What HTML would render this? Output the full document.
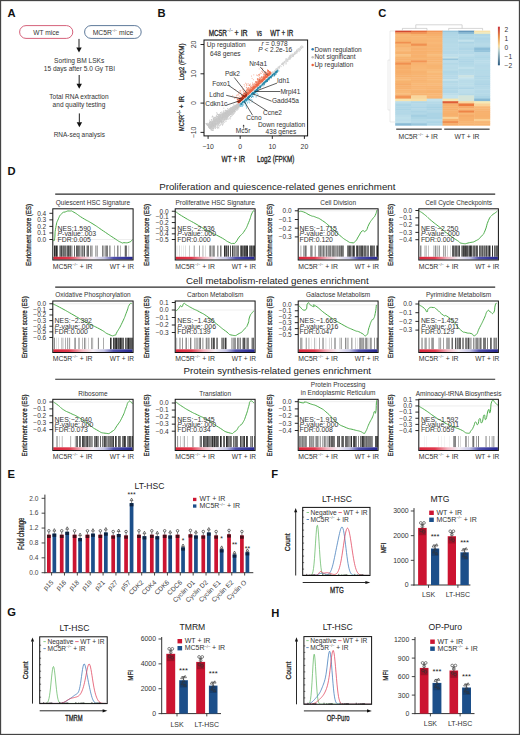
<!DOCTYPE html><html><head><meta charset="utf-8"><style>html,body{margin:0;padding:0;background:#fff;overflow:hidden;width:520px;height:735px;}svg{display:block;}text{font-family:"Liberation Sans",sans-serif;}</style></head><body>
<svg width="520" height="735" viewBox="0 0 520 735">
<rect x="0" y="0" width="520" height="735" fill="#fff"/>
<text x="7.60" y="17.00" font-size="11.2" fill="#111" font-weight="bold">A</text>
<text x="157.50" y="17.30" font-size="11.2" fill="#111" font-weight="bold">B</text>
<text x="378.20" y="17.30" font-size="11.2" fill="#111" font-weight="bold">C</text>
<text x="7.40" y="174.60" font-size="11.2" fill="#111" font-weight="bold">D</text>
<text x="7.40" y="477.90" font-size="11.2" fill="#111" font-weight="bold">E</text>
<text x="271.20" y="477.70" font-size="11.2" fill="#111" font-weight="bold">F</text>
<text x="7.20" y="616.40" font-size="11.2" fill="#111" font-weight="bold">G</text>
<text x="271.20" y="616.70" font-size="11.2" fill="#111" font-weight="bold">H</text>
<rect x="19.6" y="25.6" width="53.2" height="12.8" rx="6.4" fill="none" stroke="#d0506c" stroke-width="0.9"/>
<text x="46.20" y="34.60" font-size="6.6" fill="#333" text-anchor="middle">WT mice</text>
<rect x="84.6" y="25.6" width="56.6" height="12.8" rx="6.4" fill="none" stroke="#4d6b8f" stroke-width="0.9"/>
<text x="113" y="34.6" font-size="6.8" fill="#333" text-anchor="middle">MC5R<tspan font-size="3.6" dy="-2.6">−/−</tspan><tspan dy="2.6"> mice</tspan></text>
<rect x="78.40" y="38.90" width="1.20" height="8.90" fill="#444"/>
<polygon points="76.30,47.40 81.70,47.40 79.00,52.40" fill="#111"/>
<text x="79.20" y="62.80" font-size="6.6" fill="#333" text-anchor="middle">Sorting BM LSKs</text>
<text x="79.40" y="71.10" font-size="6.6" fill="#333" text-anchor="middle">15 days after 5.0 Gy TBI</text>
<rect x="78.60" y="75.00" width="1.20" height="9.20" fill="#444"/>
<polygon points="76.50,83.80 81.90,83.80 79.20,88.80" fill="#111"/>
<text x="79.00" y="98.80" font-size="6.55" fill="#333" text-anchor="middle">Total RNA extraction</text>
<text x="79.00" y="107.10" font-size="6.55" fill="#333" text-anchor="middle">and quality testing</text>
<rect x="78.80" y="113.40" width="1.20" height="9.20" fill="#444"/>
<polygon points="76.70,122.20 82.10,122.20 79.40,127.20" fill="#111"/>
<text x="79.30" y="137.10" font-size="6.45" fill="#333" text-anchor="middle">RNA-seq analysis</text>
<clipPath id="bclip"><rect x="204.5" y="40.5" width="102.6" height="94.9"/></clipPath><g clip-path="url(#bclip)">
<path d="M228.1 111.3h0M236.8 105.2h0M222.7 117.8h0M222.9 116.3h0M239.0 105.5h0M236.7 106.6h0M225.6 114.5h0M232.7 110.6h0M217.8 116.9h0M227.2 114.9h0M207.0 123.7h0M229.5 110.9h0M234.5 107.5h0M213.1 122.3h0M234.7 110.4h0M228.2 114.7h0M221.6 117.1h0M232.7 109.5h0M219.3 122.3h0M220.4 117.8h0M225.6 116.4h0M214.8 117.4h0M232.6 111.9h0M213.1 125.8h0M217.7 123.2h0M234.0 104.9h0M226.0 114.7h0M224.6 117.3h0M239.3 105.9h0M223.4 121.1h0M213.2 125.9h0M218.6 115.9h0M223.7 121.9h0M209.7 125.4h0M224.5 116.3h0M217.9 121.7h0M216.2 116.1h0M230.3 111.7h0M227.2 114.1h0M224.9 116.0h0M233.9 108.4h0M215.1 122.0h0M235.5 107.7h0M211.2 123.0h0M238.0 107.5h0M211.6 124.3h0M213.1 122.5h0M226.8 115.6h0M225.8 110.6h0M236.0 110.0h0M233.8 108.8h0M223.0 115.0h0M220.8 118.6h0M225.9 114.6h0M230.1 117.0h0M219.4 123.0h0M224.5 118.9h0M238.8 106.5h0M211.2 124.7h0M217.9 127.6h0M227.3 114.7h0M219.0 119.0h0M237.5 105.4h0M234.1 108.3h0M228.5 112.9h0M234.7 108.3h0M236.6 107.1h0M212.2 124.5h0M219.4 118.2h0M227.6 112.2h0M226.2 111.4h0M207.2 125.0h0M225.1 116.5h0M236.4 107.0h0M228.6 113.2h0M232.9 106.6h0M238.8 104.0h0M235.1 108.6h0M220.5 115.3h0M209.1 126.7h0M213.1 125.0h0M228.5 114.6h0M234.0 108.5h0M217.2 125.5h0M228.5 112.2h0M206.9 124.0h0M212.2 123.2h0M219.2 125.7h0M233.0 111.3h0M239.2 105.0h0M239.3 105.0h0M216.5 119.3h0M213.0 130.5h0M208.1 125.9h0M210.7 127.4h0M231.7 109.6h0M232.8 109.0h0M209.9 123.0h0M215.3 126.6h0M214.3 122.8h0M237.8 107.6h0M218.1 126.9h0M217.0 123.5h0M214.7 122.8h0M227.9 111.5h0M229.6 118.1h0M224.8 112.0h0M234.5 109.3h0M234.6 106.4h0M211.5 119.5h0M233.9 106.9h0M222.6 125.3h0M228.7 113.9h0M239.9 104.6h0M210.6 128.2h0M212.0 127.8h0M224.0 113.0h0M233.8 111.4h0M231.5 111.0h0M219.9 117.2h0M231.5 111.6h0M211.0 125.1h0M229.4 115.1h0M211.1 124.9h0M224.7 113.1h0M223.3 118.4h0M221.4 115.2h0M233.5 109.0h0M240.2 104.0h0M225.1 117.0h0M218.1 123.4h0M223.4 117.6h0M221.7 117.7h0M222.3 118.8h0M231.7 111.1h0M221.0 113.8h0M221.4 117.7h0M227.9 118.9h0M221.9 121.5h0M217.8 121.0h0M226.4 117.4h0M210.8 126.7h0M214.8 117.4h0M232.6 113.1h0M219.2 114.6h0M235.7 108.6h0M236.0 107.9h0M231.6 110.4h0M238.0 106.9h0M213.8 128.0h0M234.8 108.7h0M236.1 109.5h0M211.3 123.8h0M210.3 126.7h0M230.1 119.0h0M213.2 123.4h0M235.2 109.7h0M228.0 112.2h0M233.8 110.2h0M238.8 103.7h0M222.1 118.1h0M228.7 112.6h0M220.3 120.1h0M209.3 127.2h0M214.1 121.9h0M231.0 111.2h0M238.7 105.2h0M236.0 108.5h0M224.0 112.3h0M232.0 112.2h0M233.9 107.1h0M218.5 122.4h0M236.0 105.4h0M225.2 114.0h0M236.7 105.1h0M215.4 124.4h0M237.0 106.3h0M213.1 125.1h0M225.8 116.7h0M209.5 124.0h0M230.0 110.1h0M231.0 109.4h0M236.1 107.1h0M232.8 109.3h0M230.0 113.0h0M228.5 109.6h0M223.0 115.9h0M239.2 104.1h0M229.9 108.7h0M221.7 117.5h0M235.3 111.8h0M236.0 106.8h0M215.8 126.0h0M212.8 122.9h0M228.6 116.5h0M209.4 127.2h0M227.6 111.8h0M221.5 122.4h0M226.7 114.7h0M235.3 107.5h0M237.6 106.2h0M234.9 109.4h0M236.4 105.6h0M221.0 124.0h0M230.3 111.5h0M223.7 114.3h0M235.1 109.2h0M209.6 126.2h0M210.5 128.2h0M210.1 127.2h0M229.5 112.2h0M227.1 113.8h0M225.1 117.2h0M223.4 116.7h0M240.3 104.2h0M226.1 113.6h0M238.2 104.7h0M231.9 110.2h0M223.3 121.7h0M219.2 120.7h0M215.9 119.8h0M229.6 113.5h0M208.0 125.5h0M217.2 117.1h0M238.0 104.6h0M222.4 123.1h0M216.2 121.3h0M223.5 118.0h0M222.2 115.1h0M216.3 127.2h0M219.3 116.2h0M219.2 122.9h0M231.6 109.6h0M227.7 113.2h0M235.9 106.5h0M221.3 121.7h0M220.4 120.4h0M240.8 104.8h0M214.7 123.2h0M224.0 119.6h0M216.4 117.0h0M230.7 110.0h0M237.5 106.4h0M231.5 107.8h0M214.4 119.4h0M227.3 114.2h0M225.0 117.3h0M222.3 122.3h0M218.4 118.8h0M231.0 110.5h0M216.9 123.0h0M239.3 103.6h0M238.1 106.0h0M215.4 117.7h0M218.7 121.2h0M223.1 113.8h0M222.6 113.2h0M231.9 107.9h0M209.2 126.7h0M224.9 115.8h0M212.2 121.3h0M231.0 111.5h0M232.2 109.0h0M221.4 118.9h0M236.9 110.5h0M235.6 108.2h0M217.4 128.3h0M217.6 121.4h0M231.2 109.2h0M239.7 105.3h0M240.8 104.9h0M229.7 111.9h0M235.4 108.5h0M212.4 122.8h0M240.4 104.1h0M237.1 109.3h0M211.6 126.8h0M232.2 114.5h0M230.7 118.0h0M217.5 114.2h0M228.6 114.5h0M238.2 105.3h0M236.2 106.6h0M211.6 127.4h0M231.5 110.9h0M232.4 107.9h0M225.2 110.7h0M215.1 124.7h0M216.5 115.4h0M223.7 120.0h0M214.4 118.1h0M224.4 114.6h0M216.8 123.3h0M238.8 106.1h0M209.9 124.6h0M227.5 111.8h0M230.0 112.2h0M233.6 114.4h0M219.4 120.9h0M225.4 112.3h0M233.9 108.3h0M210.7 124.5h0M223.1 115.8h0M206.1 123.6h0M224.5 114.8h0M236.5 106.3h0M227.8 112.1h0M230.7 110.4h0M219.6 115.8h0M227.5 116.3h0M227.3 116.1h0M228.7 113.1h0M238.2 106.3h0M233.7 105.1h0M225.2 119.1h0M233.8 111.6h0M230.7 111.2h0M223.9 113.7h0M208.6 124.4h0M240.4 105.9h0M239.4 105.5h0M226.9 119.5h0M219.4 116.6h0M210.9 125.9h0M211.1 120.1h0M233.4 113.3h0M235.7 106.6h0M216.5 118.5h0M210.8 126.7h0M217.9 125.6h0M225.2 116.1h0M215.2 123.0h0M230.8 108.8h0M230.4 113.0h0M235.5 107.7h0M215.3 118.0h0M235.3 106.3h0M220.3 117.5h0M226.7 113.7h0M239.3 103.5h0M232.2 115.3h0M218.2 118.6h0M213.1 126.3h0M231.4 110.5h0M210.2 127.1h0M239.9 105.3h0M224.2 117.4h0M232.0 112.1h0M217.5 119.0h0M239.2 105.4h0M230.0 114.8h0M232.5 108.7h0M214.8 123.3h0M233.9 111.0h0M210.6 128.1h0M230.5 108.2h0M232.3 110.0h0M211.3 128.0h0M223.3 116.0h0M225.3 113.6h0M217.7 119.2h0M227.0 114.4h0M232.2 109.2h0M238.3 105.7h0M239.0 107.2h0M210.4 122.7h0M212.7 116.6h0M228.9 112.7h0M232.3 107.5h0M239.4 105.5h0M219.6 121.7h0M228.1 111.8h0M233.5 107.9h0M228.1 113.1h0M207.7 123.3h0M231.3 107.6h0M227.1 112.1h0M227.6 117.8h0M238.9 106.3h0M210.9 125.5h0M234.4 110.9h0M238.3 103.8h0M225.5 113.5h0M239.6 106.5h0M237.8 103.6h0M230.4 109.8h0M214.9 120.5h0M231.2 112.0h0M210.8 127.6h0M217.9 122.6h0M229.3 112.4h0M215.7 122.1h0M213.3 128.5h0M240.3 106.1h0M234.1 113.3h0M209.6 125.8h0M227.0 114.0h0M222.3 114.6h0M209.9 124.7h0M213.7 118.3h0M213.6 123.3h0M230.3 114.5h0M230.3 114.0h0M236.4 105.3h0M233.1 109.4h0M238.3 106.6h0M239.5 105.7h0M209.7 127.6h0M211.1 123.6h0M237.1 106.6h0M237.7 108.3h0M225.1 115.4h0M233.0 111.8h0M217.2 119.0h0M214.7 120.2h0M236.6 108.7h0M213.8 124.7h0M226.1 111.8h0M216.0 121.4h0M230.9 109.8h0M233.9 107.3h0M229.8 113.8h0M225.4 112.4h0M232.1 110.4h0M217.2 127.3h0M238.1 109.3h0M223.3 114.6h0M213.5 128.8h0M238.8 105.4h0M233.0 108.7h0M212.2 130.5h0M228.8 115.4h0M213.6 126.0h0M214.8 122.2h0M209.0 124.5h0M218.7 117.6h0M232.8 110.4h0M232.6 109.2h0M232.3 112.3h0M233.7 110.6h0M240.3 104.9h0M232.5 107.7h0M228.9 111.5h0M219.7 114.5h0M237.4 105.3h0M221.2 116.6h0M218.6 118.7h0M217.1 120.3h0M226.5 114.8h0M209.0 125.0h0M230.3 113.4h0M226.5 115.3h0M211.5 122.9h0M233.2 109.5h0M216.6 121.6h0M211.5 125.2h0M225.3 114.1h0M213.4 126.6h0M224.6 115.6h0M221.7 117.5h0M218.7 119.0h0M220.2 119.8h0M228.1 114.5h0M230.3 111.6h0M222.3 116.3h0M224.1 116.8h0M213.4 121.9h0M235.7 107.8h0M208.9 124.3h0M238.3 105.8h0M213.1 128.8h0M217.8 116.5h0M212.3 121.7h0M231.0 108.3h0M225.2 112.7h0M234.9 110.8h0M233.3 111.1h0M226.3 112.8h0M235.7 107.5h0M209.6 122.5h0M239.6 106.5h0M239.2 105.7h0M212.1 122.3h0M220.7 116.0h0M220.2 120.2h0M219.6 116.6h0M226.5 115.8h0M226.5 116.7h0M239.9 105.4h0M232.6 111.3h0M215.3 122.0h0M234.6 110.2h0M223.8 115.3h0M225.3 114.5h0M237.5 107.7h0M238.5 105.0h0M217.3 116.8h0M213.9 121.0h0M221.7 114.9h0M226.9 113.2h0M208.5 124.2h0M207.0 124.8h0M216.1 121.2h0M210.1 128.2h0M221.0 112.7h0M234.7 109.3h0M214.4 122.2h0M228.3 113.4h0M214.0 119.7h0M228.9 109.0h0M212.9 121.9h0M209.9 124.2h0M232.9 109.8h0M227.9 110.8h0M238.7 105.0h0M209.9 125.2h0M217.4 119.6h0M215.6 123.7h0M236.9 108.7h0M228.2 113.8h0M214.1 127.0h0M212.8 125.8h0M235.4 105.8h0M226.9 114.3h0M215.1 123.8h0M216.8 112.5h0M227.7 113.2h0M234.7 110.1h0M213.3 118.1h0M230.8 110.1h0M217.3 117.0h0M218.8 120.5h0M229.1 111.9h0M234.8 108.2h0M221.6 121.4h0M211.1 124.4h0M235.2 107.6h0M238.7 103.7h0M240.5 104.3h0M227.5 112.8h0M233.3 111.5h0M233.5 110.4h0M220.6 120.4h0M210.5 126.0h0M231.4 110.3h0M218.8 118.9h0M212.2 124.4h0M231.9 112.4h0M240.3 105.0h0M229.3 114.6h0M222.5 124.4h0M215.2 120.0h0M231.2 110.4h0M222.8 117.6h0M226.4 114.4h0M214.6 122.0h0M241.0 106.0h0M235.6 108.8h0M233.8 110.6h0M220.4 121.3h0M213.5 122.6h0M229.0 110.9h0M237.6 104.5h0M218.9 123.8h0M239.7 103.6h0M226.3 118.1h0M217.4 123.5h0M236.2 106.9h0M231.2 109.3h0M215.7 121.6h0M216.2 119.0h0M232.1 112.8h0M224.1 120.8h0M221.9 115.9h0M232.4 113.2h0M234.2 112.3h0M211.2 123.6h0M231.8 110.3h0M213.7 118.6h0M229.5 113.4h0M212.7 125.6h0M210.6 124.4h0M220.3 120.6h0M211.2 129.5h0M223.4 114.5h0M214.6 126.8h0M225.7 115.5h0M230.8 113.9h0M232.9 110.2h0M211.7 126.1h0M234.6 107.7h0M210.7 125.9h0M228.2 112.8h0M238.6 105.2h0M219.4 123.1h0M218.3 124.4h0M238.3 106.7h0M214.9 124.7h0M213.5 123.0h0M212.9 125.1h0M210.7 124.9h0M233.0 109.8h0M234.8 105.5h0M213.5 122.6h0M218.5 118.3h0M231.4 113.3h0M235.6 105.7h0M232.1 108.5h0M229.3 112.7h0M231.1 110.8h0M230.5 111.8h0M230.1 113.8h0M212.4 130.2h0M220.0 119.3h0M239.6 105.7h0M214.4 121.4h0M228.7 113.6h0M233.5 111.3h0M210.7 121.8h0M233.3 107.7h0M240.2 103.7h0M207.3 124.2h0M240.8 104.9h0M214.6 123.0h0M234.3 110.1h0M213.6 123.8h0M230.3 110.0h0M232.8 110.2h0M218.3 122.1h0M219.4 119.6h0M237.0 106.1h0M217.4 126.3h0M220.6 120.7h0M225.9 112.9h0M209.6 122.0h0M238.8 104.1h0M233.0 109.9h0M220.7 112.8h0M226.6 113.0h0M225.3 116.5h0M222.5 117.2h0M221.6 123.3h0M228.5 113.5h0M212.6 123.2h0M218.7 120.3h0M226.1 116.2h0M216.1 123.7h0M225.0 116.1h0M212.0 125.0h0M229.1 111.1h0M216.9 120.4h0M234.9 108.9h0M232.0 111.4h0M233.5 107.4h0M227.8 111.2h0M212.5 116.1h0M236.1 106.6h0M227.2 114.1h0M208.7 126.4h0M227.4 117.7h0M233.4 109.8h0M233.1 110.1h0M225.8 112.5h0M214.5 122.6h0M219.9 123.9h0M224.6 115.8h0M235.6 108.9h0M217.3 123.3h0M213.0 127.6h0M215.1 120.9h0M225.7 114.4h0M210.2 122.1h0M216.3 124.0h0M221.0 124.5h0M220.5 121.5h0M219.3 119.0h0M237.6 108.3h0M215.7 119.5h0M219.6 119.5h0M223.6 113.8h0M221.7 121.8h0M209.7 124.6h0M234.4 110.2h0M228.6 116.2h0M223.5 115.9h0M222.3 117.7h0M234.0 108.0h0M226.0 121.2h0M237.2 108.0h0M217.9 122.7h0M224.7 119.0h0M224.8 119.7h0M225.5 113.5h0M218.3 121.2h0M226.8 114.1h0M209.9 128.1h0M227.2 112.2h0M226.3 113.9h0M240.3 105.1h0M216.7 119.9h0M228.2 113.3h0M215.1 120.4h0M211.4 127.5h0M214.7 123.5h0M226.7 113.9h0M214.4 121.6h0M215.5 125.1h0M222.8 119.6h0M231.4 109.1h0M219.6 120.1h0M213.3 122.6h0M231.0 113.2h0M220.2 115.2h0M226.6 111.3h0M213.2 124.5h0M230.4 109.6h0M225.8 114.9h0M216.8 121.4h0M230.4 111.5h0M223.1 114.7h0M226.9 116.5h0M229.0 115.1h0M210.6 125.6h0M214.2 124.4h0M211.3 125.3h0M214.5 125.1h0M219.3 119.3h0M210.2 126.5h0M218.8 120.1h0M234.7 107.6h0M231.8 110.2h0M235.4 109.3h0M211.3 125.2h0M212.7 126.2h0M219.8 118.5h0M213.8 127.8h0M214.3 122.2h0M218.6 122.1h0M222.6 117.4h0M213.6 126.9h0M221.9 118.0h0M234.6 107.3h0M222.4 114.6h0M234.6 107.7h0M225.4 118.6h0M212.7 124.6h0M239.9 103.9h0M222.9 119.8h0M217.7 119.2h0M227.0 116.0h0M208.3 124.4h0M218.4 118.3h0M239.8 105.8h0M212.0 127.7h0M227.6 111.0h0M224.2 116.5h0M209.7 122.6h0M219.2 118.7h0M227.9 112.0h0M225.2 117.3h0M222.6 117.0h0M226.3 116.2h0M228.0 117.7h0M230.6 112.6h0M215.4 126.0h0M230.0 110.4h0M221.4 114.2h0M215.2 123.6h0M229.1 113.2h0M219.8 117.0h0M219.3 119.5h0M217.3 122.2h0M212.5 125.6h0M229.9 112.1h0M239.8 103.7h0M217.1 114.9h0M217.9 119.0h0M223.3 123.3h0M221.6 121.4h0M222.2 120.9h0M217.5 119.9h0M223.0 113.2h0M214.8 121.3h0M238.7 104.9h0M213.3 119.9h0M228.4 114.7h0M213.4 123.1h0M232.3 112.5h0M230.5 113.0h0M225.2 114.3h0M218.8 119.1h0M221.7 118.4h0M238.0 104.3h0M219.5 115.9h0M211.3 126.1h0M226.9 113.9h0M217.0 113.6h0M225.6 117.9h0M224.9 112.8h0M231.9 108.8h0M234.6 108.2h0M218.0 120.7h0M235.4 107.1h0M212.7 124.9h0M234.3 106.2h0M231.5 110.3h0M216.3 121.5h0M214.8 122.0h0M215.5 119.2h0M237.9 107.6h0M220.0 120.0h0M212.1 128.0h0M229.8 108.9h0M240.1 104.7h0M240.3 105.3h0M238.2 107.7h0M229.5 112.3h0M213.6 125.6h0M222.8 114.7h0M220.7 117.6h0M225.7 115.6h0M215.5 124.3h0M228.7 114.7h0M227.4 116.5h0M226.4 113.1h0M218.9 128.1h0M221.6 118.3h0M209.1 126.3h0M216.7 120.2h0M221.5 120.5h0M208.6 125.9h0M230.7 113.8h0M224.8 113.8h0M218.9 122.1h0M218.3 116.0h0M231.4 113.0h0M240.4 104.1h0M219.4 116.5h0M213.7 123.1h0M213.9 124.4h0M212.8 121.5h0M231.5 112.6h0M212.4 123.4h0M213.1 128.2h0M227.1 111.5h0M213.6 121.7h0M233.0 109.5h0M234.0 113.2h0M221.0 120.0h0M233.7 110.8h0M231.2 110.8h0M227.0 118.7h0M236.6 106.1h0M233.4 112.3h0M218.7 115.2h0M224.5 119.4h0M224.9 117.0h0M233.6 109.7h0M233.9 109.4h0M222.8 119.8h0M227.2 115.2h0M238.6 105.5h0M209.3 128.0h0M219.0 118.9h0M213.7 121.3h0M227.1 111.4h0M222.6 116.6h0M209.0 127.2h0M214.3 126.9h0M230.9 110.9h0M218.7 127.6h0M213.7 120.1h0M212.8 122.0h0M238.9 105.4h0M232.9 109.3h0M238.1 105.3h0M220.7 116.5h0M211.4 127.8h0M209.8 123.4h0M226.1 113.4h0M235.3 106.8h0M221.8 118.4h0M217.1 116.8h0M227.3 114.8h0M223.4 113.1h0M206.2 123.5h0M231.7 109.2h0M227.9 112.9h0M209.5 122.7h0M239.1 106.3h0M215.6 123.7h0M211.0 129.7h0M237.5 104.9h0M208.8 123.9h0M218.8 121.4h0M213.7 119.5h0M236.6 107.4h0M235.2 106.9h0M223.6 115.5h0M234.5 107.4h0M215.7 117.2h0M233.1 109.3h0M238.6 104.7h0M211.1 126.6h0M212.1 123.9h0M225.6 116.0h0M235.5 105.3h0M220.9 121.1h0M226.2 117.2h0M222.2 113.4h0M219.0 118.6h0M237.8 105.3h0M218.0 122.5h0M212.8 125.1h0M231.3 111.8h0M230.4 110.9h0M213.8 124.6h0M223.1 115.5h0M228.8 111.8h0M209.8 127.5h0M237.4 104.8h0M233.5 110.9h0M224.4 116.4h0M232.4 108.7h0M223.8 108.2h0M211.2 126.3h0M236.9 107.4h0M236.8 104.1h0M217.9 123.3h0M238.4 102.7h0M214.8 124.0h0M240.2 103.8h0M214.7 125.3h0M225.6 115.3h0M211.0 125.2h0M234.2 106.7h0M233.6 108.8h0M234.5 111.2h0M236.5 105.4h0M222.7 115.2h0M230.3 110.8h0M215.1 118.3h0M215.2 124.8h0M238.0 106.3h0M218.7 124.7h0M237.6 105.0h0M215.9 125.6h0M210.5 121.7h0M220.9 112.6h0M224.0 115.7h0M212.6 124.9h0M212.6 122.5h0M227.1 112.8h0M219.4 117.1h0M240.8 104.9h0M223.2 117.2h0M236.1 107.9h0M215.0 127.8h0M229.3 112.8h0M217.6 124.3h0M236.9 104.5h0M226.0 119.6h0M224.7 119.1h0M239.7 104.9h0M209.6 126.6h0M236.0 106.5h0M231.3 110.6h0M236.8 107.1h0M217.4 120.9h0M220.2 118.5h0M223.4 121.3h0M236.6 107.2h0M212.6 124.8h0M235.9 107.9h0M224.8 117.9h0M235.7 107.5h0M225.4 113.1h0M211.5 122.7h0M236.0 109.7h0M234.8 109.4h0M212.3 121.8h0M226.4 115.4h0M214.7 125.8h0M210.7 126.5h0M215.9 123.6h0M228.0 111.9h0M223.3 112.2h0M211.6 126.0h0M213.8 123.1h0M223.3 117.5h0M209.1 125.4h0M226.3 115.3h0M220.7 121.2h0M237.1 105.4h0M225.8 115.4h0M235.1 108.0h0M209.2 126.2h0M223.0 124.3h0M211.8 120.0h0M239.7 106.2h0M219.5 120.1h0M229.2 109.4h0M220.5 115.3h0M232.0 111.6h0M225.9 121.1h0M229.2 110.3h0M229.9 112.5h0M221.2 119.5h0M211.1 128.0h0M224.6 115.9h0M222.1 116.8h0M235.1 107.4h0M230.7 112.7h0M231.2 110.0h0M238.1 108.2h0M221.0 120.1h0M221.9 118.9h0M218.1 122.5h0M226.4 117.9h0M225.0 116.6h0M229.4 112.2h0M222.2 115.6h0M227.3 114.1h0M228.2 113.3h0M212.6 124.4h0M222.1 114.2h0M229.4 110.5h0M215.5 122.8h0M233.0 106.6h0M224.4 113.9h0M238.4 106.6h0M215.3 120.3h0M235.9 106.8h0M212.3 116.4h0M235.0 108.9h0M217.0 118.8h0M218.4 117.0h0M225.0 119.7h0M216.5 122.1h0M226.4 118.9h0M215.9 124.2h0M237.1 109.8h0M210.3 121.7h0M220.8 118.4h0M221.9 114.3h0M226.4 115.2h0M213.5 120.8h0M228.3 115.3h0M226.9 118.1h0M229.6 111.2h0M228.0 115.5h0M229.4 112.9h0M213.8 121.4h0M226.4 116.9h0M233.7 109.3h0M220.5 117.3h0M218.3 114.7h0M227.8 110.9h0M211.6 121.8h0M234.7 112.1h0M225.6 114.7h0M238.5 105.6h0M224.7 122.3h0M215.3 122.6h0M220.7 115.2h0M223.0 117.0h0M219.1 122.3h0M219.8 117.5h0M226.6 111.1h0M223.4 118.0h0M237.0 107.6h0M220.6 116.6h0M218.6 114.7h0M226.2 119.4h0M228.2 119.1h0M230.9 116.4h0M222.3 116.8h0M229.8 113.2h0M208.7 126.1h0M236.9 108.2h0M212.7 126.5h0M211.3 130.3h0M212.7 126.0h0M229.8 111.3h0M224.0 118.0h0M233.7 109.1h0M220.7 121.0h0M209.7 128.4h0M217.9 117.6h0M214.5 122.4h0M229.6 112.2h0M229.7 112.2h0M215.0 126.4h0M233.8 110.3h0M224.5 117.9h0M219.5 120.4h0M220.8 114.9h0M226.3 114.6h0M235.1 106.6h0M235.3 105.8h0M236.1 106.4h0M212.1 121.4h0M219.9 118.9h0M240.1 104.7h0M216.6 124.1h0M226.5 111.1h0M234.1 108.8h0M211.0 124.7h0M221.9 119.7h0M226.0 112.6h0M237.6 104.9h0M211.1 128.1h0M226.0 116.1h0M238.9 105.8h0M210.1 125.1h0M212.6 126.6h0M214.8 124.6h0M208.3 124.4h0M222.7 115.2h0M227.2 114.4h0M216.7 121.1h0M211.3 123.3h0M223.7 115.9h0M234.5 109.6h0M226.8 111.8h0M227.6 108.5h0M220.3 116.2h0M226.1 112.7h0M226.0 113.6h0M213.5 123.3h0M228.1 113.1h0M229.7 110.7h0M230.5 108.7h0M228.1 112.5h0M234.6 108.5h0M231.2 111.8h0M212.6 122.7h0M212.5 122.6h0M213.6 122.2h0M215.6 119.8h0M226.6 112.8h0M210.4 126.8h0M223.2 116.4h0M234.6 106.7h0M217.5 121.5h0M217.8 114.4h0M227.6 113.5h0M231.5 108.2h0M211.3 123.3h0M221.1 116.0h0M230.6 111.1h0M220.3 122.1h0M222.0 118.8h0M236.4 105.8h0M233.4 108.4h0M219.7 121.7h0M236.8 108.0h0M224.0 117.2h0M229.1 110.8h0M231.9 109.8h0M235.7 107.8h0M227.4 115.6h0M211.0 125.0h0M215.5 128.2h0M235.4 107.8h0M217.7 120.1h0M219.5 121.5h0M217.4 118.4h0M217.5 121.0h0M226.0 110.4h0M219.3 119.1h0M210.7 124.8h0M216.6 121.9h0M238.9 105.5h0M234.1 108.3h0M226.3 112.6h0M239.1 105.7h0M232.7 107.6h0M215.3 126.6h0M231.9 111.7h0M226.0 115.7h0M240.8 104.6h0M213.3 123.7h0M239.1 106.0h0M213.3 124.8h0M231.8 110.9h0M236.0 107.1h0M212.1 126.9h0M213.9 119.2h0M225.9 112.9h0M215.5 121.2h0M237.3 107.3h0M213.0 130.0h0M216.1 118.6h0M215.3 120.4h0M226.5 117.6h0M238.4 106.0h0M224.5 118.7h0M209.3 123.9h0M237.9 104.5h0M217.0 120.5h0M223.1 119.0h0M210.7 128.3h0M232.3 111.9h0M238.4 106.4h0M232.3 108.6h0M228.4 110.8h0M216.5 117.9h0M231.7 110.4h0M223.7 113.4h0M211.3 127.0h0M211.2 123.8h0M235.6 108.9h0M214.7 124.3h0M222.0 117.6h0M219.4 121.6h0M222.9 122.1h0M213.0 123.0h0M236.2 107.6h0M232.1 108.6h0M238.0 106.0h0M216.4 119.7h0M224.3 114.3h0M223.7 114.9h0M227.6 113.2h0M239.8 104.2h0M209.0 127.3h0M217.7 122.3h0M209.9 127.9h0M224.1 116.7h0M225.0 114.3h0M239.5 103.5h0M212.2 127.3h0M212.1 128.1h0M218.9 120.0h0M234.6 107.2h0M239.1 104.7h0M231.8 114.4h0M234.6 110.5h0M212.8 128.6h0M233.8 108.3h0M219.3 126.0h0M228.1 111.5h0M227.4 110.0h0M228.6 114.9h0M214.2 124.6h0M230.6 109.0h0M219.1 118.8h0M215.0 125.0h0M213.1 130.0h0M224.4 117.5h0M229.8 111.9h0M219.1 115.8h0M233.7 107.8h0M224.7 114.6h0M238.8 105.4h0M224.7 114.3h0M239.6 103.1h0M212.0 122.2h0M227.5 117.1h0M230.9 112.4h0M227.2 116.4h0M230.0 114.8h0M212.9 122.6h0M211.0 124.7h0M224.4 114.1h0M222.1 118.7h0M236.7 106.1h0M231.7 116.1h0M210.6 124.4h0M209.4 120.2h0M220.5 120.1h0M212.0 120.4h0M219.4 117.9h0M232.1 114.9h0M225.5 118.0h0M219.5 120.5h0M211.0 123.5h0M238.9 104.5h0M223.4 113.1h0M237.4 107.0h0M222.2 120.0h0M227.6 116.7h0M227.0 114.6h0M235.4 106.5h0M219.4 114.1h0M235.7 106.8h0M237.1 107.3h0M222.6 117.3h0M220.3 115.6h0M232.6 110.7h0M223.4 117.3h0M219.5 116.8h0M237.2 105.8h0M224.4 113.9h0M218.6 123.5h0M212.1 117.2h0M213.6 117.1h0M236.1 106.6h0M234.7 109.7h0M212.0 129.5h0M235.7 108.6h0M214.1 121.2h0M227.2 113.3h0M240.1 104.9h0M230.2 112.5h0M220.3 125.3h0M218.5 117.4h0M215.2 128.4h0M213.6 126.3h0M234.2 108.7h0M217.1 124.5h0M217.7 120.1h0M228.0 114.4h0M213.9 118.5h0M238.9 105.8h0M218.9 116.9h0M213.3 121.7h0M235.1 106.0h0M231.9 111.7h0M234.8 111.4h0M220.1 117.2h0M235.7 106.9h0M214.4 123.1h0M234.2 110.0h0M218.3 121.4h0M225.8 111.9h0M220.2 114.5h0M216.4 119.0h0M241.0 106.1h0M227.7 112.0h0M211.2 123.1h0M213.5 121.9h0M213.8 123.3h0M219.5 122.5h0M233.9 107.7h0M215.3 127.0h0M218.3 116.6h0M237.6 106.6h0M211.0 124.2h0M220.0 117.5h0M227.6 113.1h0M225.6 117.3h0M228.6 113.9h0M240.6 104.8h0M239.8 105.0h0M224.4 115.2h0M234.9 108.2h0M218.5 120.6h0M222.5 115.2h0M232.0 112.5h0M210.7 127.5h0M207.4 125.1h0M215.0 122.0h0M212.2 124.4h0M221.6 122.4h0M228.2 114.0h0M210.2 121.7h0M211.0 126.8h0M216.9 124.1h0M218.7 125.0h0M228.2 113.3h0M222.4 118.3h0M228.4 112.6h0M227.8 110.9h0M227.7 113.7h0M231.5 110.5h0M234.6 107.0h0M239.8 103.8h0M226.2 116.7h0M221.7 118.5h0M237.4 105.6h0M230.3 112.8h0M219.9 114.9h0M212.2 128.3h0M218.3 114.8h0M236.9 105.9h0M207.6 125.1h0M227.8 113.1h0M214.0 126.5h0M239.0 107.8h0M230.4 111.1h0M230.6 110.2h0M230.7 111.1h0M217.1 120.7h0M232.2 108.4h0M219.0 117.0h0M234.1 110.7h0M214.3 118.9h0M237.5 106.7h0M213.2 122.0h0M235.7 108.6h0M235.1 111.4h0M220.0 120.7h0M210.7 125.5h0M214.6 120.2h0M220.9 122.5h0M227.7 111.6h0M238.2 106.0h0M219.5 119.1h0M230.1 114.7h0M231.1 110.9h0M221.8 111.9h0M221.3 117.7h0M207.5 124.9h0M216.0 120.5h0M228.3 112.0h0M234.8 107.7h0M213.0 119.1h0M224.7 113.3h0M223.8 119.5h0M219.8 121.5h0M221.6 120.4h0M229.8 109.1h0M216.9 121.0h0M231.2 114.5h0M213.6 120.2h0M230.6 111.6h0M222.1 116.2h0M240.1 104.5h0M225.5 117.7h0M229.4 115.5h0M208.8 126.9h0M235.8 105.2h0M239.1 104.8h0M223.1 116.2h0M220.5 116.0h0M225.3 110.3h0M234.2 107.5h0M209.1 123.2h0M233.0 106.8h0M231.4 110.2h0M211.2 129.6h0M228.3 113.0h0M216.0 125.1h0M211.3 125.1h0M236.3 107.2h0M219.7 120.6h0M226.3 114.0h0M221.9 118.5h0M223.8 111.2h0M221.4 121.8h0M232.3 110.1h0M224.6 113.8h0M231.6 109.7h0M216.8 116.5h0M229.1 111.0h0M221.4 118.2h0M233.5 107.1h0M232.3 113.1h0M215.4 121.4h0M229.5 113.7h0M223.4 115.5h0M218.6 121.5h0M222.4 121.2h0M211.7 124.3h0M232.1 109.0h0M216.2 124.2h0M211.6 123.1h0M206.6 124.2h0M229.4 111.2h0M209.4 126.8h0M239.8 104.0h0M216.9 122.5h0M236.1 106.2h0M236.0 105.5h0M227.0 110.9h0M213.2 126.4h0M208.4 125.8h0M214.6 122.7h0M216.0 118.4h0M231.8 110.0h0M225.5 114.7h0M208.9 127.1h0M228.9 111.8h0M224.4 116.9h0M235.7 108.5h0M217.5 120.1h0M234.9 108.3h0M236.9 108.4h0M230.5 116.5h0M228.1 113.0h0M230.8 107.5h0M217.3 122.7h0M230.3 110.9h0M237.2 105.5h0M239.2 106.2h0M221.9 118.0h0M226.1 111.2h0M218.7 119.8h0M224.2 120.3h0M209.9 127.9h0M212.7 125.2h0M230.2 113.8h0M224.9 113.2h0M227.2 114.2h0M223.7 111.0h0M238.8 102.4h0M219.2 117.7h0M220.7 119.8h0" stroke="#c8c8c8" stroke-width="0.95" stroke-linecap="round" fill="none" opacity="1"/>
<path d="M263.8 81.6h0M247.8 96.8h0M293.2 55.2h0M242.1 99.2h0M283.3 63.1h0M275.3 72.4h0M260.0 85.1h0M286.9 60.5h0M292.9 53.6h0M302.4 46.2h0M254.2 89.1h0M263.2 80.8h0M284.2 61.9h0M279.0 68.5h0M282.2 64.1h0M274.9 72.7h0M253.8 90.0h0M296.8 50.9h0M269.7 75.9h0M269.4 75.2h0M254.9 91.2h0M274.3 73.8h0M272.0 72.2h0M255.0 89.3h0M251.3 93.5h0M279.7 66.0h0M292.9 56.6h0M242.2 100.0h0M264.6 81.8h0M247.0 95.2h0M249.8 94.3h0M262.8 83.0h0M289.9 56.6h0M245.6 98.0h0M265.8 81.3h0M268.3 77.4h0M270.4 76.0h0M248.7 93.7h0M282.3 63.8h0M255.6 90.0h0M263.1 81.6h0M241.8 102.5h0M252.6 91.5h0M251.3 92.8h0M285.1 62.0h0M255.8 89.7h0M293.1 56.1h0M294.4 54.4h0M251.9 90.8h0M279.3 68.2h0M264.1 82.4h0M263.4 82.3h0M284.6 62.2h0M281.3 66.6h0M290.6 56.5h0M276.9 70.4h0M298.6 50.8h0M286.2 63.7h0M263.3 81.6h0M244.2 98.7h0M287.0 59.4h0M271.8 75.2h0M296.6 51.6h0M277.2 69.1h0M268.1 75.7h0M266.4 79.6h0M270.3 76.5h0M270.6 74.7h0M272.6 74.2h0M285.8 60.1h0M266.2 80.9h0M275.1 71.7h0M288.4 59.2h0M253.7 90.2h0M245.1 98.8h0M245.5 97.8h0M287.2 59.9h0M282.8 64.1h0M284.5 62.3h0M283.5 63.6h0M264.6 77.6h0M290.3 55.5h0M295.1 53.6h0M273.0 73.9h0M241.0 103.2h0M256.6 88.1h0M259.8 85.2h0M276.1 72.4h0M272.0 73.8h0M259.3 85.8h0M294.8 53.9h0M255.2 87.4h0M253.5 92.2h0M263.8 81.9h0M268.5 75.9h0M263.1 82.3h0M290.8 57.7h0M276.2 72.4h0M243.1 99.9h0M266.4 80.3h0M275.4 70.6h0M290.4 58.0h0M258.2 86.2h0M276.3 68.4h0M269.2 77.6h0M294.9 52.7h0M243.1 99.1h0M243.6 100.6h0M294.9 54.4h0M251.8 93.1h0M297.0 49.5h0M271.0 74.3h0M282.2 64.4h0M253.0 90.7h0M293.4 55.9h0M254.2 92.2h0M247.3 98.1h0M300.3 49.3h0M265.9 79.2h0M296.5 51.0h0M283.2 64.0h0M283.9 63.5h0M243.1 100.9h0M254.4 89.4h0M276.3 69.6h0M250.5 94.9h0M296.8 50.6h0M250.7 95.3h0M290.8 57.9h0M242.2 101.2h0M263.7 81.2h0M274.0 71.6h0M245.2 96.9h0M267.3 78.7h0M283.5 65.0h0M248.5 96.8h0M299.3 51.6h0M273.1 73.0h0M257.9 86.0h0M272.1 75.4h0M298.9 50.5h0M294.6 54.1h0M277.4 68.7h0M248.9 95.1h0M258.0 88.4h0M253.7 89.5h0M298.8 51.0h0M300.9 48.0h0M262.5 84.1h0M243.0 100.0h0M260.6 83.7h0M286.8 60.8h0M251.5 93.0h0M244.1 98.7h0M275.8 71.7h0M289.9 58.4h0M277.3 68.9h0M272.4 73.8h0M246.1 97.4h0M276.1 69.9h0M261.7 82.4h0M251.1 94.3h0M251.3 93.8h0M292.7 54.8h0M294.6 52.9h0M246.1 97.8h0M295.7 53.3h0M274.2 72.9h0M247.2 96.1h0M273.8 72.6h0M271.7 73.9h0M265.8 80.3h0M253.2 91.7h0M295.1 53.6h0M271.7 74.5h0M299.2 49.1h0M271.0 75.4h0M282.6 63.1h0M254.6 90.0h0M256.4 87.7h0M241.6 100.8h0M258.9 86.8h0M296.6 52.8h0M255.2 90.1h0M277.7 69.3h0M243.2 98.8h0M254.3 87.9h0M241.8 99.9h0M278.5 67.4h0M260.6 82.7h0M289.7 55.7h0M241.2 102.8h0M298.6 48.9h0M246.0 98.3h0M255.4 89.0h0M248.8 93.7h0M262.0 83.6h0M254.2 90.8h0M262.9 85.9h0M289.5 57.6h0M269.2 74.8h0M297.1 51.2h0M287.0 59.9h0M279.0 67.1h0M293.2 54.8h0M284.9 61.9h0M262.8 83.9h0M283.6 65.8h0M287.6 61.1h0M299.7 50.3h0M296.8 51.4h0M289.3 56.3h0M276.2 68.5h0M289.7 58.7h0M294.3 52.9h0M274.9 74.0h0M300.5 50.1h0M290.5 59.0h0M256.2 88.9h0M252.2 91.5h0M268.9 77.0h0M297.7 51.8h0M283.0 63.8h0M288.7 57.8h0M289.3 57.2h0M290.7 54.8h0M266.3 80.5h0M293.0 55.7h0M260.6 82.9h0M289.2 57.2h0M240.4 102.7h0M247.1 96.8h0M290.4 56.1h0M269.2 77.3h0M261.3 84.0h0M293.6 55.3h0M278.9 67.7h0M257.4 87.8h0M283.3 62.3h0M291.0 57.3h0M247.7 96.1h0M291.6 55.9h0M251.5 92.4h0M264.3 83.7h0M254.8 90.8h0M295.7 51.6h0M263.5 79.3h0M271.9 74.1h0M302.5 47.0h0M251.3 94.7h0M273.6 73.3h0M299.4 49.1h0M268.8 77.3h0M261.9 82.6h0M245.4 96.4h0M272.0 73.4h0M264.9 82.6h0M281.4 64.6h0M244.5 98.4h0M299.7 48.0h0M262.4 82.0h0M263.0 81.0h0M272.3 72.8h0M270.3 73.6h0M263.2 82.5h0M292.4 55.4h0M282.4 63.5h0M287.0 60.0h0M295.9 52.1h0M241.5 100.2h0M261.5 85.4h0M297.1 53.1h0M248.6 94.3h0M242.7 100.1h0M264.7 80.7h0M257.0 86.3h0M287.7 59.4h0M267.2 79.7h0M300.8 46.7h0M281.7 63.7h0M264.9 82.2h0M283.2 63.4h0M258.0 87.6h0M292.5 56.5h0M289.7 57.6h0M272.8 73.9h0M295.6 53.4h0M251.7 94.1h0M260.2 85.7h0M264.3 81.4h0M301.1 48.2h0M259.5 85.3h0M299.4 49.3h0M268.1 78.5h0M247.0 96.9h0M264.9 81.6h0M300.5 48.0h0M297.5 51.5h0M268.8 77.8h0M288.2 58.0h0M260.5 85.6h0M270.4 76.9h0M274.7 70.8h0M256.6 86.6h0M263.5 82.9h0M257.9 86.3h0M279.6 67.0h0M243.8 101.6h0M291.5 55.4h0M298.8 49.2h0M256.8 87.9h0M274.8 72.0h0M287.1 59.8h0M290.2 56.5h0M246.9 96.5h0M301.5 48.5h0M279.5 66.6h0M264.0 79.7h0M299.0 49.4h0M264.3 80.2h0M290.4 56.9h0M295.1 53.6h0M272.7 72.0h0M296.5 51.5h0M248.4 95.4h0M266.2 79.7h0M272.1 74.9h0M275.7 69.5h0M265.1 79.7h0M292.9 54.6h0M289.7 58.2h0M282.0 64.5h0M286.2 58.9h0M296.5 51.7h0M287.1 61.0h0M294.5 52.2h0M248.2 95.4h0M277.7 67.3h0M258.1 88.0h0M292.1 56.3h0M257.4 87.6h0M246.5 98.1h0M283.5 65.4h0M262.6 82.4h0M285.0 64.0h0M261.0 85.0h0M240.2 102.7h0M257.2 87.2h0M243.2 99.1h0M291.0 57.2h0M242.8 101.0h0M254.0 90.1h0M279.3 66.9h0M276.2 71.0h0M253.9 90.7h0M292.4 54.8h0M290.7 56.8h0M288.9 58.6h0M241.4 100.9h0M244.1 99.5h0M279.5 67.0h0M264.5 79.6h0M271.9 73.5h0M294.3 53.3h0M303.0 46.7h0M259.5 83.0h0M302.5 47.3h0M248.9 95.7h0M268.3 76.8h0M267.8 76.4h0M261.8 83.8h0M258.4 87.4h0M252.3 91.9h0M267.0 77.4h0M252.5 91.7h0M256.5 87.6h0M274.8 70.7h0M285.5 59.1h0M300.4 49.6h0M284.8 61.6h0M244.2 99.5h0M294.3 53.8h0M285.1 61.6h0M262.1 82.5h0M249.3 92.7h0M258.0 84.5h0M243.2 100.8h0M296.9 52.2h0M290.3 56.9h0M247.0 97.1h0M249.9 94.4h0M301.6 45.9h0M297.4 51.2h0M291.0 55.6h0M248.8 96.3h0M272.5 74.5h0M253.3 91.1h0M297.2 51.3h0M286.2 63.9h0M267.0 77.7h0M285.3 60.5h0M293.6 55.7h0M249.0 95.8h0M276.9 69.7h0M265.0 82.4h0M289.5 58.2h0M270.4 77.7h0M274.0 72.9h0M244.3 98.7h0M296.3 53.2h0M270.3 75.2h0M255.1 88.9h0M296.7 51.2h0M277.4 69.5h0M248.3 96.1h0M277.4 70.2h0M279.9 66.6h0M243.8 98.7h0M286.2 62.3h0M265.5 80.4h0M282.2 64.6h0M280.4 65.6h0M283.2 63.3h0M297.2 51.2h0M278.1 69.2h0M302.1 46.9h0M253.7 89.3h0M292.4 56.6h0M279.9 66.9h0M245.9 97.6h0M301.4 47.4h0M243.1 100.2h0M255.6 89.7h0M282.1 64.6h0M297.6 49.2h0M255.7 87.2h0M250.8 95.2h0M246.8 97.3h0M301.0 47.4h0M290.4 56.7h0M250.1 93.6h0M289.4 58.1h0M295.9 52.3h0M293.5 54.4h0M275.3 71.6h0M278.4 67.1h0M277.5 69.2h0M243.4 99.8h0M274.2 71.8h0M241.2 103.2h0M287.9 61.5h0M291.2 56.9h0M269.5 77.5h0M253.7 91.8h0M268.3 79.7h0M275.4 72.8h0M263.0 83.7h0M293.9 55.0h0M293.7 55.0h0M259.5 86.1h0M288.4 60.0h0M302.1 47.8h0M288.5 59.4h0M247.3 96.6h0M283.0 63.0h0M268.3 76.7h0M265.1 79.2h0M297.0 50.3h0M286.4 61.6h0M291.4 54.2h0M285.9 62.9h0M293.6 54.7h0M267.4 78.7h0M299.0 49.0h0M267.7 77.8h0M258.6 85.5h0M261.9 83.1h0M268.1 78.0h0M300.9 46.4h0M286.8 58.6h0M293.5 56.2h0M257.3 87.4h0M255.7 88.7h0M254.7 90.0h0M296.1 52.9h0M288.2 58.9h0M289.5 59.5h0M272.9 72.1h0M247.0 97.3h0M279.0 66.9h0M261.7 80.8h0M249.9 93.6h0M273.0 72.4h0M298.3 49.0h0M266.5 80.5h0M300.3 47.4h0M245.9 98.1h0M297.4 51.7h0M241.0 102.3h0M303.0 47.4h0" stroke="#d2d2d2" stroke-width="0.9" stroke-linecap="round" fill="none" opacity="1"/>
<path d="M245.3 105.0h0M252.7 95.1h0M252.5 93.2h0M245.4 102.5h0M240.3 105.2h0M245.2 102.2h0M258.0 91.2h0M253.0 96.6h0M250.4 96.1h0M242.0 105.6h0M242.4 105.9h0M242.0 103.1h0M246.7 108.3h0M251.6 94.3h0M244.3 100.9h0M242.3 104.7h0M247.3 102.7h0M248.8 99.6h0M256.1 97.0h0M248.0 102.1h0M257.7 95.2h0M244.0 102.2h0M255.4 92.3h0M247.1 103.3h0M241.1 106.5h0M246.2 106.4h0M253.5 96.9h0M244.0 103.7h0M246.6 107.2h0M249.4 102.1h0M252.1 95.9h0M241.0 104.7h0M240.2 105.5h0M257.1 90.5h0M245.9 99.5h0M254.3 93.5h0M245.4 102.6h0M243.1 105.1h0M244.1 101.6h0M247.6 100.5h0M253.0 93.1h0M244.5 102.9h0M248.0 100.8h0M249.8 99.6h0M257.5 93.8h0M255.0 92.6h0M245.6 103.4h0M241.7 103.7h0M247.6 98.0h0M242.2 104.1h0M248.4 98.1h0M248.4 99.3h0M243.1 104.9h0M248.4 98.4h0M256.6 90.8h0M243.5 101.8h0M256.2 96.7h0M257.9 91.1h0M258.2 94.8h0M251.7 99.6h0M245.5 103.1h0M246.6 105.0h0M241.2 104.3h0M252.0 102.0h0M254.2 95.2h0M245.9 101.0h0M243.9 102.8h0M243.0 104.8h0M257.9 90.5h0M239.6 105.1h0M251.3 95.1h0M247.6 97.6h0M253.8 94.6h0M248.4 97.5h0M250.6 96.0h0M254.4 93.1h0M256.2 90.2h0M249.8 102.9h0M255.8 91.2h0M251.2 96.8h0M256.4 91.8h0M240.6 105.3h0M247.9 98.9h0M253.5 94.1h0M251.5 97.5h0M252.0 94.9h0M240.9 106.3h0M248.2 97.9h0M250.6 99.0h0M257.5 89.9h0M251.1 95.9h0M246.6 105.4h0M258.3 90.4h0M256.6 90.1h0M246.5 101.4h0M252.1 95.4h0M240.5 105.6h0M254.8 92.6h0M240.5 106.3h0M248.3 98.8h0M249.5 96.4h0M244.6 102.3h0M242.5 104.3h0M242.0 103.2h0M252.2 100.2h0M242.4 106.2h0M244.8 102.6h0M249.6 100.0h0M248.8 100.7h0M256.4 93.1h0" stroke="#74c6e2" stroke-width="1.0" stroke-linecap="round" fill="none" opacity="1"/>
<path d="M276.3 71.6h0M257.1 91.7h0M242.3 102.7h0M240.9 103.8h0M251.4 94.7h0M274.5 75.9h0M257.2 91.0h0M270.7 76.8h0M265.0 82.1h0M249.3 95.9h0M265.9 82.6h0M274.5 74.0h0M276.4 71.3h0M274.1 73.7h0M262.0 85.1h0M250.7 96.3h0M249.6 96.6h0M266.2 81.5h0M242.9 101.7h0M258.8 88.9h0M265.4 81.2h0M258.1 88.0h0M265.8 81.2h0M247.8 98.9h0M276.2 71.4h0M256.8 89.9h0M276.3 71.5h0M276.9 71.9h0M274.1 73.5h0M254.7 92.9h0M265.1 81.5h0M248.8 96.9h0M248.2 96.9h0M245.4 99.7h0M255.6 90.5h0M262.1 84.4h0M276.1 72.4h0M266.9 80.3h0M256.9 89.5h0M241.5 104.2h0M265.9 81.3h0M276.8 71.7h0M269.4 78.4h0M264.8 83.2h0M267.0 80.4h0M269.0 78.0h0M251.5 93.9h0M264.0 84.8h0M272.7 75.7h0M248.2 98.0h0M241.8 104.7h0M250.6 95.1h0M243.2 102.2h0M266.3 80.4h0M240.3 104.1h0M267.4 80.3h0M277.5 70.7h0M275.3 72.2h0M276.9 71.3h0M260.2 86.7h0M252.8 93.8h0M250.2 95.7h0M242.5 102.6h0M243.8 101.3h0M263.7 83.0h0M270.4 77.5h0M267.9 79.6h0M247.9 98.4h0M275.2 72.5h0M246.0 99.0h0M267.0 81.2h0M249.5 97.0h0M270.2 77.0h0M262.4 84.4h0M247.6 97.9h0M271.0 78.2h0M249.6 97.0h0M261.9 85.3h0M245.6 99.8h0M245.0 101.3h0M264.0 82.5h0M256.6 90.2h0M260.2 86.0h0M267.5 79.5h0M248.7 96.9h0M267.0 81.4h0M263.6 83.5h0M252.1 93.8h0M265.0 81.5h0M249.0 96.8h0M269.6 78.2h0M277.1 72.2h0M270.2 77.2h0M267.8 80.0h0M242.4 102.5h0M242.2 102.7h0M260.3 87.4h0M274.4 75.3h0M257.6 88.5h0M259.5 87.1h0M260.4 87.0h0M260.8 86.8h0M269.5 77.8h0M254.8 91.1h0M258.3 87.6h0M249.5 97.5h0M253.1 94.3h0M269.2 77.9h0M255.6 92.8h0M275.7 72.7h0M264.0 83.5h0M264.5 82.8h0M252.5 96.4h0M274.7 73.4h0M245.9 100.6h0M251.6 94.1h0M242.7 101.9h0M257.7 90.3h0M243.6 101.5h0M276.5 71.3h0M242.3 102.7h0M246.3 100.6h0M244.5 100.9h0M260.3 86.1h0M271.6 75.8h0M269.2 78.3h0M256.3 89.8h0M249.5 96.2h0M277.0 71.2h0M268.3 79.1h0M274.3 74.2h0M276.5 71.8h0M263.0 83.7h0M267.8 80.3h0M268.0 79.3h0M276.4 71.7h0M244.4 100.8h0M250.0 96.2h0M251.7 97.3h0M246.1 99.5h0M272.4 75.1h0M268.5 79.0h0M253.2 92.7h0M271.6 76.6h0M272.6 74.7h0M268.8 78.1h0M264.3 84.6h0M253.4 93.9h0M272.2 75.3h0M254.4 92.1h0M254.6 91.7h0M244.8 100.9h0M249.2 97.0h0M264.4 82.8h0M273.5 73.8h0M275.2 73.1h0M271.4 77.6h0M268.5 78.4h0M270.7 76.4h0M255.4 92.1h0M272.2 75.9h0M253.4 93.2h0M271.7 76.7h0M273.1 76.1h0M274.2 75.0h0M269.3 79.8h0M265.7 81.1h0M273.0 74.5h0M261.3 86.0h0M269.7 77.5h0M269.8 77.7h0M253.3 92.8h0M250.0 96.1h0M241.5 103.6h0M270.1 76.9h0M242.9 102.1h0M268.2 79.0h0M255.9 91.1h0M270.8 77.2h0M264.0 82.7h0M275.2 74.8h0M268.0 79.3h0M252.4 94.1h0M244.7 101.2h0M262.6 84.4h0M259.0 88.3h0M256.5 90.6h0M248.6 97.7h0M254.9 92.8h0M267.6 81.5h0M245.0 100.1h0M262.4 84.0h0M256.5 89.5h0M244.3 101.7h0M260.3 86.7h0M254.6 93.0h0M248.5 96.6h0M249.6 97.8h0M274.0 74.6h0M254.5 91.2h0M267.2 80.2h0M251.7 94.0h0M252.5 93.0h0M261.1 85.9h0M259.1 87.2h0M276.4 71.7h0M278.8 71.0h0M247.5 98.3h0M275.4 74.0h0M273.1 74.8h0M254.1 92.2h0M241.2 103.6h0M260.2 88.1h0M276.9 72.3h0M260.1 87.4h0M245.9 99.6h0M264.1 82.8h0M263.4 84.2h0M250.0 95.4h0M260.1 87.3h0M257.8 88.2h0M252.9 92.6h0M267.1 79.6h0M250.2 95.9h0M259.9 86.9h0M274.9 74.0h0M248.6 98.1h0M268.8 79.0h0M267.0 79.9h0M272.1 75.9h0M276.4 73.9h0M257.3 89.5h0M244.5 102.2h0M266.1 81.4h0M246.4 100.2h0M277.8 70.2h0M252.8 92.7h0M248.1 97.9h0M247.0 99.4h0M252.0 94.3h0M246.3 98.7h0M247.7 97.8h0M252.4 93.8h0M258.2 87.8h0M257.4 89.8h0M275.7 71.9h0M258.1 88.3h0M246.4 100.0h0M247.4 99.3h0M276.9 71.5h0M255.7 90.8h0M253.9 92.7h0M266.4 80.8h0M272.8 74.8h0M263.0 85.8h0M267.5 79.3h0M254.5 93.0h0M256.3 91.5h0M256.6 89.6h0M265.8 82.2h0" stroke="#1f86a8" stroke-width="0.95" stroke-linecap="round" fill="none" opacity="1"/>
<path d="M262.0 80.4h0M250.3 92.0h0M266.1 77.1h0M259.1 81.2h0M248.1 91.5h0M251.2 90.6h0M242.3 95.8h0M263.0 77.3h0M238.6 101.8h0M253.4 87.0h0M249.5 91.4h0M255.3 86.5h0M268.2 74.3h0M248.3 92.1h0M249.4 89.9h0M245.5 94.0h0M249.7 91.2h0M267.8 74.9h0M256.1 86.8h0M264.4 77.4h0M243.6 98.3h0M244.6 97.2h0M240.1 101.2h0M245.3 95.7h0M240.2 101.3h0M260.0 79.5h0M266.9 74.3h0M268.4 74.9h0M240.1 99.4h0M244.2 96.8h0M262.3 79.9h0M240.5 99.5h0M267.3 76.9h0M268.9 72.1h0M239.0 101.5h0M238.9 102.4h0M261.4 81.5h0M243.3 97.9h0M242.9 96.4h0M269.2 72.8h0M248.9 91.1h0M251.2 91.3h0M246.4 95.2h0M267.7 69.9h0M261.4 81.6h0M242.7 98.0h0M250.0 92.6h0M255.5 86.8h0M259.5 81.4h0M264.3 79.1h0M254.8 83.4h0M257.5 84.3h0M247.0 90.7h0M264.9 75.5h0M268.0 75.0h0M243.9 97.7h0M251.1 91.6h0M264.8 78.9h0M264.3 79.4h0M264.8 79.2h0M251.3 90.0h0M261.0 79.9h0M248.7 87.9h0M268.3 74.4h0M258.2 84.2h0M246.1 94.0h0M267.7 75.4h0M263.3 76.4h0M270.7 72.9h0M262.4 79.4h0M246.5 94.8h0M266.3 76.9h0M254.1 88.1h0M238.1 98.0h0M269.2 75.2h0M262.8 79.6h0M255.9 84.6h0M251.6 89.4h0M267.3 73.2h0M240.6 99.0h0M245.5 93.0h0M251.2 88.3h0M262.4 81.2h0M257.7 81.7h0M239.5 98.3h0M245.5 96.7h0M259.8 83.3h0M267.6 74.3h0M268.2 73.5h0M257.3 86.0h0M265.1 78.8h0M265.5 75.8h0M250.2 89.8h0M241.9 99.2h0M261.9 79.5h0M238.6 100.2h0M269.0 71.5h0M242.2 98.8h0M258.8 83.4h0M264.7 78.0h0M239.0 101.7h0M266.5 77.5h0M266.5 74.9h0M253.6 88.8h0M262.0 81.4h0M268.0 74.0h0M242.9 96.2h0M240.5 97.9h0M243.4 96.5h0M243.9 98.3h0M266.8 73.0h0M246.3 95.3h0M268.1 75.2h0M255.8 82.1h0M270.3 73.7h0M254.2 85.4h0M266.1 76.9h0M268.4 75.5h0M264.1 78.1h0M244.1 94.4h0M252.2 87.9h0M265.8 72.5h0M243.1 97.8h0M250.3 89.6h0M243.0 97.3h0M253.6 87.3h0M246.1 94.1h0M262.4 79.1h0M256.4 84.1h0M248.2 90.0h0M269.4 73.6h0M257.6 85.6h0M269.1 72.9h0M247.7 92.7h0M239.2 102.2h0M247.2 94.1h0M256.2 81.5h0M259.8 81.4h0M248.6 90.6h0M255.8 86.3h0M266.3 76.7h0M257.3 84.0h0M247.4 93.3h0M270.4 73.7h0M238.8 99.7h0M245.1 96.9h0M253.3 86.2h0M258.8 81.5h0M257.3 79.1h0M259.0 81.1h0M261.6 81.3h0M252.5 90.4h0M269.8 73.4h0M237.1 101.5h0M250.7 89.3h0M264.7 77.4h0M238.6 102.6h0M265.1 77.4h0M240.8 99.3h0M267.1 76.3h0M253.9 86.3h0M248.7 88.1h0M259.2 80.1h0M269.8 72.7h0M242.1 99.9h0M242.3 97.8h0M248.7 90.6h0M268.4 70.6h0M269.9 72.0h0M242.4 97.1h0M261.2 80.2h0M267.8 75.7h0M246.4 95.1h0M242.8 98.2h0M257.6 85.3h0M254.3 87.4h0M256.1 84.7h0M255.9 86.4h0M237.6 101.6h0M245.8 95.6h0M263.3 80.3h0M243.9 93.7h0M240.2 99.2h0M249.3 93.0h0M263.4 79.8h0M264.0 76.2h0M250.3 86.8h0M258.4 85.0h0M243.9 97.3h0M249.2 93.0h0M240.5 99.8h0M247.5 92.9h0M254.4 86.9h0M243.2 98.2h0M247.2 92.8h0M259.1 79.5h0M252.4 90.1h0M242.1 99.2h0M266.0 77.2h0M258.5 83.8h0M239.1 100.4h0M241.8 100.1h0M262.7 80.5h0M242.4 96.7h0M258.8 81.4h0M240.7 99.7h0M267.3 75.1h0M251.6 91.2h0M243.2 95.7h0M270.2 72.3h0M249.3 93.0h0M243.8 94.7h0M251.1 90.7h0M242.3 97.3h0M236.8 97.5h0M267.7 74.5h0M240.2 98.8h0M244.8 97.4h0M258.1 80.8h0M248.0 94.4h0M268.7 74.5h0M241.7 97.7h0M253.0 87.3h0M260.0 80.9h0M257.1 85.4h0M262.0 81.6h0M264.0 78.3h0M239.4 100.9h0M257.5 85.5h0M260.2 81.1h0M250.3 92.0h0M269.7 72.8h0M252.3 89.5h0M262.4 81.3h0M266.5 76.7h0M266.7 76.4h0M261.1 80.7h0M259.8 82.2h0M237.3 102.0h0M267.0 76.6h0M270.1 72.1h0M261.7 77.1h0M264.0 74.4h0M257.8 82.1h0M269.0 73.9h0M255.2 87.3h0M253.7 88.1h0M254.2 86.8h0M257.7 85.3h0M254.0 87.1h0M253.3 86.4h0M243.6 96.8h0M255.6 86.9h0M259.4 79.9h0M263.2 78.7h0M268.9 75.2h0M254.5 87.1h0M250.9 90.4h0M261.2 81.3h0M261.2 79.9h0M244.3 95.7h0M248.2 93.7h0M250.3 92.3h0M243.1 95.0h0M245.7 95.8h0M258.9 81.1h0M259.1 83.7h0M239.4 100.5h0M247.0 89.3h0M255.1 86.8h0M258.2 80.8h0M245.5 95.9h0M247.7 91.4h0M261.3 79.6h0M253.8 87.9h0M253.8 87.8h0M259.9 79.9h0M265.5 75.6h0M251.9 89.0h0M270.1 73.3h0M243.9 97.2h0M268.0 74.6h0M265.3 76.3h0M265.6 74.3h0M251.7 89.6h0M248.6 89.9h0M241.2 98.6h0M250.7 90.5h0M258.1 85.3h0M251.1 91.2h0M249.7 90.6h0M263.5 80.2h0M248.6 92.5h0M242.9 96.0h0M238.3 101.9h0M246.5 92.9h0M243.2 95.5h0M243.8 94.1h0M256.7 84.6h0M239.1 101.7h0M248.1 92.4h0M253.8 86.5h0M242.2 99.3h0M251.1 89.6h0M249.9 91.8h0M270.7 73.1h0M245.8 95.4h0M257.1 84.8h0M248.6 89.7h0M264.7 78.3h0M247.1 94.9h0M269.5 72.1h0M239.5 101.0h0M258.4 83.8h0M263.2 78.9h0M249.8 90.3h0M264.0 78.4h0M262.7 79.9h0M252.4 89.4h0M253.7 89.3h0M244.9 96.3h0M241.4 100.5h0M249.2 90.8h0M247.3 93.9h0M257.8 78.6h0M243.6 97.8h0M254.0 86.6h0M266.9 77.2h0M244.4 96.1h0M248.6 92.3h0M257.7 83.8h0M240.8 100.3h0M269.6 74.0h0M259.7 83.0h0M255.5 86.7h0M265.3 76.8h0M246.7 90.3h0M248.7 90.8h0M250.7 90.2h0M258.7 81.6h0M252.4 89.0h0M264.0 78.9h0M252.9 88.9h0M261.5 80.1h0M238.7 101.8h0M257.6 79.6h0M259.2 81.5h0M244.9 97.3h0M242.9 96.9h0M245.3 93.9h0M258.5 82.7h0M242.7 96.8h0M254.6 87.3h0M241.3 97.8h0M253.9 88.2h0M248.2 93.5h0M259.1 81.1h0M263.7 79.2h0M257.1 85.8h0M264.4 76.9h0M257.2 86.1h0M252.0 88.5h0M269.6 73.2h0M240.2 98.4h0M255.6 82.0h0M269.9 73.3h0M262.2 81.0h0M241.7 95.5h0M265.6 78.0h0M267.8 76.4h0M252.0 89.1h0M254.2 85.5h0M266.1 76.5h0M246.9 90.5h0M239.0 102.2h0M240.4 100.7h0M258.5 83.9h0M247.6 93.9h0M245.1 92.5h0M265.8 75.7h0M268.9 71.3h0M246.8 94.0h0M268.3 74.5h0M243.9 94.5h0M239.9 99.1h0M257.9 84.1h0M265.6 76.0h0M252.1 87.7h0M263.6 78.7h0M269.8 74.2h0M247.7 94.7h0M244.1 93.4h0M260.7 81.6h0M245.0 96.2h0M268.9 73.5h0M253.8 87.0h0M239.3 102.4h0M265.2 74.8h0M249.9 92.2h0M261.4 80.0h0M258.8 82.1h0M242.6 97.8h0M267.2 74.1h0M264.2 79.2h0M244.8 97.1h0M264.1 77.6h0M241.2 100.1h0M252.5 87.0h0M250.1 91.1h0M252.5 89.6h0M238.2 102.9h0M264.9 77.3h0M255.2 85.2h0M241.5 98.4h0M263.4 79.2h0M261.8 77.1h0M260.3 82.3h0M259.4 81.7h0M269.7 74.3h0M251.5 90.3h0M254.7 87.4h0M266.3 76.4h0M250.8 91.1h0M256.8 85.2h0M243.1 96.0h0M252.7 89.7h0M255.0 87.9h0M269.0 75.0h0M242.8 95.2h0M256.7 85.5h0M255.7 86.6h0M246.2 91.9h0M262.2 81.1h0M258.1 82.1h0M250.2 91.6h0M259.7 83.8h0M260.3 81.5h0M261.3 79.8h0M240.3 98.9h0M237.8 99.6h0M245.8 94.9h0M240.8 100.2h0M254.6 88.5h0M252.6 88.3h0M250.2 91.6h0M240.1 97.9h0M244.6 95.4h0M242.0 99.9h0M260.6 81.4h0M240.9 92.9h0M239.6 102.1h0M267.8 73.9h0M251.2 91.2h0M269.3 74.2h0M254.0 86.6h0M263.3 79.6h0M265.1 77.4h0M251.7 90.9h0M266.2 74.8h0M255.9 85.4h0M252.8 88.5h0M256.4 86.0h0M265.9 76.1h0M266.9 76.1h0M268.9 72.0h0M259.2 84.0h0M265.6 77.2h0M248.2 94.1h0M261.9 81.6h0M258.8 83.0h0M260.0 83.3h0M252.8 89.7h0M248.2 92.5h0M242.0 98.7h0M260.1 82.5h0M246.2 91.9h0M256.2 86.6h0M262.0 80.6h0M240.4 100.9h0M262.3 81.3h0M250.0 91.6h0M253.8 87.0h0M251.0 89.6h0M247.2 93.1h0M269.3 73.1h0M245.0 95.5h0M269.6 73.2h0M264.2 76.5h0M251.4 91.4h0M241.0 98.9h0M237.2 99.6h0M244.3 96.3h0M252.9 89.9h0M242.4 97.7h0M252.7 85.0h0M266.7 74.8h0M245.0 94.9h0M239.0 101.8h0M252.1 88.9h0M257.2 85.0h0M259.1 79.2h0M240.9 98.9h0M248.4 94.1h0M250.6 91.7h0M242.4 99.2h0M243.4 98.7h0M245.3 96.1h0M244.6 97.1h0M253.9 86.1h0M250.3 88.9h0M246.6 95.5h0M237.4 99.5h0M260.3 78.4h0M250.1 89.2h0M257.8 84.8h0M240.1 100.9h0M259.5 80.6h0M246.5 93.8h0M254.3 87.7h0M246.4 93.5h0M257.5 85.3h0M258.6 82.9h0M240.8 100.2h0M244.5 95.0h0M240.6 98.3h0M262.1 81.5h0M248.4 89.7h0M246.0 93.6h0M267.6 70.7h0M267.0 72.4h0M246.2 94.8h0M243.5 95.5h0M269.9 71.8h0M254.9 84.6h0M240.5 100.3h0M246.4 94.8h0M258.3 84.2h0M260.6 80.4h0M241.3 100.0h0M253.6 88.4h0M259.8 83.5h0M244.4 97.1h0M269.1 73.3h0M249.9 91.1h0M261.3 82.1h0M249.8 89.3h0M256.4 85.3h0M269.7 74.5h0M269.6 73.5h0M249.6 85.4h0M266.1 77.8h0M259.8 79.6h0M268.1 73.6h0M244.9 93.0h0M263.3 78.4h0M250.4 92.0h0M263.4 77.8h0M258.4 81.0h0M243.1 97.2h0M244.0 95.5h0M248.9 92.5h0M261.7 81.2h0M245.1 95.9h0M265.5 76.7h0M248.3 94.0h0M237.5 101.7h0M252.7 90.0h0M266.8 77.1h0M247.4 88.8h0M246.0 96.4h0M246.2 95.1h0M261.8 81.7h0M256.7 84.8h0M247.9 94.6h0M267.7 71.4h0M264.8 73.8h0M242.4 99.3h0M261.7 81.6h0M264.6 78.3h0M263.7 77.2h0M242.5 97.6h0M251.4 91.0h0M244.3 97.1h0M262.5 78.2h0M256.7 82.0h0M263.5 77.1h0M255.7 84.8h0M247.9 89.5h0M240.8 99.2h0M267.4 73.5h0M258.1 82.2h0M261.4 77.3h0M250.9 87.8h0M248.4 93.2h0M240.3 98.3h0M245.0 94.2h0M260.5 82.1h0M242.5 98.8h0M253.1 86.8h0M268.5 70.6h0M252.7 89.3h0M242.3 96.3h0M270.3 73.7h0M252.9 89.2h0M237.6 101.4h0M269.8 74.3h0M250.7 89.5h0M255.9 83.8h0M245.8 95.6h0M250.0 90.0h0M258.6 82.7h0M258.5 84.9h0M271.0 72.8h0M237.7 101.8h0M240.2 99.2h0M265.6 77.6h0M259.0 79.9h0M257.3 85.1h0M256.3 84.5h0M247.0 95.3h0M257.4 83.1h0M250.2 91.3h0M254.2 87.9h0M262.3 80.9h0M264.4 78.6h0M257.9 84.8h0M265.0 74.9h0M239.8 101.7h0M266.9 76.2h0M267.9 74.6h0M264.9 77.6h0M256.9 85.3h0M250.3 91.2h0M256.6 82.6h0M246.4 90.5h0M256.3 85.4h0M264.8 72.1h0M237.7 100.8h0M251.6 87.5h0M269.8 73.4h0M257.1 82.7h0M255.8 86.9h0M261.5 81.8h0M249.0 93.5h0M265.2 74.8h0M238.6 101.5h0M259.6 83.4h0M250.1 90.9h0M245.5 96.0h0M256.9 83.5h0" stroke="#ee6a48" stroke-width="1.0" stroke-linecap="round" fill="none" opacity="1"/>
<path d="M242.1 86.7h0M258.2 76.1h0M266.9 74.5h0M246.4 87.3h0M247.9 90.9h0M253.4 84.0h0M261.0 79.0h0M246.0 93.3h0M251.5 85.9h0M262.9 77.0h0M244.1 84.5h0M238.0 97.6h0M247.2 91.1h0M246.0 91.5h0M258.1 80.4h0M261.7 78.1h0M250.3 84.0h0M259.0 74.6h0M239.9 90.8h0M243.1 93.0h0M234.5 97.9h0M237.1 94.9h0M260.7 79.2h0M259.5 74.4h0M265.5 71.4h0M261.5 71.2h0M245.8 90.8h0M260.0 73.9h0M254.9 84.9h0M252.4 84.1h0M238.4 93.9h0M240.9 90.3h0M258.5 81.0h0M260.4 78.2h0M260.9 79.3h0M245.4 92.1h0M256.6 75.1h0M241.8 95.6h0M237.9 95.1h0M238.3 92.4h0M240.1 99.0h0M257.1 81.4h0M240.4 98.6h0M260.5 73.0h0M249.8 89.0h0M248.1 91.4h0M244.3 93.3h0M257.7 75.4h0M253.7 85.8h0M248.3 89.1h0M246.0 92.1h0M240.1 91.1h0M246.8 91.0h0M252.1 78.4h0M248.1 83.6h0M262.4 71.0h0M246.7 84.0h0M243.5 91.9h0M243.3 91.5h0M259.4 77.9h0M235.1 89.7h0M249.2 84.5h0M246.5 87.6h0M244.5 86.1h0M238.8 94.9h0M262.7 72.2h0M256.9 81.6h0M243.6 90.2h0M245.6 83.2h0M264.4 74.7h0M259.2 68.9h0M241.2 96.3h0M262.5 72.2h0M246.3 85.6h0M262.9 68.7h0M262.1 77.5h0M248.4 89.8h0M259.2 78.6h0M250.7 86.6h0M261.4 77.9h0M253.8 74.9h0M240.7 91.2h0M246.3 87.8h0M263.3 74.6h0M265.0 73.1h0M239.3 96.3h0M236.4 95.8h0M251.1 88.2h0M265.7 71.7h0M249.4 88.2h0M239.8 93.2h0M253.1 84.7h0M250.9 89.2h0M250.6 85.1h0M248.1 85.4h0M243.8 94.9h0M238.2 98.3h0M259.7 77.3h0M264.6 75.9h0M246.7 84.4h0M253.5 85.3h0M239.8 99.0h0M257.3 81.5h0M263.5 73.2h0M262.6 77.9h0M253.8 84.7h0M257.8 82.7h0M252.0 86.7h0M238.7 99.8h0M242.6 89.8h0M251.3 88.5h0M241.7 94.4h0M258.7 74.5h0M247.3 90.2h0M259.3 75.6h0M247.7 88.0h0M252.4 82.9h0M251.6 76.1h0M253.4 85.5h0M247.2 90.8h0M244.7 94.4h0M251.1 88.3h0M263.5 76.0h0M242.9 88.8h0M244.4 94.0h0M257.8 78.9h0M248.4 91.1h0M259.3 75.1h0M262.2 68.3h0M232.7 95.7h0M261.3 73.5h0M249.1 89.6h0M260.7 78.9h0M260.1 77.6h0M254.6 85.6h0M235.9 97.1h0M260.8 79.0h0M234.9 98.3h0M243.5 91.7h0M253.3 79.7h0" stroke="#f3a088" stroke-width="0.9" stroke-linecap="round" fill="none" opacity="1"/>
<path d="M242.5 99.3h0M239.2 100.1h0M242.2 97.6h0M239.6 100.6h0M241.2 100.3h0M241.4 99.9h0M244.6 96.7h0M244.8 96.9h0M239.8 102.0h0M239.1 101.7h0M240.2 100.3h0M246.4 95.9h0M246.6 95.3h0M243.3 96.1h0M243.6 98.5h0M244.8 93.4h0M238.5 102.5h0M239.8 100.8h0M242.3 99.4h0M245.9 96.2h0M239.5 98.7h0M241.0 100.7h0M240.0 100.7h0M239.2 101.5h0M240.3 101.5h0M241.4 98.3h0M239.9 99.1h0M244.8 97.0h0M240.3 99.0h0M242.8 97.8h0M242.7 99.0h0M246.0 95.6h0M242.4 96.6h0M245.2 94.8h0M238.9 102.5h0M242.8 98.1h0M245.4 95.8h0M243.7 96.9h0M239.8 100.8h0M246.6 94.6h0M240.3 101.4h0M240.9 100.6h0M239.1 101.4h0M239.4 100.8h0M244.6 95.7h0M245.5 95.5h0M239.5 101.7h0M241.3 97.9h0M246.4 95.1h0M246.3 94.7h0M239.9 98.5h0M240.1 101.0h0M243.1 98.3h0M246.0 96.1h0M245.5 96.8h0M238.4 101.0h0M245.8 94.2h0M244.1 96.4h0M241.1 100.1h0M244.4 96.2h0" stroke="#a82a14" stroke-width="1.0" stroke-linecap="round" fill="none" opacity="1"/>
</g>
<rect x="204.00" y="40.00" width="103.60" height="95.90" fill="none" stroke="#111" stroke-width="1"/>
<line x1="208.10" y1="135.90" x2="208.10" y2="138.90" stroke="#111" stroke-width="0.9"/>
<text x="208.10" y="148.70" font-size="6.9" fill="#333" text-anchor="middle">−10</text>
<line x1="200.50" y1="132.40" x2="204.00" y2="132.40" stroke="#111" stroke-width="0.9"/>
<text x="196.20" y="132.40" font-size="6.9" fill="#333" text-anchor="middle" transform="rotate(-90 196.20 132.40)">−10</text>
<line x1="240.20" y1="135.90" x2="240.20" y2="138.90" stroke="#111" stroke-width="0.9"/>
<text x="240.20" y="148.70" font-size="6.9" fill="#333" text-anchor="middle">0</text>
<line x1="200.50" y1="103.10" x2="204.00" y2="103.10" stroke="#111" stroke-width="0.9"/>
<text x="196.20" y="103.10" font-size="6.9" fill="#333" text-anchor="middle" transform="rotate(-90 196.20 103.10)">0</text>
<line x1="272.30" y1="135.90" x2="272.30" y2="138.90" stroke="#111" stroke-width="0.9"/>
<text x="272.30" y="148.70" font-size="6.9" fill="#333" text-anchor="middle">10</text>
<line x1="200.50" y1="73.80" x2="204.00" y2="73.80" stroke="#111" stroke-width="0.9"/>
<text x="196.20" y="73.80" font-size="6.9" fill="#333" text-anchor="middle" transform="rotate(-90 196.20 73.80)">10</text>
<line x1="304.40" y1="135.90" x2="304.40" y2="138.90" stroke="#111" stroke-width="0.9"/>
<text x="304.40" y="148.70" font-size="6.9" fill="#333" text-anchor="middle">20</text>
<line x1="200.50" y1="44.50" x2="204.00" y2="44.50" stroke="#111" stroke-width="0.9"/>
<text x="196.20" y="44.50" font-size="6.9" fill="#333" text-anchor="middle" transform="rotate(-90 196.20 44.50)">20</text>
<text x="208.70" y="36.00" font-size="8.2" fill="#222" stroke="#222" stroke-width="0.28" textLength="18.20" lengthAdjust="spacingAndGlyphs">MC5R</text>
<text x="227.20" y="32.20" font-size="4.6" fill="#222" textLength="5.80" lengthAdjust="spacingAndGlyphs">−/−</text>
<text x="234.60" y="36.00" font-size="8.2" fill="#222" stroke="#222" stroke-width="0.28" textLength="13.10" lengthAdjust="spacingAndGlyphs">+ IR</text>
<text x="256.70" y="36.00" font-size="8.2" fill="#222" stroke="#222" stroke-width="0.28" textLength="5.30" lengthAdjust="spacingAndGlyphs">vs</text>
<text x="270.20" y="36.00" font-size="8.2" fill="#222" stroke="#222" stroke-width="0.28" textLength="23.10" lengthAdjust="spacingAndGlyphs">WT + IR</text>
<text x="184.30" y="80.60" font-size="8.0" fill="#222" stroke="#222" stroke-width="0.28" textLength="37.10" lengthAdjust="spacingAndGlyphs" transform="rotate(-90 184.30 80.60)">Log2 (FPKM)</text>
<text x="184.3" y="131" font-size="8.0" fill="#222" stroke="#222" stroke-width="0.28" transform="rotate(-90 184.3 131)"><tspan textLength="16.0" lengthAdjust="spacingAndGlyphs">MC5R</tspan><tspan font-size="4.6" dy="-3.0" textLength="5" lengthAdjust="spacingAndGlyphs">−/−</tspan><tspan dy="3.0" textLength="14" lengthAdjust="spacingAndGlyphs"> + IR</tspan></text>
<text x="221.60" y="161.80" font-size="8.4" fill="#222" stroke="#222" stroke-width="0.28" textLength="23.60" lengthAdjust="spacingAndGlyphs">WT + IR</text>
<text x="256.90" y="161.80" font-size="8.4" fill="#222" stroke="#222" stroke-width="0.28" textLength="37.50" lengthAdjust="spacingAndGlyphs">Log2 (FPKM)</text>
<text x="206.80" y="47.40" font-size="6.55" fill="#333">Up regulation</text>
<text x="210.00" y="55.60" font-size="6.55" fill="#333">648 genes</text>
<text x="261.5" y="46" font-size="6.55" fill="#333"><tspan font-style="italic">r</tspan> = 0.978</text>
<text x="258.2" y="52.4" font-size="6.55" fill="#333"><tspan font-style="italic">P</tspan> &lt; 2.2e-16</text>
<text x="257.90" y="126.60" font-size="6.55" fill="#333">Down regulation</text>
<text x="265.60" y="134.20" font-size="6.55" fill="#333">438 genes</text>
<line x1="260.20" y1="66.90" x2="267.60" y2="75.30" stroke="#1a1a1a" stroke-width="0.7"/>
<line x1="234.30" y1="77.50" x2="247.00" y2="93.60" stroke="#1a1a1a" stroke-width="0.7"/>
<line x1="228.90" y1="85.60" x2="244.40" y2="96.30" stroke="#1a1a1a" stroke-width="0.7"/>
<line x1="226.20" y1="95.30" x2="241.70" y2="99.00" stroke="#1a1a1a" stroke-width="0.7"/>
<line x1="226.60" y1="105.10" x2="239.00" y2="101.00" stroke="#1a1a1a" stroke-width="0.7"/>
<line x1="277.00" y1="83.10" x2="257.50" y2="90.50" stroke="#1a1a1a" stroke-width="0.7"/>
<line x1="280.40" y1="91.50" x2="254.80" y2="91.50" stroke="#1a1a1a" stroke-width="0.7"/>
<line x1="271.60" y1="101.20" x2="252.80" y2="93.80" stroke="#1a1a1a" stroke-width="0.7"/>
<line x1="267.30" y1="111.10" x2="248.40" y2="99.00" stroke="#1a1a1a" stroke-width="0.7"/>
<line x1="252.50" y1="115.20" x2="244.40" y2="101.70" stroke="#1a1a1a" stroke-width="0.7"/>
<text x="249.20" y="65.60" font-size="6.55" fill="#333">Nr4a1</text>
<text x="224.90" y="76.00" font-size="6.55" fill="#333">Pdk2</text>
<text x="212.20" y="85.90" font-size="6.55" fill="#333">Foxo1</text>
<text x="209.30" y="96.70" font-size="6.55" fill="#333">Ldhd</text>
<text x="205.20" y="106.30" font-size="6.55" fill="#333">Cdkn1c</text>
<text x="277.00" y="83.30" font-size="6.55" fill="#333">Idh1</text>
<text x="280.40" y="93.60" font-size="6.55" fill="#333">Mrpl41</text>
<text x="272.00" y="103.30" font-size="6.55" fill="#333">Gadd45a</text>
<text x="263.00" y="115.00" font-size="6.55" fill="#333">Ccne2</text>
<text x="246.30" y="119.80" font-size="6.55" fill="#333">Ccno</text>
<text x="235.80" y="133.40" font-size="6.55" fill="#333">Mc5r</text>
<line x1="243.60" y1="128.60" x2="243.60" y2="125.40" stroke="#333" stroke-width="0.6"/>
<polygon points="242.6,126.2 244.6,126.2 243.6,124.4" fill="#333"/>
<circle cx="312.7" cy="49.30" r="1.25" fill="#2a7ab5"/>
<text x="314.40" y="51.50" font-size="6.55" fill="#333">Down regulation</text>
<circle cx="312.7" cy="57.20" r="1.25" fill="#c0c0c0"/>
<text x="314.40" y="59.40" font-size="6.55" fill="#333">Not significant</text>
<circle cx="312.7" cy="65.10" r="1.25" fill="#e8603c"/>
<text x="314.40" y="67.30" font-size="6.55" fill="#333">Up regulation</text>
<rect x="395.20" y="30.60" width="16.08" height="2.16" fill="#d34930"/>
<rect x="410.98" y="30.60" width="16.08" height="2.16" fill="#e56c3a"/>
<rect x="426.77" y="30.60" width="16.08" height="2.16" fill="#f29555"/>
<rect x="442.55" y="30.60" width="16.08" height="2.16" fill="#98c6dc"/>
<rect x="458.33" y="30.60" width="16.08" height="2.16" fill="#6598bc"/>
<rect x="474.12" y="30.60" width="16.08" height="2.16" fill="#f7e2ab"/>
<rect x="395.20" y="32.36" width="16.08" height="1.94" fill="#f4a05e"/>
<rect x="410.98" y="32.36" width="16.08" height="1.94" fill="#f29555"/>
<rect x="426.77" y="32.36" width="16.08" height="1.94" fill="#f6ab67"/>
<rect x="442.55" y="32.36" width="16.08" height="1.94" fill="#add5e5"/>
<rect x="458.33" y="32.36" width="16.08" height="1.94" fill="#88bad5"/>
<rect x="474.12" y="32.36" width="16.08" height="1.94" fill="#eee9bf"/>
<rect x="395.20" y="33.89" width="16.08" height="2.60" fill="#f8b774"/>
<rect x="410.98" y="33.89" width="16.08" height="2.60" fill="#f7b26e"/>
<rect x="426.77" y="33.89" width="16.08" height="2.60" fill="#f7b06c"/>
<rect x="442.55" y="33.89" width="16.08" height="2.60" fill="#b0d6e6"/>
<rect x="458.33" y="33.89" width="16.08" height="2.60" fill="#aed6e6"/>
<rect x="474.12" y="33.89" width="16.08" height="2.60" fill="#b0d6e6"/>
<rect x="395.20" y="36.09" width="16.08" height="2.16" fill="#f7b471"/>
<rect x="410.98" y="36.09" width="16.08" height="2.16" fill="#f8b673"/>
<rect x="426.77" y="36.09" width="16.08" height="2.16" fill="#f7b370"/>
<rect x="442.55" y="36.09" width="16.08" height="2.16" fill="#b0d6e6"/>
<rect x="458.33" y="36.09" width="16.08" height="2.16" fill="#aed6e6"/>
<rect x="474.12" y="36.09" width="16.08" height="2.16" fill="#b2d8e7"/>
<rect x="395.20" y="37.85" width="16.08" height="2.16" fill="#f8b673"/>
<rect x="410.98" y="37.85" width="16.08" height="2.16" fill="#f8b674"/>
<rect x="426.77" y="37.85" width="16.08" height="2.16" fill="#f8b876"/>
<rect x="442.55" y="37.85" width="16.08" height="2.16" fill="#b4d9e7"/>
<rect x="458.33" y="37.85" width="16.08" height="2.16" fill="#add5e5"/>
<rect x="474.12" y="37.85" width="16.08" height="2.16" fill="#add5e6"/>
<rect x="395.20" y="39.61" width="16.08" height="2.60" fill="#f7b36f"/>
<rect x="410.98" y="39.61" width="16.08" height="2.60" fill="#f7b471"/>
<rect x="426.77" y="39.61" width="16.08" height="2.60" fill="#f8b573"/>
<rect x="442.55" y="39.61" width="16.08" height="2.60" fill="#b5d9e8"/>
<rect x="458.33" y="39.61" width="16.08" height="2.60" fill="#c4e2ec"/>
<rect x="474.12" y="39.61" width="16.08" height="2.60" fill="#b1d7e7"/>
<rect x="395.20" y="41.80" width="16.08" height="2.16" fill="#f09050"/>
<rect x="410.98" y="41.80" width="16.08" height="2.16" fill="#f7b471"/>
<rect x="426.77" y="41.80" width="16.08" height="2.16" fill="#f8b977"/>
<rect x="442.55" y="41.80" width="16.08" height="2.16" fill="#b4d9e7"/>
<rect x="458.33" y="41.80" width="16.08" height="2.16" fill="#acd4e5"/>
<rect x="474.12" y="41.80" width="16.08" height="2.16" fill="#b3d8e7"/>
<rect x="395.20" y="43.56" width="16.08" height="2.60" fill="#f8b673"/>
<rect x="410.98" y="43.56" width="16.08" height="2.60" fill="#f09050"/>
<rect x="426.77" y="43.56" width="16.08" height="2.60" fill="#f8b573"/>
<rect x="442.55" y="43.56" width="16.08" height="2.60" fill="#b7dbe8"/>
<rect x="458.33" y="43.56" width="16.08" height="2.60" fill="#b7dae8"/>
<rect x="474.12" y="43.56" width="16.08" height="2.60" fill="#b7dae8"/>
<rect x="395.20" y="45.76" width="16.08" height="2.16" fill="#f7b26f"/>
<rect x="410.98" y="45.76" width="16.08" height="2.16" fill="#f7b370"/>
<rect x="426.77" y="45.76" width="16.08" height="2.16" fill="#f7b471"/>
<rect x="442.55" y="45.76" width="16.08" height="2.16" fill="#b6dae8"/>
<rect x="458.33" y="45.76" width="16.08" height="2.16" fill="#b4d9e7"/>
<rect x="474.12" y="45.76" width="16.08" height="2.16" fill="#b2d8e7"/>
<rect x="395.20" y="47.51" width="16.08" height="3.04" fill="#f8bb7a"/>
<rect x="410.98" y="47.51" width="16.08" height="3.04" fill="#f7b16e"/>
<rect x="426.77" y="47.51" width="16.08" height="3.04" fill="#f7b471"/>
<rect x="442.55" y="47.51" width="16.08" height="3.04" fill="#b6dae8"/>
<rect x="458.33" y="47.51" width="16.08" height="3.04" fill="#aed5e6"/>
<rect x="474.12" y="47.51" width="16.08" height="3.04" fill="#8dbed8"/>
<rect x="395.20" y="50.15" width="16.08" height="2.16" fill="#f8b877"/>
<rect x="410.98" y="50.15" width="16.08" height="2.16" fill="#f7b06c"/>
<rect x="426.77" y="50.15" width="16.08" height="2.16" fill="#f7b16d"/>
<rect x="442.55" y="50.15" width="16.08" height="2.16" fill="#b5d9e8"/>
<rect x="458.33" y="50.15" width="16.08" height="2.16" fill="#b3d8e7"/>
<rect x="474.12" y="50.15" width="16.08" height="2.16" fill="#92c2da"/>
<rect x="395.20" y="51.91" width="16.08" height="2.60" fill="#f7b26f"/>
<rect x="410.98" y="51.91" width="16.08" height="2.60" fill="#f7b16e"/>
<rect x="426.77" y="51.91" width="16.08" height="2.60" fill="#f8b674"/>
<rect x="442.55" y="51.91" width="16.08" height="2.60" fill="#b5d9e8"/>
<rect x="458.33" y="51.91" width="16.08" height="2.60" fill="#b5d9e8"/>
<rect x="474.12" y="51.91" width="16.08" height="2.60" fill="#b6dae8"/>
<rect x="395.20" y="54.10" width="16.08" height="3.04" fill="#f9c283"/>
<rect x="410.98" y="54.10" width="16.08" height="3.04" fill="#f7b16d"/>
<rect x="426.77" y="54.10" width="16.08" height="3.04" fill="#f8bc7b"/>
<rect x="442.55" y="54.10" width="16.08" height="3.04" fill="#bddeea"/>
<rect x="458.33" y="54.10" width="16.08" height="3.04" fill="#bddeea"/>
<rect x="474.12" y="54.10" width="16.08" height="3.04" fill="#b5d9e8"/>
<rect x="395.20" y="56.74" width="16.08" height="2.16" fill="#f7b470"/>
<rect x="410.98" y="56.74" width="16.08" height="2.16" fill="#f7b26e"/>
<rect x="426.77" y="56.74" width="16.08" height="2.16" fill="#f7b471"/>
<rect x="442.55" y="56.74" width="16.08" height="2.16" fill="#c8e3e8"/>
<rect x="458.33" y="56.74" width="16.08" height="2.16" fill="#b3d9e7"/>
<rect x="474.12" y="56.74" width="16.08" height="2.16" fill="#b0d7e6"/>
<rect x="395.20" y="58.50" width="16.08" height="2.16" fill="#f7b16e"/>
<rect x="410.98" y="58.50" width="16.08" height="2.16" fill="#f7b36f"/>
<rect x="426.77" y="58.50" width="16.08" height="2.16" fill="#f7b471"/>
<rect x="442.55" y="58.50" width="16.08" height="2.16" fill="#98c6dc"/>
<rect x="458.33" y="58.50" width="16.08" height="2.16" fill="#b1d7e7"/>
<rect x="474.12" y="58.50" width="16.08" height="2.16" fill="#b5dae8"/>
<rect x="395.20" y="60.25" width="16.08" height="2.60" fill="#f7b06c"/>
<rect x="410.98" y="60.25" width="16.08" height="2.60" fill="#f29555"/>
<rect x="426.77" y="60.25" width="16.08" height="2.60" fill="#f7b471"/>
<rect x="442.55" y="60.25" width="16.08" height="2.60" fill="#bbddea"/>
<rect x="458.33" y="60.25" width="16.08" height="2.60" fill="#aed5e6"/>
<rect x="474.12" y="60.25" width="16.08" height="2.60" fill="#b9dce9"/>
<rect x="395.20" y="62.45" width="16.08" height="2.60" fill="#f09050"/>
<rect x="410.98" y="62.45" width="16.08" height="2.60" fill="#f7b370"/>
<rect x="426.77" y="62.45" width="16.08" height="2.60" fill="#f8b977"/>
<rect x="442.55" y="62.45" width="16.08" height="2.60" fill="#b3d8e7"/>
<rect x="458.33" y="62.45" width="16.08" height="2.60" fill="#b2d8e7"/>
<rect x="474.12" y="62.45" width="16.08" height="2.60" fill="#b9dbe9"/>
<rect x="395.20" y="64.65" width="16.08" height="2.60" fill="#f7af6c"/>
<rect x="410.98" y="64.65" width="16.08" height="2.60" fill="#f8b573"/>
<rect x="426.77" y="64.65" width="16.08" height="2.60" fill="#f7b471"/>
<rect x="442.55" y="64.65" width="16.08" height="2.60" fill="#badce9"/>
<rect x="458.33" y="64.65" width="16.08" height="2.60" fill="#b5dae8"/>
<rect x="474.12" y="64.65" width="16.08" height="2.60" fill="#b5d9e8"/>
<rect x="395.20" y="66.84" width="16.08" height="2.60" fill="#f6ad69"/>
<rect x="410.98" y="66.84" width="16.08" height="2.60" fill="#f8b775"/>
<rect x="426.77" y="66.84" width="16.08" height="2.60" fill="#f7b572"/>
<rect x="442.55" y="66.84" width="16.08" height="2.60" fill="#b8dbe8"/>
<rect x="458.33" y="66.84" width="16.08" height="2.60" fill="#c0e0eb"/>
<rect x="474.12" y="66.84" width="16.08" height="2.60" fill="#b7dae8"/>
<rect x="395.20" y="69.04" width="16.08" height="2.16" fill="#f7b16d"/>
<rect x="410.98" y="69.04" width="16.08" height="2.16" fill="#f8b876"/>
<rect x="426.77" y="69.04" width="16.08" height="2.16" fill="#f8ba78"/>
<rect x="442.55" y="69.04" width="16.08" height="2.16" fill="#badce9"/>
<rect x="458.33" y="69.04" width="16.08" height="2.16" fill="#b4d9e7"/>
<rect x="474.12" y="69.04" width="16.08" height="2.16" fill="#b5dae8"/>
<rect x="395.20" y="70.80" width="16.08" height="2.60" fill="#f7af6b"/>
<rect x="410.98" y="70.80" width="16.08" height="2.60" fill="#f7b370"/>
<rect x="426.77" y="70.80" width="16.08" height="2.60" fill="#f8bf7f"/>
<rect x="442.55" y="70.80" width="16.08" height="2.60" fill="#b1d7e7"/>
<rect x="458.33" y="70.80" width="16.08" height="2.60" fill="#b6dae8"/>
<rect x="474.12" y="70.80" width="16.08" height="2.60" fill="#b6dae8"/>
<rect x="395.20" y="72.99" width="16.08" height="2.60" fill="#f7b16e"/>
<rect x="410.98" y="72.99" width="16.08" height="2.60" fill="#f7b471"/>
<rect x="426.77" y="72.99" width="16.08" height="2.60" fill="#f8b876"/>
<rect x="442.55" y="72.99" width="16.08" height="2.60" fill="#b4d9e7"/>
<rect x="458.33" y="72.99" width="16.08" height="2.60" fill="#b8dbe9"/>
<rect x="474.12" y="72.99" width="16.08" height="2.60" fill="#b6dae8"/>
<rect x="395.20" y="75.19" width="16.08" height="2.60" fill="#f7b16d"/>
<rect x="410.98" y="75.19" width="16.08" height="2.60" fill="#f7b36f"/>
<rect x="426.77" y="75.19" width="16.08" height="2.60" fill="#f8b876"/>
<rect x="442.55" y="75.19" width="16.08" height="2.60" fill="#b5d9e8"/>
<rect x="458.33" y="75.19" width="16.08" height="2.60" fill="#cce3e3"/>
<rect x="474.12" y="75.19" width="16.08" height="2.60" fill="#afd6e6"/>
<rect x="395.20" y="77.39" width="16.08" height="2.16" fill="#f8b876"/>
<rect x="410.98" y="77.39" width="16.08" height="2.16" fill="#f8b674"/>
<rect x="426.77" y="77.39" width="16.08" height="2.16" fill="#f8b876"/>
<rect x="442.55" y="77.39" width="16.08" height="2.16" fill="#b5d9e8"/>
<rect x="458.33" y="77.39" width="16.08" height="2.16" fill="#c4e2ec"/>
<rect x="474.12" y="77.39" width="16.08" height="2.16" fill="#b2d8e7"/>
<rect x="395.20" y="79.15" width="16.08" height="2.16" fill="#f8ba79"/>
<rect x="410.98" y="79.15" width="16.08" height="2.16" fill="#f7b471"/>
<rect x="426.77" y="79.15" width="16.08" height="2.16" fill="#f8ba79"/>
<rect x="442.55" y="79.15" width="16.08" height="2.16" fill="#c4e2ec"/>
<rect x="458.33" y="79.15" width="16.08" height="2.16" fill="#b9dce9"/>
<rect x="474.12" y="79.15" width="16.08" height="2.16" fill="#b5dae8"/>
<rect x="395.20" y="80.90" width="16.08" height="2.60" fill="#f7b36f"/>
<rect x="410.98" y="80.90" width="16.08" height="2.60" fill="#f8b674"/>
<rect x="426.77" y="80.90" width="16.08" height="2.60" fill="#f8b876"/>
<rect x="442.55" y="80.90" width="16.08" height="2.60" fill="#b4d9e7"/>
<rect x="458.33" y="80.90" width="16.08" height="2.60" fill="#badce9"/>
<rect x="474.12" y="80.90" width="16.08" height="2.60" fill="#b2d8e7"/>
<rect x="395.20" y="83.10" width="16.08" height="2.60" fill="#f6ac69"/>
<rect x="410.98" y="83.10" width="16.08" height="2.60" fill="#f8b876"/>
<rect x="426.77" y="83.10" width="16.08" height="2.60" fill="#f8ba79"/>
<rect x="442.55" y="83.10" width="16.08" height="2.60" fill="#b8dbe8"/>
<rect x="458.33" y="83.10" width="16.08" height="2.60" fill="#badde9"/>
<rect x="474.12" y="83.10" width="16.08" height="2.60" fill="#aed5e6"/>
<rect x="395.20" y="85.30" width="16.08" height="2.60" fill="#f7b16d"/>
<rect x="410.98" y="85.30" width="16.08" height="2.60" fill="#f8b573"/>
<rect x="426.77" y="85.30" width="16.08" height="2.60" fill="#f8b573"/>
<rect x="442.55" y="85.30" width="16.08" height="2.60" fill="#b6dae8"/>
<rect x="458.33" y="85.30" width="16.08" height="2.60" fill="#badce9"/>
<rect x="474.12" y="85.30" width="16.08" height="2.60" fill="#b3d8e7"/>
<rect x="395.20" y="87.49" width="16.08" height="2.16" fill="#f7b26f"/>
<rect x="410.98" y="87.49" width="16.08" height="2.16" fill="#f8b775"/>
<rect x="426.77" y="87.49" width="16.08" height="2.16" fill="#f7b572"/>
<rect x="442.55" y="87.49" width="16.08" height="2.16" fill="#afd6e6"/>
<rect x="458.33" y="87.49" width="16.08" height="2.16" fill="#aed5e6"/>
<rect x="474.12" y="87.49" width="16.08" height="2.16" fill="#b6dae8"/>
<rect x="395.20" y="89.25" width="16.08" height="2.16" fill="#f8b674"/>
<rect x="410.98" y="89.25" width="16.08" height="2.16" fill="#f8b573"/>
<rect x="426.77" y="89.25" width="16.08" height="2.16" fill="#f7b471"/>
<rect x="442.55" y="89.25" width="16.08" height="2.16" fill="#b3d8e7"/>
<rect x="458.33" y="89.25" width="16.08" height="2.16" fill="#bcdeea"/>
<rect x="474.12" y="89.25" width="16.08" height="2.16" fill="#b6dae8"/>
<rect x="395.20" y="91.01" width="16.08" height="2.60" fill="#f8b977"/>
<rect x="410.98" y="91.01" width="16.08" height="2.60" fill="#f7b471"/>
<rect x="426.77" y="91.01" width="16.08" height="2.60" fill="#f7b26e"/>
<rect x="442.55" y="91.01" width="16.08" height="2.60" fill="#b1d7e7"/>
<rect x="458.33" y="91.01" width="16.08" height="2.60" fill="#bcddea"/>
<rect x="474.12" y="91.01" width="16.08" height="2.60" fill="#b5d9e8"/>
<rect x="395.20" y="93.20" width="16.08" height="2.60" fill="#f8bb7a"/>
<rect x="410.98" y="93.20" width="16.08" height="2.60" fill="#f7b471"/>
<rect x="426.77" y="93.20" width="16.08" height="2.60" fill="#f8b674"/>
<rect x="442.55" y="93.20" width="16.08" height="2.60" fill="#bbdde9"/>
<rect x="458.33" y="93.20" width="16.08" height="2.60" fill="#b4d9e7"/>
<rect x="474.12" y="93.20" width="16.08" height="2.60" fill="#b4d9e7"/>
<rect x="395.20" y="95.40" width="16.08" height="3.60" fill="#f29555"/>
<rect x="410.98" y="95.40" width="16.08" height="3.60" fill="#f9d69d"/>
<rect x="426.77" y="95.40" width="16.08" height="3.60" fill="#f8b674"/>
<rect x="442.55" y="95.40" width="16.08" height="3.60" fill="#c4e2ec"/>
<rect x="458.33" y="95.40" width="16.08" height="3.60" fill="#d5e5da"/>
<rect x="474.12" y="95.40" width="16.08" height="3.60" fill="#add5e5"/>
<rect x="395.20" y="98.60" width="16.08" height="3.00" fill="#f7e4af"/>
<rect x="410.98" y="98.60" width="16.08" height="3.00" fill="#f8dfa8"/>
<rect x="426.77" y="98.60" width="16.08" height="3.00" fill="#c4e2ec"/>
<rect x="442.55" y="98.60" width="16.08" height="3.00" fill="#f6e7b2"/>
<rect x="458.33" y="98.60" width="16.08" height="3.00" fill="#d5e5da"/>
<rect x="474.12" y="98.60" width="16.08" height="3.00" fill="#88bad5"/>
<rect x="395.20" y="101.20" width="16.08" height="2.60" fill="#bbdde9"/>
<rect x="410.98" y="101.20" width="16.08" height="2.60" fill="#b1d7e7"/>
<rect x="426.77" y="101.20" width="16.08" height="2.60" fill="#b6dae8"/>
<rect x="442.55" y="101.20" width="16.08" height="2.60" fill="#de5e36"/>
<rect x="458.33" y="101.20" width="16.08" height="2.60" fill="#f8d9a0"/>
<rect x="474.12" y="101.20" width="16.08" height="2.60" fill="#f6eab6"/>
<rect x="395.20" y="103.40" width="16.08" height="3.20" fill="#add5e5"/>
<rect x="410.98" y="103.40" width="16.08" height="3.20" fill="#b6dae8"/>
<rect x="426.77" y="103.40" width="16.08" height="3.20" fill="#b1d7e7"/>
<rect x="442.55" y="103.40" width="16.08" height="3.20" fill="#f7b06c"/>
<rect x="458.33" y="103.40" width="16.08" height="3.20" fill="#ec7a3e"/>
<rect x="474.12" y="103.40" width="16.08" height="3.20" fill="#f9d499"/>
<rect x="395.20" y="106.20" width="16.08" height="2.52" fill="#afd6e6"/>
<rect x="410.98" y="106.20" width="16.08" height="2.52" fill="#aed5e6"/>
<rect x="426.77" y="106.20" width="16.08" height="2.52" fill="#a8d2e4"/>
<rect x="442.55" y="106.20" width="16.08" height="2.52" fill="#f7b06c"/>
<rect x="458.33" y="106.20" width="16.08" height="2.52" fill="#f6aa67"/>
<rect x="474.12" y="106.20" width="16.08" height="2.52" fill="#f8b775"/>
<rect x="395.20" y="108.32" width="16.08" height="2.52" fill="#abd4e5"/>
<rect x="410.98" y="108.32" width="16.08" height="2.52" fill="#b5d9e8"/>
<rect x="426.77" y="108.32" width="16.08" height="2.52" fill="#acd4e5"/>
<rect x="442.55" y="108.32" width="16.08" height="2.52" fill="#f7b06c"/>
<rect x="458.33" y="108.32" width="16.08" height="2.52" fill="#f8b774"/>
<rect x="474.12" y="108.32" width="16.08" height="2.52" fill="#f7b572"/>
<rect x="395.20" y="110.44" width="16.08" height="2.52" fill="#b3d8e7"/>
<rect x="410.98" y="110.44" width="16.08" height="2.52" fill="#acd4e5"/>
<rect x="426.77" y="110.44" width="16.08" height="2.52" fill="#b3d8e7"/>
<rect x="442.55" y="110.44" width="16.08" height="2.52" fill="#f7b26f"/>
<rect x="458.33" y="110.44" width="16.08" height="2.52" fill="#ee8547"/>
<rect x="474.12" y="110.44" width="16.08" height="2.52" fill="#f7b06d"/>
<rect x="395.20" y="112.57" width="16.08" height="2.52" fill="#b2d8e7"/>
<rect x="410.98" y="112.57" width="16.08" height="2.52" fill="#b2d8e7"/>
<rect x="426.77" y="112.57" width="16.08" height="2.52" fill="#abd4e5"/>
<rect x="442.55" y="112.57" width="16.08" height="2.52" fill="#f7b06c"/>
<rect x="458.33" y="112.57" width="16.08" height="2.52" fill="#f8b674"/>
<rect x="474.12" y="112.57" width="16.08" height="2.52" fill="#f7b26e"/>
<rect x="395.20" y="114.69" width="16.08" height="2.52" fill="#badce9"/>
<rect x="410.98" y="114.69" width="16.08" height="2.52" fill="#a4cfe2"/>
<rect x="426.77" y="114.69" width="16.08" height="2.52" fill="#acd4e5"/>
<rect x="442.55" y="114.69" width="16.08" height="2.52" fill="#f7b16d"/>
<rect x="458.33" y="114.69" width="16.08" height="2.52" fill="#f6ab68"/>
<rect x="474.12" y="114.69" width="16.08" height="2.52" fill="#f7b16d"/>
<rect x="395.20" y="116.81" width="16.08" height="2.52" fill="#bedfea"/>
<rect x="410.98" y="116.81" width="16.08" height="2.52" fill="#add5e5"/>
<rect x="426.77" y="116.81" width="16.08" height="2.52" fill="#aad3e5"/>
<rect x="442.55" y="116.81" width="16.08" height="2.52" fill="#fad196"/>
<rect x="458.33" y="116.81" width="16.08" height="2.52" fill="#f7b06c"/>
<rect x="474.12" y="116.81" width="16.08" height="2.52" fill="#f7b36f"/>
<rect x="395.20" y="118.93" width="16.08" height="2.52" fill="#bcddea"/>
<rect x="410.98" y="118.93" width="16.08" height="2.52" fill="#b4d9e7"/>
<rect x="426.77" y="118.93" width="16.08" height="2.52" fill="#b8dbe9"/>
<rect x="442.55" y="118.93" width="16.08" height="2.52" fill="#f7b26f"/>
<rect x="458.33" y="118.93" width="16.08" height="2.52" fill="#f7b16e"/>
<rect x="474.12" y="118.93" width="16.08" height="2.52" fill="#face92"/>
<rect x="395.20" y="121.06" width="16.08" height="2.52" fill="#bedfea"/>
<rect x="410.98" y="121.06" width="16.08" height="2.52" fill="#b5d9e8"/>
<rect x="426.77" y="121.06" width="16.08" height="2.52" fill="#add5e6"/>
<rect x="442.55" y="121.06" width="16.08" height="2.52" fill="#f09050"/>
<rect x="458.33" y="121.06" width="16.08" height="2.52" fill="#f8b673"/>
<rect x="474.12" y="121.06" width="16.08" height="2.52" fill="#f8b775"/>
<rect x="395.20" y="123.18" width="16.08" height="2.52" fill="#88bad5"/>
<rect x="410.98" y="123.18" width="16.08" height="2.52" fill="#98c6dc"/>
<rect x="426.77" y="123.18" width="16.08" height="2.52" fill="#b1d7e7"/>
<rect x="442.55" y="123.18" width="16.08" height="2.52" fill="#f6ad69"/>
<rect x="458.33" y="123.18" width="16.08" height="2.52" fill="#f7b471"/>
<rect x="474.12" y="123.18" width="16.08" height="2.52" fill="#f7b572"/>
<path d="M415.8 28.4V24.8H462.1V28.4" fill="none" stroke="#b8b8b8" stroke-width="0.6"/>
<path d="M402.4 30.4V28.4H427.0V30.4" fill="none" stroke="#b8b8b8" stroke-width="0.6"/>
<path d="M448.7 30.4V28.4H482.6V30.4" fill="none" stroke="#b8b8b8" stroke-width="0.6"/>
<path d="M395 31H390V122H395M390 60H388V110H390" fill="none" stroke="#d6d6d6" stroke-width="0.5"/>
<rect x="396.20" y="128.50" width="45.60" height="1.40" fill="#555"/>
<rect x="444.20" y="128.50" width="45.40" height="1.40" fill="#555"/>
<text x="398.5" y="138.6" font-size="6.8" fill="#333">MC5R<tspan font-size="3.8" dy="-2.6">−/−</tspan><tspan dy="2.6"> + IR</tspan></text>
<text x="467.00" y="138.60" font-size="6.8" fill="#333" text-anchor="middle">WT + IR</text>
<defs><linearGradient id="cb" x1="0" y1="0" x2="0" y2="1"><stop offset="0" stop-color="#c8323c"/><stop offset="0.27" stop-color="#e89448"/><stop offset="0.5" stop-color="#f6dca0"/><stop offset="0.62" stop-color="#b8d0d0"/><stop offset="1" stop-color="#2a5a80"/></linearGradient></defs>
<rect x="497.90" y="26.70" width="2.00" height="38.60" fill="url(#cb)"/>
<text x="504.60" y="31.50" font-size="6.6" fill="#333">2</text>
<text x="504.60" y="40.70" font-size="6.6" fill="#333">1</text>
<text x="504.60" y="49.90" font-size="6.6" fill="#333">0</text>
<text x="504.60" y="58.90" font-size="6.6" fill="#333">−1</text>
<text x="504.60" y="68.30" font-size="6.6" fill="#333">−2</text>
<defs><linearGradient id="rb" x1="0" y1="0" x2="1" y2="0"><stop offset="0" stop-color="#d8253a"/><stop offset="0.2" stop-color="#e03a4e"/><stop offset="0.36" stop-color="#f2b4c0"/><stop offset="0.5" stop-color="#f4eef6"/><stop offset="0.64" stop-color="#c4c4e6"/><stop offset="0.76" stop-color="#5050ac"/><stop offset="1" stop-color="#262690"/></linearGradient></defs>
<text x="277.30" y="190.00" font-size="9.75" fill="#222" text-anchor="middle">Proliferation and quiescence-related genes enrichment</text>
<line x1="55.20" y1="194.10" x2="495.20" y2="194.10" stroke="#2a2a2a" stroke-width="1.1"/>
<text x="277.30" y="283.60" font-size="9.75" fill="#222" text-anchor="middle">Cell metabolism-related genes enrichment</text>
<line x1="55.20" y1="287.10" x2="495.20" y2="287.10" stroke="#2a2a2a" stroke-width="1.1"/>
<text x="277.30" y="374.00" font-size="9.75" fill="#222" text-anchor="middle">Protein synthesis-related genes enrichment</text>
<line x1="55.20" y1="379.20" x2="495.20" y2="379.20" stroke="#2a2a2a" stroke-width="1.1"/>
<line x1="52.80" y1="239.50" x2="133.10" y2="239.50" stroke="#dcdcdc" stroke-width="0.5"/>
<rect x="54" y="245.50" width="0.9" height="11.30" fill="rgb(20,20,20)"/>
<rect x="55" y="245.50" width="0.9" height="11.30" fill="rgb(91,91,91)"/>
<rect x="56" y="245.50" width="0.9" height="11.30" fill="rgb(20,20,20)"/>
<rect x="57" y="245.50" width="0.9" height="11.30" fill="rgb(99,99,99)"/>
<rect x="59" y="245.50" width="0.9" height="11.30" fill="rgb(151,151,151)"/>
<rect x="60" y="245.50" width="0.9" height="11.30" fill="rgb(98,98,98)"/>
<rect x="61" y="245.50" width="0.9" height="11.30" fill="rgb(52,52,52)"/>
<rect x="62" y="245.50" width="0.9" height="11.30" fill="rgb(129,129,129)"/>
<rect x="63" y="245.50" width="0.9" height="11.30" fill="rgb(86,86,86)"/>
<rect x="64" y="245.50" width="0.9" height="11.30" fill="rgb(104,104,104)"/>
<rect x="65" y="245.50" width="0.9" height="11.30" fill="rgb(95,95,95)"/>
<rect x="66" y="245.50" width="0.9" height="11.30" fill="rgb(159,159,159)"/>
<rect x="67" y="245.50" width="0.9" height="11.30" fill="rgb(82,82,82)"/>
<rect x="68" y="245.50" width="0.9" height="11.30" fill="rgb(55,55,55)"/>
<rect x="69" y="245.50" width="0.9" height="11.30" fill="rgb(109,109,109)"/>
<rect x="70" y="245.50" width="0.9" height="11.30" fill="rgb(75,75,75)"/>
<rect x="71" y="245.50" width="0.9" height="11.30" fill="rgb(156,156,156)"/>
<rect x="72" y="245.50" width="0.9" height="11.30" fill="rgb(195,195,195)"/>
<rect x="74" y="245.50" width="0.9" height="11.30" fill="rgb(83,83,83)"/>
<rect x="76" y="245.50" width="0.9" height="11.30" fill="rgb(75,75,75)"/>
<rect x="77" y="245.50" width="0.9" height="11.30" fill="rgb(89,89,89)"/>
<rect x="78" y="245.50" width="0.9" height="11.30" fill="rgb(97,97,97)"/>
<rect x="79" y="245.50" width="0.9" height="11.30" fill="rgb(121,121,121)"/>
<rect x="80" y="245.50" width="0.9" height="11.30" fill="rgb(178,178,178)"/>
<rect x="81" y="245.50" width="0.9" height="11.30" fill="rgb(152,152,152)"/>
<rect x="82" y="245.50" width="0.9" height="11.30" fill="rgb(106,106,106)"/>
<rect x="83" y="245.50" width="0.9" height="11.30" fill="rgb(161,161,161)"/>
<rect x="84" y="245.50" width="0.9" height="11.30" fill="rgb(64,64,64)"/>
<rect x="86" y="245.50" width="0.9" height="11.30" fill="rgb(179,179,179)"/>
<rect x="87" y="245.50" width="0.9" height="11.30" fill="rgb(102,102,102)"/>
<rect x="88" y="245.50" width="0.9" height="11.30" fill="rgb(86,86,86)"/>
<rect x="90" y="245.50" width="0.9" height="11.30" fill="rgb(134,134,134)"/>
<rect x="91" y="245.50" width="0.9" height="11.30" fill="rgb(162,162,162)"/>
<rect x="92" y="245.50" width="0.9" height="11.30" fill="rgb(183,183,183)"/>
<rect x="95" y="245.50" width="0.9" height="11.30" fill="rgb(167,167,167)"/>
<rect x="96" y="245.50" width="0.9" height="11.30" fill="rgb(191,191,191)"/>
<rect x="97" y="245.50" width="0.9" height="11.30" fill="rgb(161,161,161)"/>
<rect x="102" y="245.50" width="0.9" height="11.30" fill="rgb(116,116,116)"/>
<rect x="103" y="245.50" width="0.9" height="11.30" fill="rgb(170,170,170)"/>
<rect x="104" y="245.50" width="0.9" height="11.30" fill="rgb(195,195,195)"/>
<rect x="105" y="245.50" width="0.9" height="11.30" fill="rgb(150,150,150)"/>
<rect x="106" y="245.50" width="0.9" height="11.30" fill="rgb(114,114,114)"/>
<rect x="107" y="245.50" width="0.9" height="11.30" fill="rgb(109,109,109)"/>
<rect x="109" y="245.50" width="0.9" height="11.30" fill="rgb(146,146,146)"/>
<rect x="110" y="245.50" width="0.9" height="11.30" fill="rgb(184,184,184)"/>
<rect x="114" y="245.50" width="0.9" height="11.30" fill="rgb(168,168,168)"/>
<rect x="117" y="245.50" width="0.9" height="11.30" fill="rgb(126,126,126)"/>
<rect x="118" y="245.50" width="0.9" height="11.30" fill="rgb(187,187,187)"/>
<rect x="120" y="245.50" width="0.9" height="11.30" fill="rgb(177,177,177)"/>
<rect x="124" y="245.50" width="0.9" height="11.30" fill="rgb(205,205,205)"/>
<rect x="125" y="245.50" width="0.9" height="11.30" fill="rgb(81,81,81)"/>
<rect x="126" y="245.50" width="0.9" height="11.30" fill="rgb(105,105,105)"/>
<rect x="128" y="245.50" width="0.9" height="11.30" fill="rgb(207,207,207)"/>
<rect x="129" y="245.50" width="0.9" height="11.30" fill="rgb(242,242,242)"/>
<rect x="53.30" y="256.80" width="79.30" height="2.80" fill="url(#rb)"/>
<path d="M53.50,240.50C53.87,239.90 53.83,243.03 54.60,238.70C55.37,234.37 54.53,234.13 55.80,227.50C57.07,220.87 56.40,223.43 58.40,218.80C60.40,214.17 59.50,215.90 61.80,213.60C64.10,211.30 62.70,212.77 65.30,211.90C67.90,211.03 66.70,210.87 69.60,211.00C72.50,211.13 69.67,209.97 74.00,212.30C78.33,214.63 76.27,214.10 82.60,218.00C88.93,221.90 86.07,219.67 93.00,224.00C99.93,228.33 96.50,226.37 103.40,231.00C110.30,235.63 107.93,234.17 113.70,237.90C119.47,241.63 117.27,240.60 120.70,242.20C124.13,243.80 121.13,242.70 124.00,242.70C126.87,242.70 126.50,243.23 129.30,242.20C132.10,241.17 131.37,240.47 132.40,239.60" fill="none" stroke="#4cad4a" stroke-width="1.0" stroke-linejoin="round"/>
<rect x="52.80" y="208.80" width="80.30" height="51.20" fill="none" stroke="#111" stroke-width="1"/>
<line x1="49.40" y1="213.30" x2="52.80" y2="213.30" stroke="#111" stroke-width="0.9"/>
<text x="46.20" y="215.60" font-size="6.5" fill="#333" text-anchor="end">0.4</text>
<line x1="49.40" y1="219.85" x2="52.80" y2="219.85" stroke="#111" stroke-width="0.9"/>
<text x="46.20" y="222.15" font-size="6.5" fill="#333" text-anchor="end">0.3</text>
<line x1="49.40" y1="226.40" x2="52.80" y2="226.40" stroke="#111" stroke-width="0.9"/>
<text x="46.20" y="228.70" font-size="6.5" fill="#333" text-anchor="end">0.2</text>
<line x1="49.40" y1="232.95" x2="52.80" y2="232.95" stroke="#111" stroke-width="0.9"/>
<text x="46.20" y="235.25" font-size="6.5" fill="#333" text-anchor="end">0.1</text>
<line x1="49.40" y1="239.50" x2="52.80" y2="239.50" stroke="#111" stroke-width="0.9"/>
<text x="46.20" y="241.80" font-size="6.5" fill="#333" text-anchor="end">0.0</text>
<text x="92.95" y="205.20" font-size="6.5" fill="#333" text-anchor="middle">Quiescent HSC Signature</text>
<text x="57.50" y="231.00" font-size="6.9" fill="#333">NES:1.590</text>
<text x="57.50" y="236.30" font-size="6.9" fill="#333"><tspan font-style="italic">P</tspan>-value:.003</text>
<text x="57.50" y="241.90" font-size="6.9" fill="#333">FDR:0.005</text>
<text x="31.30" y="234.90" font-size="7.9" fill="#222" text-anchor="middle" stroke="#222" stroke-width="0.28" textLength="62.00" lengthAdjust="spacingAndGlyphs" transform="rotate(-90 31.30 234.90)">Enrichment score (ES)</text>
<text x="52.80" y="268.50" font-size="6.9" fill="#333">MC5R<tspan font-size="3.8" dy="-2.7">−/−</tspan><tspan dy="2.7"> + IR</tspan></text>
<text x="134.10" y="268.50" font-size="6.6" fill="#333" text-anchor="end">WT + IR</text>
<line x1="175.20" y1="211.25" x2="255.10" y2="211.25" stroke="#dcdcdc" stroke-width="0.5"/>
<rect x="176" y="245.50" width="0.9" height="11.30" fill="rgb(241,241,241)"/>
<rect x="177" y="245.50" width="0.9" height="11.30" fill="rgb(242,242,242)"/>
<rect x="179" y="245.50" width="0.9" height="11.30" fill="rgb(216,216,216)"/>
<rect x="181" y="245.50" width="0.9" height="11.30" fill="rgb(234,234,234)"/>
<rect x="183" y="245.50" width="0.9" height="11.30" fill="rgb(231,231,231)"/>
<rect x="185" y="245.50" width="0.9" height="11.30" fill="rgb(220,220,220)"/>
<rect x="189" y="245.50" width="0.9" height="11.30" fill="rgb(191,191,191)"/>
<rect x="193" y="245.50" width="0.9" height="11.30" fill="rgb(224,224,224)"/>
<rect x="194" y="245.50" width="0.9" height="11.30" fill="rgb(173,173,173)"/>
<rect x="199" y="245.50" width="0.9" height="11.30" fill="rgb(148,148,148)"/>
<rect x="202" y="245.50" width="0.9" height="11.30" fill="rgb(206,206,206)"/>
<rect x="203" y="245.50" width="0.9" height="11.30" fill="rgb(216,216,216)"/>
<rect x="205" y="245.50" width="0.9" height="11.30" fill="rgb(216,216,216)"/>
<rect x="209" y="245.50" width="0.9" height="11.30" fill="rgb(159,159,159)"/>
<rect x="210" y="245.50" width="0.9" height="11.30" fill="rgb(119,119,119)"/>
<rect x="211" y="245.50" width="0.9" height="11.30" fill="rgb(190,190,190)"/>
<rect x="212" y="245.50" width="0.9" height="11.30" fill="rgb(173,173,173)"/>
<rect x="213" y="245.50" width="0.9" height="11.30" fill="rgb(130,130,130)"/>
<rect x="214" y="245.50" width="0.9" height="11.30" fill="rgb(150,150,150)"/>
<rect x="217" y="245.50" width="0.9" height="11.30" fill="rgb(148,148,148)"/>
<rect x="218" y="245.50" width="0.9" height="11.30" fill="rgb(199,199,199)"/>
<rect x="220" y="245.50" width="0.9" height="11.30" fill="rgb(105,105,105)"/>
<rect x="221" y="245.50" width="0.9" height="11.30" fill="rgb(174,174,174)"/>
<rect x="224" y="245.50" width="0.9" height="11.30" fill="rgb(20,20,20)"/>
<rect x="225" y="245.50" width="0.9" height="11.30" fill="rgb(103,103,103)"/>
<rect x="226" y="245.50" width="0.9" height="11.30" fill="rgb(50,50,50)"/>
<rect x="227" y="245.50" width="0.9" height="11.30" fill="rgb(144,144,144)"/>
<rect x="228" y="245.50" width="0.9" height="11.30" fill="rgb(54,54,54)"/>
<rect x="230" y="245.50" width="0.9" height="11.30" fill="rgb(62,62,62)"/>
<rect x="232" y="245.50" width="0.9" height="11.30" fill="rgb(44,44,44)"/>
<rect x="233" y="245.50" width="0.9" height="11.30" fill="rgb(143,143,143)"/>
<rect x="234" y="245.50" width="0.9" height="11.30" fill="rgb(118,118,118)"/>
<rect x="235" y="245.50" width="0.9" height="11.30" fill="rgb(149,149,149)"/>
<rect x="236" y="245.50" width="0.9" height="11.30" fill="rgb(138,138,138)"/>
<rect x="237" y="245.50" width="0.9" height="11.30" fill="rgb(116,116,116)"/>
<rect x="238" y="245.50" width="0.9" height="11.30" fill="rgb(103,103,103)"/>
<rect x="240" y="245.50" width="0.9" height="11.30" fill="rgb(98,98,98)"/>
<rect x="241" y="245.50" width="0.9" height="11.30" fill="rgb(43,43,43)"/>
<rect x="242" y="245.50" width="0.9" height="11.30" fill="rgb(76,76,76)"/>
<rect x="243" y="245.50" width="0.9" height="11.30" fill="rgb(102,102,102)"/>
<rect x="244" y="245.50" width="0.9" height="11.30" fill="rgb(43,43,43)"/>
<rect x="245" y="245.50" width="0.9" height="11.30" fill="rgb(67,67,67)"/>
<rect x="246" y="245.50" width="0.9" height="11.30" fill="rgb(42,42,42)"/>
<rect x="247" y="245.50" width="0.9" height="11.30" fill="rgb(20,20,20)"/>
<rect x="249" y="245.50" width="0.9" height="11.30" fill="rgb(92,92,92)"/>
<rect x="250" y="245.50" width="0.9" height="11.30" fill="rgb(82,82,82)"/>
<rect x="251" y="245.50" width="0.9" height="11.30" fill="rgb(48,48,48)"/>
<rect x="252" y="245.50" width="0.9" height="11.30" fill="rgb(102,102,102)"/>
<rect x="253" y="245.50" width="0.9" height="11.30" fill="rgb(61,61,61)"/>
<rect x="254" y="245.50" width="0.9" height="11.30" fill="rgb(43,43,43)"/>
<rect x="175.70" y="256.80" width="78.90" height="2.80" fill="url(#rb)"/>
<path d="M175.50,211.60C178.27,213.43 176.97,212.97 183.80,217.10C190.63,221.23 187.93,219.37 196.00,224.00C204.07,228.63 199.93,226.67 208.00,231.00C216.07,235.33 213.27,233.27 220.20,237.00C227.13,240.73 224.50,240.07 228.80,242.20C233.10,244.33 230.80,243.40 233.10,243.40C235.40,243.40 233.67,244.33 235.70,242.20C237.73,240.07 236.30,240.73 239.20,237.00C242.10,233.27 241.23,235.90 244.40,231.00C247.57,226.10 246.10,228.37 248.70,222.30C251.30,216.23 250.30,216.57 252.20,212.80C254.10,209.03 253.67,211.60 254.40,211.00" fill="none" stroke="#4cad4a" stroke-width="1.0" stroke-linejoin="round"/>
<rect x="175.20" y="208.80" width="79.90" height="51.20" fill="none" stroke="#111" stroke-width="1"/>
<line x1="171.80" y1="211.25" x2="175.20" y2="211.25" stroke="#111" stroke-width="0.9"/>
<text x="168.60" y="213.55" font-size="6.5" fill="#333" text-anchor="end">0.0</text>
<line x1="171.80" y1="216.90" x2="175.20" y2="216.90" stroke="#111" stroke-width="0.9"/>
<text x="168.60" y="219.20" font-size="6.5" fill="#333" text-anchor="end">−0.1</text>
<line x1="171.80" y1="222.55" x2="175.20" y2="222.55" stroke="#111" stroke-width="0.9"/>
<text x="168.60" y="224.85" font-size="6.5" fill="#333" text-anchor="end">−0.2</text>
<line x1="171.80" y1="228.20" x2="175.20" y2="228.20" stroke="#111" stroke-width="0.9"/>
<text x="168.60" y="230.50" font-size="6.5" fill="#333" text-anchor="end">−0.3</text>
<line x1="171.80" y1="233.85" x2="175.20" y2="233.85" stroke="#111" stroke-width="0.9"/>
<text x="168.60" y="236.15" font-size="6.5" fill="#333" text-anchor="end">−0.4</text>
<line x1="171.80" y1="239.50" x2="175.20" y2="239.50" stroke="#111" stroke-width="0.9"/>
<text x="168.60" y="241.80" font-size="6.5" fill="#333" text-anchor="end">−0.5</text>
<text x="215.15" y="205.20" font-size="6.5" fill="#333" text-anchor="middle">Proliferative HSC Signature</text>
<text x="177.30" y="231.00" font-size="6.9" fill="#333">NES:−2.536</text>
<text x="177.30" y="236.30" font-size="6.9" fill="#333"><tspan font-style="italic">P</tspan>-value:.000</text>
<text x="177.30" y="241.90" font-size="6.9" fill="#333">FDR:0.000</text>
<text x="149.00" y="234.90" font-size="7.9" fill="#222" text-anchor="middle" stroke="#222" stroke-width="0.28" textLength="62.00" lengthAdjust="spacingAndGlyphs" transform="rotate(-90 149.00 234.90)">Enrichment score (ES)</text>
<text x="175.20" y="268.50" font-size="6.9" fill="#333">MC5R<tspan font-size="3.8" dy="-2.7">−/−</tspan><tspan dy="2.7"> + IR</tspan></text>
<text x="256.10" y="268.50" font-size="6.6" fill="#333" text-anchor="end">WT + IR</text>
<line x1="298.20" y1="210.80" x2="378.10" y2="210.80" stroke="#dcdcdc" stroke-width="0.5"/>
<rect x="300" y="245.50" width="0.9" height="11.30" fill="rgb(198,198,198)"/>
<rect x="301" y="245.50" width="0.9" height="11.30" fill="rgb(220,220,220)"/>
<rect x="303" y="245.50" width="0.9" height="11.30" fill="rgb(162,162,162)"/>
<rect x="304" y="245.50" width="0.9" height="11.30" fill="rgb(167,167,167)"/>
<rect x="305" y="245.50" width="0.9" height="11.30" fill="rgb(100,100,100)"/>
<rect x="306" y="245.50" width="0.9" height="11.30" fill="rgb(162,162,162)"/>
<rect x="310" y="245.50" width="0.9" height="11.30" fill="rgb(154,154,154)"/>
<rect x="311" y="245.50" width="0.9" height="11.30" fill="rgb(127,127,127)"/>
<rect x="312" y="245.50" width="0.9" height="11.30" fill="rgb(179,179,179)"/>
<rect x="314" y="245.50" width="0.9" height="11.30" fill="rgb(214,214,214)"/>
<rect x="315" y="245.50" width="0.9" height="11.30" fill="rgb(159,159,159)"/>
<rect x="318" y="245.50" width="0.9" height="11.30" fill="rgb(148,148,148)"/>
<rect x="319" y="245.50" width="0.9" height="11.30" fill="rgb(141,141,141)"/>
<rect x="320" y="245.50" width="0.9" height="11.30" fill="rgb(105,105,105)"/>
<rect x="321" y="245.50" width="0.9" height="11.30" fill="rgb(154,154,154)"/>
<rect x="322" y="245.50" width="0.9" height="11.30" fill="rgb(163,163,163)"/>
<rect x="323" y="245.50" width="0.9" height="11.30" fill="rgb(101,101,101)"/>
<rect x="324" y="245.50" width="0.9" height="11.30" fill="rgb(160,160,160)"/>
<rect x="325" y="245.50" width="0.9" height="11.30" fill="rgb(192,192,192)"/>
<rect x="326" y="245.50" width="0.9" height="11.30" fill="rgb(100,100,100)"/>
<rect x="327" y="245.50" width="0.9" height="11.30" fill="rgb(178,178,178)"/>
<rect x="328" y="245.50" width="0.9" height="11.30" fill="rgb(130,130,130)"/>
<rect x="329" y="245.50" width="0.9" height="11.30" fill="rgb(128,128,128)"/>
<rect x="330" y="245.50" width="0.9" height="11.30" fill="rgb(110,110,110)"/>
<rect x="331" y="245.50" width="0.9" height="11.30" fill="rgb(184,184,184)"/>
<rect x="332" y="245.50" width="0.9" height="11.30" fill="rgb(117,117,117)"/>
<rect x="333" y="245.50" width="0.9" height="11.30" fill="rgb(107,107,107)"/>
<rect x="334" y="245.50" width="0.9" height="11.30" fill="rgb(136,136,136)"/>
<rect x="335" y="245.50" width="0.9" height="11.30" fill="rgb(148,148,148)"/>
<rect x="336" y="245.50" width="0.9" height="11.30" fill="rgb(154,154,154)"/>
<rect x="337" y="245.50" width="0.9" height="11.30" fill="rgb(122,122,122)"/>
<rect x="338" y="245.50" width="0.9" height="11.30" fill="rgb(160,160,160)"/>
<rect x="339" y="245.50" width="0.9" height="11.30" fill="rgb(102,102,102)"/>
<rect x="340" y="245.50" width="0.9" height="11.30" fill="rgb(130,130,130)"/>
<rect x="341" y="245.50" width="0.9" height="11.30" fill="rgb(77,77,77)"/>
<rect x="342" y="245.50" width="0.9" height="11.30" fill="rgb(103,103,103)"/>
<rect x="343" y="245.50" width="0.9" height="11.30" fill="rgb(124,124,124)"/>
<rect x="347" y="245.50" width="0.9" height="11.30" fill="rgb(110,110,110)"/>
<rect x="348" y="245.50" width="0.9" height="11.30" fill="rgb(88,88,88)"/>
<rect x="349" y="245.50" width="0.9" height="11.30" fill="rgb(57,57,57)"/>
<rect x="350" y="245.50" width="0.9" height="11.30" fill="rgb(76,76,76)"/>
<rect x="351" y="245.50" width="0.9" height="11.30" fill="rgb(148,148,148)"/>
<rect x="352" y="245.50" width="0.9" height="11.30" fill="rgb(116,116,116)"/>
<rect x="353" y="245.50" width="0.9" height="11.30" fill="rgb(32,32,32)"/>
<rect x="354" y="245.50" width="0.9" height="11.30" fill="rgb(78,78,78)"/>
<rect x="356" y="245.50" width="0.9" height="11.30" fill="rgb(74,74,74)"/>
<rect x="357" y="245.50" width="0.9" height="11.30" fill="rgb(42,42,42)"/>
<rect x="358" y="245.50" width="0.9" height="11.30" fill="rgb(136,136,136)"/>
<rect x="359" y="245.50" width="0.9" height="11.30" fill="rgb(89,89,89)"/>
<rect x="360" y="245.50" width="0.9" height="11.30" fill="rgb(94,94,94)"/>
<rect x="361" y="245.50" width="0.9" height="11.30" fill="rgb(61,61,61)"/>
<rect x="362" y="245.50" width="0.9" height="11.30" fill="rgb(49,49,49)"/>
<rect x="363" y="245.50" width="0.9" height="11.30" fill="rgb(142,142,142)"/>
<rect x="364" y="245.50" width="0.9" height="11.30" fill="rgb(81,81,81)"/>
<rect x="365" y="245.50" width="0.9" height="11.30" fill="rgb(84,84,84)"/>
<rect x="366" y="245.50" width="0.9" height="11.30" fill="rgb(153,153,153)"/>
<rect x="367" y="245.50" width="0.9" height="11.30" fill="rgb(114,114,114)"/>
<rect x="368" y="245.50" width="0.9" height="11.30" fill="rgb(102,102,102)"/>
<rect x="370" y="245.50" width="0.9" height="11.30" fill="rgb(61,61,61)"/>
<rect x="371" y="245.50" width="0.9" height="11.30" fill="rgb(69,69,69)"/>
<rect x="372" y="245.50" width="0.9" height="11.30" fill="rgb(83,83,83)"/>
<rect x="373" y="245.50" width="0.9" height="11.30" fill="rgb(109,109,109)"/>
<rect x="374" y="245.50" width="0.9" height="11.30" fill="rgb(93,93,93)"/>
<rect x="376" y="245.50" width="0.9" height="11.30" fill="rgb(112,112,112)"/>
<rect x="377" y="245.50" width="0.9" height="11.30" fill="rgb(20,20,20)"/>
<rect x="298.70" y="256.80" width="78.90" height="2.80" fill="url(#rb)"/>
<path d="M299.00,211.60C300.47,211.70 299.63,210.63 303.40,211.90C307.17,213.17 306.27,213.67 310.30,215.40C314.33,217.13 311.47,215.37 315.50,217.10C319.53,218.83 317.23,217.13 322.40,220.60C327.57,224.07 325.23,222.60 331.00,227.50C336.77,232.40 334.50,230.97 339.70,235.30C344.90,239.63 342.57,238.03 346.60,240.50C350.63,242.97 348.90,242.43 351.80,242.70C354.70,242.97 353.00,243.50 355.30,241.30C357.60,239.10 356.40,239.53 358.70,236.10C361.00,232.67 359.87,232.70 362.20,231.00C364.53,229.30 363.40,233.33 365.70,231.00C368.00,228.67 366.80,228.07 369.10,224.00C371.40,219.93 370.57,221.67 372.60,218.80C374.63,215.93 373.77,218.27 375.20,215.40C376.63,212.53 376.33,211.93 376.90,210.20" fill="none" stroke="#4cad4a" stroke-width="1.0" stroke-linejoin="round"/>
<rect x="298.20" y="208.80" width="79.90" height="51.20" fill="none" stroke="#111" stroke-width="1"/>
<line x1="294.80" y1="210.80" x2="298.20" y2="210.80" stroke="#111" stroke-width="0.9"/>
<text x="291.60" y="213.10" font-size="6.5" fill="#333" text-anchor="end">0.0</text>
<line x1="294.80" y1="219.50" x2="298.20" y2="219.50" stroke="#111" stroke-width="0.9"/>
<text x="291.60" y="221.80" font-size="6.5" fill="#333" text-anchor="end">−0.1</text>
<line x1="294.80" y1="228.20" x2="298.20" y2="228.20" stroke="#111" stroke-width="0.9"/>
<text x="291.60" y="230.50" font-size="6.5" fill="#333" text-anchor="end">−0.2</text>
<line x1="294.80" y1="236.90" x2="298.20" y2="236.90" stroke="#111" stroke-width="0.9"/>
<text x="291.60" y="239.20" font-size="6.5" fill="#333" text-anchor="end">−0.3</text>
<text x="338.15" y="205.20" font-size="6.5" fill="#333" text-anchor="middle">Cell Division</text>
<text x="299.60" y="231.00" font-size="6.9" fill="#333">NES:−1.715</text>
<text x="299.60" y="236.30" font-size="6.9" fill="#333"><tspan font-style="italic">P</tspan>-value:.000</text>
<text x="299.60" y="241.90" font-size="6.9" fill="#333">FDR:0.120</text>
<text x="272.00" y="234.90" font-size="7.9" fill="#222" text-anchor="middle" stroke="#222" stroke-width="0.28" textLength="62.00" lengthAdjust="spacingAndGlyphs" transform="rotate(-90 272.00 234.90)">Enrichment score (ES)</text>
<text x="298.20" y="268.50" font-size="6.9" fill="#333">MC5R<tspan font-size="3.8" dy="-2.7">−/−</tspan><tspan dy="2.7"> + IR</tspan></text>
<text x="379.10" y="268.50" font-size="6.6" fill="#333" text-anchor="end">WT + IR</text>
<line x1="418.80" y1="210.50" x2="498.40" y2="210.50" stroke="#dcdcdc" stroke-width="0.5"/>
<rect x="420" y="245.50" width="0.9" height="11.30" fill="rgb(127,127,127)"/>
<rect x="421" y="245.50" width="0.9" height="11.30" fill="rgb(196,196,196)"/>
<rect x="424" y="245.50" width="0.9" height="11.30" fill="rgb(206,206,206)"/>
<rect x="425" y="245.50" width="0.9" height="11.30" fill="rgb(205,205,205)"/>
<rect x="426" y="245.50" width="0.9" height="11.30" fill="rgb(192,192,192)"/>
<rect x="428" y="245.50" width="0.9" height="11.30" fill="rgb(191,191,191)"/>
<rect x="433" y="245.50" width="0.9" height="11.30" fill="rgb(196,196,196)"/>
<rect x="434" y="245.50" width="0.9" height="11.30" fill="rgb(214,214,214)"/>
<rect x="435" y="245.50" width="0.9" height="11.30" fill="rgb(128,128,128)"/>
<rect x="436" y="245.50" width="0.9" height="11.30" fill="rgb(212,212,212)"/>
<rect x="437" y="245.50" width="0.9" height="11.30" fill="rgb(181,181,181)"/>
<rect x="438" y="245.50" width="0.9" height="11.30" fill="rgb(215,215,215)"/>
<rect x="439" y="245.50" width="0.9" height="11.30" fill="rgb(152,152,152)"/>
<rect x="443" y="245.50" width="0.9" height="11.30" fill="rgb(154,154,154)"/>
<rect x="444" y="245.50" width="0.9" height="11.30" fill="rgb(215,215,215)"/>
<rect x="445" y="245.50" width="0.9" height="11.30" fill="rgb(155,155,155)"/>
<rect x="447" y="245.50" width="0.9" height="11.30" fill="rgb(203,203,203)"/>
<rect x="450" y="245.50" width="0.9" height="11.30" fill="rgb(210,210,210)"/>
<rect x="452" y="245.50" width="0.9" height="11.30" fill="rgb(79,79,79)"/>
<rect x="453" y="245.50" width="0.9" height="11.30" fill="rgb(69,69,69)"/>
<rect x="454" y="245.50" width="0.9" height="11.30" fill="rgb(128,128,128)"/>
<rect x="455" y="245.50" width="0.9" height="11.30" fill="rgb(80,80,80)"/>
<rect x="456" y="245.50" width="0.9" height="11.30" fill="rgb(72,72,72)"/>
<rect x="457" y="245.50" width="0.9" height="11.30" fill="rgb(126,126,126)"/>
<rect x="458" y="245.50" width="0.9" height="11.30" fill="rgb(99,99,99)"/>
<rect x="459" y="245.50" width="0.9" height="11.30" fill="rgb(49,49,49)"/>
<rect x="461" y="245.50" width="0.9" height="11.30" fill="rgb(132,132,132)"/>
<rect x="462" y="245.50" width="0.9" height="11.30" fill="rgb(97,97,97)"/>
<rect x="463" y="245.50" width="0.9" height="11.30" fill="rgb(39,39,39)"/>
<rect x="464" y="245.50" width="0.9" height="11.30" fill="rgb(64,64,64)"/>
<rect x="465" y="245.50" width="0.9" height="11.30" fill="rgb(39,39,39)"/>
<rect x="466" y="245.50" width="0.9" height="11.30" fill="rgb(60,60,60)"/>
<rect x="467" y="245.50" width="0.9" height="11.30" fill="rgb(62,62,62)"/>
<rect x="468" y="245.50" width="0.9" height="11.30" fill="rgb(122,122,122)"/>
<rect x="469" y="245.50" width="0.9" height="11.30" fill="rgb(56,56,56)"/>
<rect x="470" y="245.50" width="0.9" height="11.30" fill="rgb(21,21,21)"/>
<rect x="471" y="245.50" width="0.9" height="11.30" fill="rgb(55,55,55)"/>
<rect x="472" y="245.50" width="0.9" height="11.30" fill="rgb(157,157,157)"/>
<rect x="473" y="245.50" width="0.9" height="11.30" fill="rgb(87,87,87)"/>
<rect x="474" y="245.50" width="0.9" height="11.30" fill="rgb(75,75,75)"/>
<rect x="475" y="245.50" width="0.9" height="11.30" fill="rgb(133,133,133)"/>
<rect x="476" y="245.50" width="0.9" height="11.30" fill="rgb(65,65,65)"/>
<rect x="477" y="245.50" width="0.9" height="11.30" fill="rgb(75,75,75)"/>
<rect x="479" y="245.50" width="0.9" height="11.30" fill="rgb(74,74,74)"/>
<rect x="480" y="245.50" width="0.9" height="11.30" fill="rgb(103,103,103)"/>
<rect x="481" y="245.50" width="0.9" height="11.30" fill="rgb(115,115,115)"/>
<rect x="482" y="245.50" width="0.9" height="11.30" fill="rgb(71,71,71)"/>
<rect x="483" y="245.50" width="0.9" height="11.30" fill="rgb(138,138,138)"/>
<rect x="484" y="245.50" width="0.9" height="11.30" fill="rgb(83,83,83)"/>
<rect x="485" y="245.50" width="0.9" height="11.30" fill="rgb(126,126,126)"/>
<rect x="486" y="245.50" width="0.9" height="11.30" fill="rgb(54,54,54)"/>
<rect x="487" y="245.50" width="0.9" height="11.30" fill="rgb(138,138,138)"/>
<rect x="488" y="245.50" width="0.9" height="11.30" fill="rgb(95,95,95)"/>
<rect x="489" y="245.50" width="0.9" height="11.30" fill="rgb(20,20,20)"/>
<rect x="490" y="245.50" width="0.9" height="11.30" fill="rgb(140,140,140)"/>
<rect x="492" y="245.50" width="0.9" height="11.30" fill="rgb(25,25,25)"/>
<rect x="494" y="245.50" width="0.9" height="11.30" fill="rgb(85,85,85)"/>
<rect x="495" y="245.50" width="0.9" height="11.30" fill="rgb(122,122,122)"/>
<rect x="496" y="245.50" width="0.9" height="11.30" fill="rgb(83,83,83)"/>
<rect x="497" y="245.50" width="0.9" height="11.30" fill="rgb(89,89,89)"/>
<rect x="419.30" y="256.80" width="78.60" height="2.80" fill="url(#rb)"/>
<path d="M419.20,211.00C420.93,212.17 420.37,211.30 424.40,214.50C428.43,217.70 426.10,216.27 431.30,220.60C436.50,224.93 434.23,222.90 440.00,227.50C445.77,232.10 442.83,230.07 448.60,234.40C454.37,238.73 452.70,237.50 457.30,240.50C461.90,243.50 458.37,242.67 462.40,243.40C466.43,244.13 464.77,243.67 469.40,242.70C474.03,241.73 472.27,242.70 476.30,240.50C480.33,238.30 478.63,239.27 481.50,236.10C484.37,232.93 482.60,236.17 484.90,231.00C487.20,225.83 486.07,225.80 488.40,220.60C490.73,215.40 489.60,218.00 491.90,215.40C494.20,212.80 493.47,214.27 495.30,212.80C497.13,211.33 496.70,211.60 497.40,211.00" fill="none" stroke="#4cad4a" stroke-width="1.0" stroke-linejoin="round"/>
<rect x="418.80" y="208.80" width="79.60" height="51.20" fill="none" stroke="#111" stroke-width="1"/>
<line x1="415.40" y1="210.50" x2="418.80" y2="210.50" stroke="#111" stroke-width="0.9"/>
<text x="412.20" y="212.80" font-size="6.5" fill="#333" text-anchor="end">0.0</text>
<line x1="415.40" y1="217.80" x2="418.80" y2="217.80" stroke="#111" stroke-width="0.9"/>
<text x="412.20" y="220.10" font-size="6.5" fill="#333" text-anchor="end">−0.1</text>
<line x1="415.40" y1="225.10" x2="418.80" y2="225.10" stroke="#111" stroke-width="0.9"/>
<text x="412.20" y="227.40" font-size="6.5" fill="#333" text-anchor="end">−0.2</text>
<line x1="415.40" y1="232.40" x2="418.80" y2="232.40" stroke="#111" stroke-width="0.9"/>
<text x="412.20" y="234.70" font-size="6.5" fill="#333" text-anchor="end">−0.3</text>
<line x1="415.40" y1="239.70" x2="418.80" y2="239.70" stroke="#111" stroke-width="0.9"/>
<text x="412.20" y="242.00" font-size="6.5" fill="#333" text-anchor="end">−0.4</text>
<text x="458.60" y="205.20" font-size="6.5" fill="#333" text-anchor="middle">Cell Cycle Checkpoints</text>
<text x="420.90" y="231.00" font-size="6.9" fill="#333">NES:−2.250</text>
<text x="420.90" y="236.30" font-size="6.9" fill="#333"><tspan font-style="italic">P</tspan>-value:.000</text>
<text x="420.90" y="241.90" font-size="6.9" fill="#333">FDR:0.000</text>
<text x="392.60" y="234.90" font-size="7.9" fill="#222" text-anchor="middle" stroke="#222" stroke-width="0.28" textLength="62.00" lengthAdjust="spacingAndGlyphs" transform="rotate(-90 392.60 234.90)">Enrichment score (ES)</text>
<text x="418.80" y="268.50" font-size="6.9" fill="#333">MC5R<tspan font-size="3.8" dy="-2.7">−/−</tspan><tspan dy="2.7"> + IR</tspan></text>
<text x="499.40" y="268.50" font-size="6.6" fill="#333" text-anchor="end">WT + IR</text>
<line x1="52.80" y1="303.75" x2="133.10" y2="303.75" stroke="#dcdcdc" stroke-width="0.5"/>
<rect x="54" y="337.70" width="0.9" height="11.60" fill="rgb(131,131,131)"/>
<rect x="56" y="337.70" width="0.9" height="11.60" fill="rgb(223,223,223)"/>
<rect x="58" y="337.70" width="0.9" height="11.60" fill="rgb(213,213,213)"/>
<rect x="61" y="337.70" width="0.9" height="11.60" fill="rgb(197,197,197)"/>
<rect x="62" y="337.70" width="0.9" height="11.60" fill="rgb(210,210,210)"/>
<rect x="63" y="337.70" width="0.9" height="11.60" fill="rgb(221,221,221)"/>
<rect x="65" y="337.70" width="0.9" height="11.60" fill="rgb(166,166,166)"/>
<rect x="67" y="337.70" width="0.9" height="11.60" fill="rgb(157,157,157)"/>
<rect x="68" y="337.70" width="0.9" height="11.60" fill="rgb(236,236,236)"/>
<rect x="69" y="337.70" width="0.9" height="11.60" fill="rgb(155,155,155)"/>
<rect x="70" y="337.70" width="0.9" height="11.60" fill="rgb(242,242,242)"/>
<rect x="74" y="337.70" width="0.9" height="11.60" fill="rgb(171,171,171)"/>
<rect x="75" y="337.70" width="0.9" height="11.60" fill="rgb(150,150,150)"/>
<rect x="78" y="337.70" width="0.9" height="11.60" fill="rgb(182,182,182)"/>
<rect x="79" y="337.70" width="0.9" height="11.60" fill="rgb(183,183,183)"/>
<rect x="82" y="337.70" width="0.9" height="11.60" fill="rgb(179,179,179)"/>
<rect x="84" y="337.70" width="0.9" height="11.60" fill="rgb(134,134,134)"/>
<rect x="85" y="337.70" width="0.9" height="11.60" fill="rgb(196,196,196)"/>
<rect x="86" y="337.70" width="0.9" height="11.60" fill="rgb(242,242,242)"/>
<rect x="88" y="337.70" width="0.9" height="11.60" fill="rgb(204,204,204)"/>
<rect x="91" y="337.70" width="0.9" height="11.60" fill="rgb(160,160,160)"/>
<rect x="92" y="337.70" width="0.9" height="11.60" fill="rgb(182,182,182)"/>
<rect x="93" y="337.70" width="0.9" height="11.60" fill="rgb(242,242,242)"/>
<rect x="97" y="337.70" width="0.9" height="11.60" fill="rgb(236,236,236)"/>
<rect x="98" y="337.70" width="0.9" height="11.60" fill="rgb(130,130,130)"/>
<rect x="103" y="337.70" width="0.9" height="11.60" fill="rgb(162,162,162)"/>
<rect x="110" y="337.70" width="0.9" height="11.60" fill="rgb(30,30,30)"/>
<rect x="111" y="337.70" width="0.9" height="11.60" fill="rgb(123,123,123)"/>
<rect x="113" y="337.70" width="0.9" height="11.60" fill="rgb(44,44,44)"/>
<rect x="114" y="337.70" width="0.9" height="11.60" fill="rgb(97,97,97)"/>
<rect x="115" y="337.70" width="0.9" height="11.60" fill="rgb(55,55,55)"/>
<rect x="116" y="337.70" width="0.9" height="11.60" fill="rgb(20,20,20)"/>
<rect x="117" y="337.70" width="0.9" height="11.60" fill="rgb(107,107,107)"/>
<rect x="118" y="337.70" width="0.9" height="11.60" fill="rgb(62,62,62)"/>
<rect x="119" y="337.70" width="0.9" height="11.60" fill="rgb(82,82,82)"/>
<rect x="120" y="337.70" width="0.9" height="11.60" fill="rgb(20,20,20)"/>
<rect x="121" y="337.70" width="0.9" height="11.60" fill="rgb(73,73,73)"/>
<rect x="122" y="337.70" width="0.9" height="11.60" fill="rgb(98,98,98)"/>
<rect x="123" y="337.70" width="0.9" height="11.60" fill="rgb(81,81,81)"/>
<rect x="125" y="337.70" width="0.9" height="11.60" fill="rgb(78,78,78)"/>
<rect x="126" y="337.70" width="0.9" height="11.60" fill="rgb(116,116,116)"/>
<rect x="127" y="337.70" width="0.9" height="11.60" fill="rgb(81,81,81)"/>
<rect x="128" y="337.70" width="0.9" height="11.60" fill="rgb(20,20,20)"/>
<rect x="129" y="337.70" width="0.9" height="11.60" fill="rgb(71,71,71)"/>
<rect x="130" y="337.70" width="0.9" height="11.60" fill="rgb(72,72,72)"/>
<rect x="131" y="337.70" width="0.9" height="11.60" fill="rgb(73,73,73)"/>
<rect x="132" y="337.70" width="0.9" height="11.60" fill="rgb(91,91,91)"/>
<rect x="53.30" y="349.30" width="79.30" height="2.80" fill="url(#rb)"/>
<path d="M53.20,304.00C56.07,305.47 54.87,304.63 61.80,308.40C68.73,312.17 65.93,310.70 74.00,315.30C82.07,319.90 77.37,317.60 86.00,322.20C94.63,326.80 92.37,325.07 99.90,329.10C107.43,333.13 103.70,332.27 108.60,334.30C113.50,336.33 111.73,336.07 114.60,335.20C117.47,334.33 114.60,336.03 117.20,331.70C119.80,327.37 119.23,328.83 122.40,322.20C125.57,315.57 124.40,317.57 126.70,311.80C129.00,306.03 127.57,307.77 129.30,304.90C131.03,302.03 131.03,303.77 131.90,303.20" fill="none" stroke="#4cad4a" stroke-width="1.0" stroke-linejoin="round"/>
<rect x="52.80" y="301.00" width="80.30" height="51.50" fill="none" stroke="#111" stroke-width="1"/>
<line x1="49.40" y1="303.75" x2="52.80" y2="303.75" stroke="#111" stroke-width="0.9"/>
<text x="46.20" y="306.05" font-size="6.5" fill="#333" text-anchor="end">0.0</text>
<line x1="49.40" y1="309.37" x2="52.80" y2="309.37" stroke="#111" stroke-width="0.9"/>
<text x="46.20" y="311.67" font-size="6.5" fill="#333" text-anchor="end">−0.1</text>
<line x1="49.40" y1="314.99" x2="52.80" y2="314.99" stroke="#111" stroke-width="0.9"/>
<text x="46.20" y="317.29" font-size="6.5" fill="#333" text-anchor="end">−0.2</text>
<line x1="49.40" y1="320.61" x2="52.80" y2="320.61" stroke="#111" stroke-width="0.9"/>
<text x="46.20" y="322.91" font-size="6.5" fill="#333" text-anchor="end">−0.3</text>
<line x1="49.40" y1="326.23" x2="52.80" y2="326.23" stroke="#111" stroke-width="0.9"/>
<text x="46.20" y="328.53" font-size="6.5" fill="#333" text-anchor="end">−0.4</text>
<line x1="49.40" y1="331.85" x2="52.80" y2="331.85" stroke="#111" stroke-width="0.9"/>
<text x="46.20" y="334.15" font-size="6.5" fill="#333" text-anchor="end">−0.5</text>
<line x1="49.40" y1="337.47" x2="52.80" y2="337.47" stroke="#111" stroke-width="0.9"/>
<text x="46.20" y="339.77" font-size="6.5" fill="#333" text-anchor="end">−0.6</text>
<text x="92.95" y="297.40" font-size="6.5" fill="#333" text-anchor="middle">Oxidative Phosphorylation</text>
<text x="54.60" y="323.20" font-size="6.9" fill="#333">NES:−2.392</text>
<text x="54.60" y="328.50" font-size="6.9" fill="#333"><tspan font-style="italic">P</tspan>-value:.000</text>
<text x="54.60" y="334.10" font-size="6.9" fill="#333">FDR:0.000</text>
<text x="26.70" y="327.25" font-size="7.9" fill="#222" text-anchor="middle" stroke="#222" stroke-width="0.28" textLength="62.00" lengthAdjust="spacingAndGlyphs" transform="rotate(-90 26.70 327.25)">Enrichment score (ES)</text>
<text x="52.80" y="361.00" font-size="6.9" fill="#333">MC5R<tspan font-size="3.8" dy="-2.7">−/−</tspan><tspan dy="2.7"> + IR</tspan></text>
<text x="134.10" y="361.00" font-size="6.6" fill="#333" text-anchor="end">WT + IR</text>
<line x1="175.20" y1="310.00" x2="255.10" y2="310.00" stroke="#dcdcdc" stroke-width="0.5"/>
<rect x="176" y="337.70" width="0.9" height="11.60" fill="rgb(191,191,191)"/>
<rect x="177" y="337.70" width="0.9" height="11.60" fill="rgb(242,242,242)"/>
<rect x="179" y="337.70" width="0.9" height="11.60" fill="rgb(182,182,182)"/>
<rect x="180" y="337.70" width="0.9" height="11.60" fill="rgb(191,191,191)"/>
<rect x="182" y="337.70" width="0.9" height="11.60" fill="rgb(141,141,141)"/>
<rect x="185" y="337.70" width="0.9" height="11.60" fill="rgb(189,189,189)"/>
<rect x="186" y="337.70" width="0.9" height="11.60" fill="rgb(134,134,134)"/>
<rect x="188" y="337.70" width="0.9" height="11.60" fill="rgb(222,222,222)"/>
<rect x="190" y="337.70" width="0.9" height="11.60" fill="rgb(112,112,112)"/>
<rect x="191" y="337.70" width="0.9" height="11.60" fill="rgb(210,210,210)"/>
<rect x="194" y="337.70" width="0.9" height="11.60" fill="rgb(177,177,177)"/>
<rect x="195" y="337.70" width="0.9" height="11.60" fill="rgb(196,196,196)"/>
<rect x="196" y="337.70" width="0.9" height="11.60" fill="rgb(179,179,179)"/>
<rect x="197" y="337.70" width="0.9" height="11.60" fill="rgb(172,172,172)"/>
<rect x="198" y="337.70" width="0.9" height="11.60" fill="rgb(212,212,212)"/>
<rect x="199" y="337.70" width="0.9" height="11.60" fill="rgb(137,137,137)"/>
<rect x="200" y="337.70" width="0.9" height="11.60" fill="rgb(102,102,102)"/>
<rect x="202" y="337.70" width="0.9" height="11.60" fill="rgb(176,176,176)"/>
<rect x="203" y="337.70" width="0.9" height="11.60" fill="rgb(205,205,205)"/>
<rect x="205" y="337.70" width="0.9" height="11.60" fill="rgb(221,221,221)"/>
<rect x="206" y="337.70" width="0.9" height="11.60" fill="rgb(127,127,127)"/>
<rect x="207" y="337.70" width="0.9" height="11.60" fill="rgb(184,184,184)"/>
<rect x="208" y="337.70" width="0.9" height="11.60" fill="rgb(147,147,147)"/>
<rect x="209" y="337.70" width="0.9" height="11.60" fill="rgb(184,184,184)"/>
<rect x="211" y="337.70" width="0.9" height="11.60" fill="rgb(91,91,91)"/>
<rect x="212" y="337.70" width="0.9" height="11.60" fill="rgb(167,167,167)"/>
<rect x="213" y="337.70" width="0.9" height="11.60" fill="rgb(51,51,51)"/>
<rect x="214" y="337.70" width="0.9" height="11.60" fill="rgb(90,90,90)"/>
<rect x="216" y="337.70" width="0.9" height="11.60" fill="rgb(133,133,133)"/>
<rect x="217" y="337.70" width="0.9" height="11.60" fill="rgb(113,113,113)"/>
<rect x="221" y="337.70" width="0.9" height="11.60" fill="rgb(142,142,142)"/>
<rect x="222" y="337.70" width="0.9" height="11.60" fill="rgb(123,123,123)"/>
<rect x="223" y="337.70" width="0.9" height="11.60" fill="rgb(96,96,96)"/>
<rect x="224" y="337.70" width="0.9" height="11.60" fill="rgb(175,175,175)"/>
<rect x="225" y="337.70" width="0.9" height="11.60" fill="rgb(34,34,34)"/>
<rect x="226" y="337.70" width="0.9" height="11.60" fill="rgb(144,144,144)"/>
<rect x="231" y="337.70" width="0.9" height="11.60" fill="rgb(177,177,177)"/>
<rect x="232" y="337.70" width="0.9" height="11.60" fill="rgb(182,182,182)"/>
<rect x="233" y="337.70" width="0.9" height="11.60" fill="rgb(155,155,155)"/>
<rect x="234" y="337.70" width="0.9" height="11.60" fill="rgb(140,140,140)"/>
<rect x="235" y="337.70" width="0.9" height="11.60" fill="rgb(136,136,136)"/>
<rect x="237" y="337.70" width="0.9" height="11.60" fill="rgb(115,115,115)"/>
<rect x="238" y="337.70" width="0.9" height="11.60" fill="rgb(146,146,146)"/>
<rect x="239" y="337.70" width="0.9" height="11.60" fill="rgb(180,180,180)"/>
<rect x="240" y="337.70" width="0.9" height="11.60" fill="rgb(118,118,118)"/>
<rect x="242" y="337.70" width="0.9" height="11.60" fill="rgb(165,165,165)"/>
<rect x="243" y="337.70" width="0.9" height="11.60" fill="rgb(80,80,80)"/>
<rect x="244" y="337.70" width="0.9" height="11.60" fill="rgb(59,59,59)"/>
<rect x="245" y="337.70" width="0.9" height="11.60" fill="rgb(187,187,187)"/>
<rect x="246" y="337.70" width="0.9" height="11.60" fill="rgb(169,169,169)"/>
<rect x="247" y="337.70" width="0.9" height="11.60" fill="rgb(116,116,116)"/>
<rect x="248" y="337.70" width="0.9" height="11.60" fill="rgb(126,126,126)"/>
<rect x="251" y="337.70" width="0.9" height="11.60" fill="rgb(180,180,180)"/>
<rect x="252" y="337.70" width="0.9" height="11.60" fill="rgb(107,107,107)"/>
<rect x="253" y="337.70" width="0.9" height="11.60" fill="rgb(87,87,87)"/>
<rect x="175.70" y="349.30" width="78.90" height="2.80" fill="url(#rb)"/>
<path d="M176.00,311.00C176.90,310.13 177.23,310.13 178.70,308.40C180.17,306.67 179.27,306.37 180.40,305.80C181.53,305.23 180.97,307.47 182.10,306.70C183.23,305.93 182.37,304.10 183.80,303.50C185.23,302.90 183.50,303.27 186.40,304.90C189.30,306.53 188.17,306.10 192.50,308.40C196.83,310.70 194.23,308.93 199.40,311.80C204.57,314.67 202.23,312.93 208.00,317.00C213.77,321.07 210.90,319.37 216.70,324.00C222.50,328.63 220.20,327.17 225.40,330.90C230.60,334.63 227.70,334.33 232.30,335.20C236.90,336.07 235.17,335.53 239.20,333.50C243.23,331.47 241.50,332.27 244.40,329.10C247.30,325.93 246.17,328.03 247.90,324.00C249.63,319.97 248.17,320.77 249.60,317.00C251.03,313.23 250.77,314.70 252.20,312.70C253.63,310.70 253.33,311.57 253.90,311.00" fill="none" stroke="#4cad4a" stroke-width="1.0" stroke-linejoin="round"/>
<rect x="175.20" y="301.00" width="79.90" height="51.50" fill="none" stroke="#111" stroke-width="1"/>
<line x1="171.80" y1="302.50" x2="175.20" y2="302.50" stroke="#111" stroke-width="0.9"/>
<text x="168.60" y="304.80" font-size="6.5" fill="#333" text-anchor="end">0.1</text>
<line x1="171.80" y1="310.00" x2="175.20" y2="310.00" stroke="#111" stroke-width="0.9"/>
<text x="168.60" y="312.30" font-size="6.5" fill="#333" text-anchor="end">0.0</text>
<line x1="171.80" y1="317.50" x2="175.20" y2="317.50" stroke="#111" stroke-width="0.9"/>
<text x="168.60" y="319.80" font-size="6.5" fill="#333" text-anchor="end">−0.1</text>
<line x1="171.80" y1="325.00" x2="175.20" y2="325.00" stroke="#111" stroke-width="0.9"/>
<text x="168.60" y="327.30" font-size="6.5" fill="#333" text-anchor="end">−0.2</text>
<line x1="171.80" y1="332.50" x2="175.20" y2="332.50" stroke="#111" stroke-width="0.9"/>
<text x="168.60" y="334.80" font-size="6.5" fill="#333" text-anchor="end">−0.3</text>
<text x="215.15" y="297.40" font-size="6.5" fill="#333" text-anchor="middle">Carbon Metabolism</text>
<text x="177.30" y="323.20" font-size="6.9" fill="#333">NES:−1.436</text>
<text x="177.30" y="328.50" font-size="6.9" fill="#333"><tspan font-style="italic">P</tspan>-value:.006</text>
<text x="177.30" y="334.10" font-size="6.9" fill="#333">FDR:0.139</text>
<text x="149.00" y="327.25" font-size="7.9" fill="#222" text-anchor="middle" stroke="#222" stroke-width="0.28" textLength="62.00" lengthAdjust="spacingAndGlyphs" transform="rotate(-90 149.00 327.25)">Enrichment score (ES)</text>
<text x="175.20" y="361.00" font-size="6.9" fill="#333">MC5R<tspan font-size="3.8" dy="-2.7">−/−</tspan><tspan dy="2.7"> + IR</tspan></text>
<text x="256.10" y="361.00" font-size="6.6" fill="#333" text-anchor="end">WT + IR</text>
<line x1="298.20" y1="304.80" x2="378.10" y2="304.80" stroke="#dcdcdc" stroke-width="0.5"/>
<rect x="300" y="337.70" width="0.9" height="11.60" fill="rgb(161,161,161)"/>
<rect x="301" y="337.70" width="0.9" height="11.60" fill="rgb(163,163,163)"/>
<rect x="302" y="337.70" width="0.9" height="11.60" fill="rgb(213,213,213)"/>
<rect x="305" y="337.70" width="0.9" height="11.60" fill="rgb(222,222,222)"/>
<rect x="306" y="337.70" width="0.9" height="11.60" fill="rgb(169,169,169)"/>
<rect x="308" y="337.70" width="0.9" height="11.60" fill="rgb(207,207,207)"/>
<rect x="309" y="337.70" width="0.9" height="11.60" fill="rgb(220,220,220)"/>
<rect x="311" y="337.70" width="0.9" height="11.60" fill="rgb(234,234,234)"/>
<rect x="314" y="337.70" width="0.9" height="11.60" fill="rgb(183,183,183)"/>
<rect x="315" y="337.70" width="0.9" height="11.60" fill="rgb(242,242,242)"/>
<rect x="316" y="337.70" width="0.9" height="11.60" fill="rgb(242,242,242)"/>
<rect x="319" y="337.70" width="0.9" height="11.60" fill="rgb(167,167,167)"/>
<rect x="322" y="337.70" width="0.9" height="11.60" fill="rgb(179,179,179)"/>
<rect x="323" y="337.70" width="0.9" height="11.60" fill="rgb(170,170,170)"/>
<rect x="325" y="337.70" width="0.9" height="11.60" fill="rgb(233,233,233)"/>
<rect x="326" y="337.70" width="0.9" height="11.60" fill="rgb(241,241,241)"/>
<rect x="329" y="337.70" width="0.9" height="11.60" fill="rgb(216,216,216)"/>
<rect x="331" y="337.70" width="0.9" height="11.60" fill="rgb(186,186,186)"/>
<rect x="334" y="337.70" width="0.9" height="11.60" fill="rgb(167,167,167)"/>
<rect x="335" y="337.70" width="0.9" height="11.60" fill="rgb(168,168,168)"/>
<rect x="339" y="337.70" width="0.9" height="11.60" fill="rgb(207,207,207)"/>
<rect x="340" y="337.70" width="0.9" height="11.60" fill="rgb(212,212,212)"/>
<rect x="341" y="337.70" width="0.9" height="11.60" fill="rgb(160,160,160)"/>
<rect x="345" y="337.70" width="0.9" height="11.60" fill="rgb(129,129,129)"/>
<rect x="346" y="337.70" width="0.9" height="11.60" fill="rgb(211,211,211)"/>
<rect x="347" y="337.70" width="0.9" height="11.60" fill="rgb(189,189,189)"/>
<rect x="348" y="337.70" width="0.9" height="11.60" fill="rgb(200,200,200)"/>
<rect x="351" y="337.70" width="0.9" height="11.60" fill="rgb(163,163,163)"/>
<rect x="352" y="337.70" width="0.9" height="11.60" fill="rgb(207,207,207)"/>
<rect x="355" y="337.70" width="0.9" height="11.60" fill="rgb(202,202,202)"/>
<rect x="357" y="337.70" width="0.9" height="11.60" fill="rgb(231,231,231)"/>
<rect x="359" y="337.70" width="0.9" height="11.60" fill="rgb(160,160,160)"/>
<rect x="360" y="337.70" width="0.9" height="11.60" fill="rgb(137,137,137)"/>
<rect x="361" y="337.70" width="0.9" height="11.60" fill="rgb(156,156,156)"/>
<rect x="362" y="337.70" width="0.9" height="11.60" fill="rgb(157,157,157)"/>
<rect x="363" y="337.70" width="0.9" height="11.60" fill="rgb(144,144,144)"/>
<rect x="364" y="337.70" width="0.9" height="11.60" fill="rgb(230,230,230)"/>
<rect x="365" y="337.70" width="0.9" height="11.60" fill="rgb(144,144,144)"/>
<rect x="366" y="337.70" width="0.9" height="11.60" fill="rgb(127,127,127)"/>
<rect x="367" y="337.70" width="0.9" height="11.60" fill="rgb(188,188,188)"/>
<rect x="368" y="337.70" width="0.9" height="11.60" fill="rgb(216,216,216)"/>
<rect x="369" y="337.70" width="0.9" height="11.60" fill="rgb(219,219,219)"/>
<rect x="370" y="337.70" width="0.9" height="11.60" fill="rgb(143,143,143)"/>
<rect x="371" y="337.70" width="0.9" height="11.60" fill="rgb(165,165,165)"/>
<rect x="374" y="337.70" width="0.9" height="11.60" fill="rgb(141,141,141)"/>
<rect x="376" y="337.70" width="0.9" height="11.60" fill="rgb(173,173,173)"/>
<rect x="377" y="337.70" width="0.9" height="11.60" fill="rgb(123,123,123)"/>
<rect x="298.70" y="349.30" width="78.90" height="2.80" fill="url(#rb)"/>
<path d="M299.00,305.80C301.03,307.23 302.20,310.97 305.10,310.10C308.00,309.23 305.97,304.93 307.70,303.20C309.43,301.47 308.27,303.73 310.30,304.90C312.33,306.07 312.07,306.40 313.80,306.70C315.53,307.00 310.90,302.93 315.50,305.80C320.10,308.67 318.97,309.23 327.60,315.30C336.23,321.37 332.73,319.10 341.40,324.00C350.07,328.90 347.83,327.43 353.60,330.00C359.37,332.57 355.83,330.53 358.70,331.70C361.57,332.87 359.60,332.33 362.20,333.50C364.80,334.67 364.20,337.23 366.50,335.20C368.80,333.17 367.37,332.30 369.10,327.40C370.83,322.50 370.23,323.37 371.70,320.50C373.17,317.63 372.33,321.10 373.50,318.80C374.67,316.50 374.23,318.23 375.20,313.60C376.17,308.97 376.00,307.80 376.40,304.90" fill="none" stroke="#4cad4a" stroke-width="1.0" stroke-linejoin="round"/>
<rect x="298.20" y="301.00" width="79.90" height="51.50" fill="none" stroke="#111" stroke-width="1"/>
<line x1="294.80" y1="304.80" x2="298.20" y2="304.80" stroke="#111" stroke-width="0.9"/>
<text x="291.60" y="307.10" font-size="6.5" fill="#333" text-anchor="end">0.0</text>
<line x1="294.80" y1="310.75" x2="298.20" y2="310.75" stroke="#111" stroke-width="0.9"/>
<text x="291.60" y="313.05" font-size="6.5" fill="#333" text-anchor="end">−0.1</text>
<line x1="294.80" y1="316.70" x2="298.20" y2="316.70" stroke="#111" stroke-width="0.9"/>
<text x="291.60" y="319.00" font-size="6.5" fill="#333" text-anchor="end">−0.2</text>
<line x1="294.80" y1="322.65" x2="298.20" y2="322.65" stroke="#111" stroke-width="0.9"/>
<text x="291.60" y="324.95" font-size="6.5" fill="#333" text-anchor="end">−0.3</text>
<line x1="294.80" y1="328.60" x2="298.20" y2="328.60" stroke="#111" stroke-width="0.9"/>
<text x="291.60" y="330.90" font-size="6.5" fill="#333" text-anchor="end">−0.4</text>
<line x1="294.80" y1="334.55" x2="298.20" y2="334.55" stroke="#111" stroke-width="0.9"/>
<text x="291.60" y="336.85" font-size="6.5" fill="#333" text-anchor="end">−0.5</text>
<text x="338.15" y="297.40" font-size="6.5" fill="#333" text-anchor="middle">Galactose Metabolism</text>
<text x="299.60" y="323.20" font-size="6.9" fill="#333">NES:−1.663</text>
<text x="299.60" y="328.50" font-size="6.9" fill="#333"><tspan font-style="italic">P</tspan>-value:.016</text>
<text x="299.60" y="334.10" font-size="6.9" fill="#333">FDR:0.047</text>
<text x="272.00" y="327.25" font-size="7.9" fill="#222" text-anchor="middle" stroke="#222" stroke-width="0.28" textLength="62.00" lengthAdjust="spacingAndGlyphs" transform="rotate(-90 272.00 327.25)">Enrichment score (ES)</text>
<text x="298.20" y="361.00" font-size="6.9" fill="#333">MC5R<tspan font-size="3.8" dy="-2.7">−/−</tspan><tspan dy="2.7"> + IR</tspan></text>
<text x="379.10" y="361.00" font-size="6.6" fill="#333" text-anchor="end">WT + IR</text>
<line x1="418.80" y1="304.00" x2="498.40" y2="304.00" stroke="#dcdcdc" stroke-width="0.5"/>
<rect x="421" y="337.70" width="0.9" height="11.60" fill="rgb(180,180,180)"/>
<rect x="422" y="337.70" width="0.9" height="11.60" fill="rgb(174,174,174)"/>
<rect x="424" y="337.70" width="0.9" height="11.60" fill="rgb(199,199,199)"/>
<rect x="425" y="337.70" width="0.9" height="11.60" fill="rgb(157,157,157)"/>
<rect x="426" y="337.70" width="0.9" height="11.60" fill="rgb(174,174,174)"/>
<rect x="428" y="337.70" width="0.9" height="11.60" fill="rgb(218,218,218)"/>
<rect x="429" y="337.70" width="0.9" height="11.60" fill="rgb(180,180,180)"/>
<rect x="431" y="337.70" width="0.9" height="11.60" fill="rgb(171,171,171)"/>
<rect x="432" y="337.70" width="0.9" height="11.60" fill="rgb(141,141,141)"/>
<rect x="433" y="337.70" width="0.9" height="11.60" fill="rgb(150,150,150)"/>
<rect x="438" y="337.70" width="0.9" height="11.60" fill="rgb(202,202,202)"/>
<rect x="439" y="337.70" width="0.9" height="11.60" fill="rgb(186,186,186)"/>
<rect x="440" y="337.70" width="0.9" height="11.60" fill="rgb(159,159,159)"/>
<rect x="441" y="337.70" width="0.9" height="11.60" fill="rgb(242,242,242)"/>
<rect x="443" y="337.70" width="0.9" height="11.60" fill="rgb(152,152,152)"/>
<rect x="446" y="337.70" width="0.9" height="11.60" fill="rgb(167,167,167)"/>
<rect x="447" y="337.70" width="0.9" height="11.60" fill="rgb(156,156,156)"/>
<rect x="448" y="337.70" width="0.9" height="11.60" fill="rgb(152,152,152)"/>
<rect x="449" y="337.70" width="0.9" height="11.60" fill="rgb(167,167,167)"/>
<rect x="451" y="337.70" width="0.9" height="11.60" fill="rgb(174,174,174)"/>
<rect x="452" y="337.70" width="0.9" height="11.60" fill="rgb(91,91,91)"/>
<rect x="455" y="337.70" width="0.9" height="11.60" fill="rgb(65,65,65)"/>
<rect x="456" y="337.70" width="0.9" height="11.60" fill="rgb(189,189,189)"/>
<rect x="457" y="337.70" width="0.9" height="11.60" fill="rgb(106,106,106)"/>
<rect x="458" y="337.70" width="0.9" height="11.60" fill="rgb(144,144,144)"/>
<rect x="459" y="337.70" width="0.9" height="11.60" fill="rgb(84,84,84)"/>
<rect x="460" y="337.70" width="0.9" height="11.60" fill="rgb(82,82,82)"/>
<rect x="462" y="337.70" width="0.9" height="11.60" fill="rgb(135,135,135)"/>
<rect x="463" y="337.70" width="0.9" height="11.60" fill="rgb(130,130,130)"/>
<rect x="465" y="337.70" width="0.9" height="11.60" fill="rgb(124,124,124)"/>
<rect x="466" y="337.70" width="0.9" height="11.60" fill="rgb(112,112,112)"/>
<rect x="467" y="337.70" width="0.9" height="11.60" fill="rgb(160,160,160)"/>
<rect x="468" y="337.70" width="0.9" height="11.60" fill="rgb(55,55,55)"/>
<rect x="469" y="337.70" width="0.9" height="11.60" fill="rgb(161,161,161)"/>
<rect x="470" y="337.70" width="0.9" height="11.60" fill="rgb(166,166,166)"/>
<rect x="471" y="337.70" width="0.9" height="11.60" fill="rgb(191,191,191)"/>
<rect x="473" y="337.70" width="0.9" height="11.60" fill="rgb(136,136,136)"/>
<rect x="474" y="337.70" width="0.9" height="11.60" fill="rgb(199,199,199)"/>
<rect x="475" y="337.70" width="0.9" height="11.60" fill="rgb(172,172,172)"/>
<rect x="476" y="337.70" width="0.9" height="11.60" fill="rgb(125,125,125)"/>
<rect x="477" y="337.70" width="0.9" height="11.60" fill="rgb(122,122,122)"/>
<rect x="478" y="337.70" width="0.9" height="11.60" fill="rgb(169,169,169)"/>
<rect x="479" y="337.70" width="0.9" height="11.60" fill="rgb(162,162,162)"/>
<rect x="480" y="337.70" width="0.9" height="11.60" fill="rgb(94,94,94)"/>
<rect x="481" y="337.70" width="0.9" height="11.60" fill="rgb(163,163,163)"/>
<rect x="483" y="337.70" width="0.9" height="11.60" fill="rgb(106,106,106)"/>
<rect x="484" y="337.70" width="0.9" height="11.60" fill="rgb(103,103,103)"/>
<rect x="485" y="337.70" width="0.9" height="11.60" fill="rgb(107,107,107)"/>
<rect x="487" y="337.70" width="0.9" height="11.60" fill="rgb(114,114,114)"/>
<rect x="490" y="337.70" width="0.9" height="11.60" fill="rgb(86,86,86)"/>
<rect x="491" y="337.70" width="0.9" height="11.60" fill="rgb(120,120,120)"/>
<rect x="493" y="337.70" width="0.9" height="11.60" fill="rgb(177,177,177)"/>
<rect x="494" y="337.70" width="0.9" height="11.60" fill="rgb(120,120,120)"/>
<rect x="495" y="337.70" width="0.9" height="11.60" fill="rgb(148,148,148)"/>
<rect x="496" y="337.70" width="0.9" height="11.60" fill="rgb(119,119,119)"/>
<rect x="419.30" y="349.30" width="78.60" height="2.80" fill="url(#rb)"/>
<path d="M419.20,304.90C420.93,306.07 421.80,306.10 424.40,308.40C427.00,310.70 425.57,311.80 427.00,311.80C428.43,311.80 426.70,309.83 428.70,308.40C430.70,306.97 430.40,307.23 433.00,307.50C435.60,307.77 433.03,306.60 436.50,309.20C439.97,311.80 439.93,312.97 443.40,315.30C446.87,317.63 443.43,313.90 446.90,316.20C450.37,318.50 449.20,317.60 453.80,322.20C458.40,326.80 456.67,326.53 460.70,330.00C464.73,333.47 462.43,331.43 465.90,332.60C469.37,333.77 467.93,332.63 471.10,333.50C474.27,334.37 472.53,337.23 475.40,335.20C478.27,333.17 476.83,332.87 479.70,327.40C482.57,321.93 481.40,324.27 484.00,318.80C486.60,313.33 485.47,313.33 487.50,311.00C489.53,308.67 488.07,311.23 490.10,311.80C492.13,312.37 491.87,315.00 493.60,312.70C495.33,310.40 494.27,308.07 495.30,304.90C496.33,301.73 496.23,303.77 496.70,303.20" fill="none" stroke="#4cad4a" stroke-width="1.0" stroke-linejoin="round"/>
<rect x="418.80" y="301.00" width="79.60" height="51.50" fill="none" stroke="#111" stroke-width="1"/>
<line x1="415.40" y1="304.00" x2="418.80" y2="304.00" stroke="#111" stroke-width="0.9"/>
<text x="412.20" y="306.30" font-size="6.5" fill="#333" text-anchor="end">0.0</text>
<line x1="415.40" y1="312.70" x2="418.80" y2="312.70" stroke="#111" stroke-width="0.9"/>
<text x="412.20" y="315.00" font-size="6.5" fill="#333" text-anchor="end">−0.1</text>
<line x1="415.40" y1="321.40" x2="418.80" y2="321.40" stroke="#111" stroke-width="0.9"/>
<text x="412.20" y="323.70" font-size="6.5" fill="#333" text-anchor="end">−0.2</text>
<line x1="415.40" y1="330.10" x2="418.80" y2="330.10" stroke="#111" stroke-width="0.9"/>
<text x="412.20" y="332.40" font-size="6.5" fill="#333" text-anchor="end">−0.3</text>
<text x="458.60" y="297.40" font-size="6.5" fill="#333" text-anchor="middle">Pyrimidine Metabolism</text>
<text x="420.90" y="323.20" font-size="6.9" fill="#333">NES:−1.452</text>
<text x="420.90" y="328.50" font-size="6.9" fill="#333"><tspan font-style="italic">P</tspan>-value:.011</text>
<text x="420.90" y="334.10" font-size="6.9" fill="#333">FDR:0.129</text>
<text x="392.60" y="327.25" font-size="7.9" fill="#222" text-anchor="middle" stroke="#222" stroke-width="0.28" textLength="62.00" lengthAdjust="spacingAndGlyphs" transform="rotate(-90 392.60 327.25)">Enrichment score (ES)</text>
<text x="418.80" y="361.00" font-size="6.9" fill="#333">MC5R<tspan font-size="3.8" dy="-2.7">−/−</tspan><tspan dy="2.7"> + IR</tspan></text>
<text x="499.40" y="361.00" font-size="6.6" fill="#333" text-anchor="end">WT + IR</text>
<line x1="52.80" y1="402.00" x2="133.10" y2="402.00" stroke="#dcdcdc" stroke-width="0.5"/>
<rect x="56" y="436.00" width="0.9" height="11.30" fill="rgb(179,179,179)"/>
<rect x="57" y="436.00" width="0.9" height="11.30" fill="rgb(175,175,175)"/>
<rect x="59" y="436.00" width="0.9" height="11.30" fill="rgb(215,215,215)"/>
<rect x="61" y="436.00" width="0.9" height="11.30" fill="rgb(236,236,236)"/>
<rect x="62" y="436.00" width="0.9" height="11.30" fill="rgb(202,202,202)"/>
<rect x="70" y="436.00" width="0.9" height="11.30" fill="rgb(181,181,181)"/>
<rect x="71" y="436.00" width="0.9" height="11.30" fill="rgb(242,242,242)"/>
<rect x="74" y="436.00" width="0.9" height="11.30" fill="rgb(242,242,242)"/>
<rect x="75" y="436.00" width="0.9" height="11.30" fill="rgb(179,179,179)"/>
<rect x="76" y="436.00" width="0.9" height="11.30" fill="rgb(107,107,107)"/>
<rect x="77" y="436.00" width="0.9" height="11.30" fill="rgb(89,89,89)"/>
<rect x="79" y="436.00" width="0.9" height="11.30" fill="rgb(79,79,79)"/>
<rect x="80" y="436.00" width="0.9" height="11.30" fill="rgb(102,102,102)"/>
<rect x="82" y="436.00" width="0.9" height="11.30" fill="rgb(46,46,46)"/>
<rect x="83" y="436.00" width="0.9" height="11.30" fill="rgb(66,66,66)"/>
<rect x="84" y="436.00" width="0.9" height="11.30" fill="rgb(97,97,97)"/>
<rect x="85" y="436.00" width="0.9" height="11.30" fill="rgb(127,127,127)"/>
<rect x="86" y="436.00" width="0.9" height="11.30" fill="rgb(92,92,92)"/>
<rect x="87" y="436.00" width="0.9" height="11.30" fill="rgb(48,48,48)"/>
<rect x="88" y="436.00" width="0.9" height="11.30" fill="rgb(154,154,154)"/>
<rect x="89" y="436.00" width="0.9" height="11.30" fill="rgb(96,96,96)"/>
<rect x="90" y="436.00" width="0.9" height="11.30" fill="rgb(124,124,124)"/>
<rect x="91" y="436.00" width="0.9" height="11.30" fill="rgb(132,132,132)"/>
<rect x="92" y="436.00" width="0.9" height="11.30" fill="rgb(149,149,149)"/>
<rect x="94" y="436.00" width="0.9" height="11.30" fill="rgb(95,95,95)"/>
<rect x="95" y="436.00" width="0.9" height="11.30" fill="rgb(109,109,109)"/>
<rect x="96" y="436.00" width="0.9" height="11.30" fill="rgb(46,46,46)"/>
<rect x="97" y="436.00" width="0.9" height="11.30" fill="rgb(121,121,121)"/>
<rect x="98" y="436.00" width="0.9" height="11.30" fill="rgb(132,132,132)"/>
<rect x="100" y="436.00" width="0.9" height="11.30" fill="rgb(87,87,87)"/>
<rect x="102" y="436.00" width="0.9" height="11.30" fill="rgb(105,105,105)"/>
<rect x="103" y="436.00" width="0.9" height="11.30" fill="rgb(158,158,158)"/>
<rect x="104" y="436.00" width="0.9" height="11.30" fill="rgb(48,48,48)"/>
<rect x="105" y="436.00" width="0.9" height="11.30" fill="rgb(78,78,78)"/>
<rect x="106" y="436.00" width="0.9" height="11.30" fill="rgb(117,117,117)"/>
<rect x="107" y="436.00" width="0.9" height="11.30" fill="rgb(146,146,146)"/>
<rect x="108" y="436.00" width="0.9" height="11.30" fill="rgb(102,102,102)"/>
<rect x="109" y="436.00" width="0.9" height="11.30" fill="rgb(112,112,112)"/>
<rect x="110" y="436.00" width="0.9" height="11.30" fill="rgb(91,91,91)"/>
<rect x="111" y="436.00" width="0.9" height="11.30" fill="rgb(99,99,99)"/>
<rect x="112" y="436.00" width="0.9" height="11.30" fill="rgb(92,92,92)"/>
<rect x="113" y="436.00" width="0.9" height="11.30" fill="rgb(39,39,39)"/>
<rect x="115" y="436.00" width="0.9" height="11.30" fill="rgb(35,35,35)"/>
<rect x="116" y="436.00" width="0.9" height="11.30" fill="rgb(106,106,106)"/>
<rect x="118" y="436.00" width="0.9" height="11.30" fill="rgb(78,78,78)"/>
<rect x="119" y="436.00" width="0.9" height="11.30" fill="rgb(87,87,87)"/>
<rect x="120" y="436.00" width="0.9" height="11.30" fill="rgb(118,118,118)"/>
<rect x="122" y="436.00" width="0.9" height="11.30" fill="rgb(102,102,102)"/>
<rect x="123" y="436.00" width="0.9" height="11.30" fill="rgb(96,96,96)"/>
<rect x="124" y="436.00" width="0.9" height="11.30" fill="rgb(29,29,29)"/>
<rect x="125" y="436.00" width="0.9" height="11.30" fill="rgb(71,71,71)"/>
<rect x="127" y="436.00" width="0.9" height="11.30" fill="rgb(120,120,120)"/>
<rect x="128" y="436.00" width="0.9" height="11.30" fill="rgb(109,109,109)"/>
<rect x="129" y="436.00" width="0.9" height="11.30" fill="rgb(56,56,56)"/>
<rect x="130" y="436.00" width="0.9" height="11.30" fill="rgb(73,73,73)"/>
<rect x="131" y="436.00" width="0.9" height="11.30" fill="rgb(154,154,154)"/>
<rect x="132" y="436.00" width="0.9" height="11.30" fill="rgb(58,58,58)"/>
<rect x="53.30" y="447.30" width="79.30" height="2.80" fill="url(#rb)"/>
<path d="M53.50,402.00C55.13,403.17 55.03,402.90 58.40,405.50C61.77,408.10 59.57,407.20 63.60,409.80C67.63,412.40 65.33,410.70 70.50,413.30C75.67,415.90 73.33,414.13 79.10,417.60C84.87,421.07 82.03,419.67 87.80,423.70C93.57,427.73 90.63,426.53 96.40,429.70C102.17,432.87 99.90,432.60 105.10,433.20C110.30,433.80 107.97,434.10 112.00,431.50C116.03,428.90 113.73,430.30 117.20,425.40C120.67,420.50 119.50,422.57 122.40,416.80C125.30,411.03 123.90,413.03 125.90,408.10C127.90,403.17 126.70,404.03 128.40,402.00C130.10,399.97 129.67,401.40 131.00,402.00C132.33,402.60 131.93,403.20 132.40,403.80" fill="none" stroke="#4cad4a" stroke-width="1.0" stroke-linejoin="round"/>
<rect x="52.80" y="399.30" width="80.30" height="51.20" fill="none" stroke="#111" stroke-width="1"/>
<line x1="49.40" y1="402.00" x2="52.80" y2="402.00" stroke="#111" stroke-width="0.9"/>
<text x="46.20" y="404.30" font-size="6.5" fill="#333" text-anchor="end">0.0</text>
<line x1="49.40" y1="408.90" x2="52.80" y2="408.90" stroke="#111" stroke-width="0.9"/>
<text x="46.20" y="411.20" font-size="6.5" fill="#333" text-anchor="end">−0.1</text>
<line x1="49.40" y1="415.80" x2="52.80" y2="415.80" stroke="#111" stroke-width="0.9"/>
<text x="46.20" y="418.10" font-size="6.5" fill="#333" text-anchor="end">−0.2</text>
<line x1="49.40" y1="422.70" x2="52.80" y2="422.70" stroke="#111" stroke-width="0.9"/>
<text x="46.20" y="425.00" font-size="6.5" fill="#333" text-anchor="end">−0.3</text>
<line x1="49.40" y1="429.60" x2="52.80" y2="429.60" stroke="#111" stroke-width="0.9"/>
<text x="46.20" y="431.90" font-size="6.5" fill="#333" text-anchor="end">−0.4</text>
<text x="92.95" y="395.70" font-size="6.5" fill="#333" text-anchor="middle">Ribosome</text>
<text x="54.60" y="421.50" font-size="6.9" fill="#333">NES:−2.040</text>
<text x="54.60" y="426.80" font-size="6.9" fill="#333"><tspan font-style="italic">P</tspan>-value:.000</text>
<text x="54.60" y="432.40" font-size="6.9" fill="#333">FDR:0.073</text>
<text x="27.20" y="425.40" font-size="7.9" fill="#222" text-anchor="middle" stroke="#222" stroke-width="0.28" textLength="62.00" lengthAdjust="spacingAndGlyphs" transform="rotate(-90 27.20 425.40)">Enrichment score (ES)</text>
<text x="52.80" y="459.00" font-size="6.9" fill="#333">MC5R<tspan font-size="3.8" dy="-2.7">−/−</tspan><tspan dy="2.7"> + IR</tspan></text>
<text x="134.10" y="459.00" font-size="6.6" fill="#333" text-anchor="end">WT + IR</text>
<line x1="175.20" y1="403.00" x2="255.10" y2="403.00" stroke="#dcdcdc" stroke-width="0.5"/>
<rect x="177" y="436.00" width="0.9" height="11.30" fill="rgb(148,148,148)"/>
<rect x="178" y="436.00" width="0.9" height="11.30" fill="rgb(242,242,242)"/>
<rect x="180" y="436.00" width="0.9" height="11.30" fill="rgb(195,195,195)"/>
<rect x="182" y="436.00" width="0.9" height="11.30" fill="rgb(242,242,242)"/>
<rect x="183" y="436.00" width="0.9" height="11.30" fill="rgb(227,227,227)"/>
<rect x="184" y="436.00" width="0.9" height="11.30" fill="rgb(166,166,166)"/>
<rect x="187" y="436.00" width="0.9" height="11.30" fill="rgb(211,211,211)"/>
<rect x="192" y="436.00" width="0.9" height="11.30" fill="rgb(172,172,172)"/>
<rect x="193" y="436.00" width="0.9" height="11.30" fill="rgb(188,188,188)"/>
<rect x="199" y="436.00" width="0.9" height="11.30" fill="rgb(206,206,206)"/>
<rect x="200" y="436.00" width="0.9" height="11.30" fill="rgb(112,112,112)"/>
<rect x="201" y="436.00" width="0.9" height="11.30" fill="rgb(94,94,94)"/>
<rect x="203" y="436.00" width="0.9" height="11.30" fill="rgb(53,53,53)"/>
<rect x="204" y="436.00" width="0.9" height="11.30" fill="rgb(76,76,76)"/>
<rect x="205" y="436.00" width="0.9" height="11.30" fill="rgb(92,92,92)"/>
<rect x="206" y="436.00" width="0.9" height="11.30" fill="rgb(90,90,90)"/>
<rect x="207" y="436.00" width="0.9" height="11.30" fill="rgb(47,47,47)"/>
<rect x="208" y="436.00" width="0.9" height="11.30" fill="rgb(95,95,95)"/>
<rect x="209" y="436.00" width="0.9" height="11.30" fill="rgb(103,103,103)"/>
<rect x="210" y="436.00" width="0.9" height="11.30" fill="rgb(114,114,114)"/>
<rect x="211" y="436.00" width="0.9" height="11.30" fill="rgb(110,110,110)"/>
<rect x="212" y="436.00" width="0.9" height="11.30" fill="rgb(26,26,26)"/>
<rect x="213" y="436.00" width="0.9" height="11.30" fill="rgb(111,111,111)"/>
<rect x="214" y="436.00" width="0.9" height="11.30" fill="rgb(26,26,26)"/>
<rect x="215" y="436.00" width="0.9" height="11.30" fill="rgb(103,103,103)"/>
<rect x="216" y="436.00" width="0.9" height="11.30" fill="rgb(64,64,64)"/>
<rect x="217" y="436.00" width="0.9" height="11.30" fill="rgb(65,65,65)"/>
<rect x="218" y="436.00" width="0.9" height="11.30" fill="rgb(113,113,113)"/>
<rect x="220" y="436.00" width="0.9" height="11.30" fill="rgb(20,20,20)"/>
<rect x="221" y="436.00" width="0.9" height="11.30" fill="rgb(95,95,95)"/>
<rect x="223" y="436.00" width="0.9" height="11.30" fill="rgb(94,94,94)"/>
<rect x="224" y="436.00" width="0.9" height="11.30" fill="rgb(79,79,79)"/>
<rect x="226" y="436.00" width="0.9" height="11.30" fill="rgb(20,20,20)"/>
<rect x="227" y="436.00" width="0.9" height="11.30" fill="rgb(58,58,58)"/>
<rect x="228" y="436.00" width="0.9" height="11.30" fill="rgb(105,105,105)"/>
<rect x="229" y="436.00" width="0.9" height="11.30" fill="rgb(119,119,119)"/>
<rect x="230" y="436.00" width="0.9" height="11.30" fill="rgb(89,89,89)"/>
<rect x="231" y="436.00" width="0.9" height="11.30" fill="rgb(115,115,115)"/>
<rect x="233" y="436.00" width="0.9" height="11.30" fill="rgb(90,90,90)"/>
<rect x="234" y="436.00" width="0.9" height="11.30" fill="rgb(153,153,153)"/>
<rect x="235" y="436.00" width="0.9" height="11.30" fill="rgb(94,94,94)"/>
<rect x="236" y="436.00" width="0.9" height="11.30" fill="rgb(89,89,89)"/>
<rect x="237" y="436.00" width="0.9" height="11.30" fill="rgb(103,103,103)"/>
<rect x="240" y="436.00" width="0.9" height="11.30" fill="rgb(52,52,52)"/>
<rect x="241" y="436.00" width="0.9" height="11.30" fill="rgb(118,118,118)"/>
<rect x="242" y="436.00" width="0.9" height="11.30" fill="rgb(130,130,130)"/>
<rect x="243" y="436.00" width="0.9" height="11.30" fill="rgb(85,85,85)"/>
<rect x="244" y="436.00" width="0.9" height="11.30" fill="rgb(31,31,31)"/>
<rect x="246" y="436.00" width="0.9" height="11.30" fill="rgb(35,35,35)"/>
<rect x="247" y="436.00" width="0.9" height="11.30" fill="rgb(64,64,64)"/>
<rect x="250" y="436.00" width="0.9" height="11.30" fill="rgb(125,125,125)"/>
<rect x="251" y="436.00" width="0.9" height="11.30" fill="rgb(145,145,145)"/>
<rect x="252" y="436.00" width="0.9" height="11.30" fill="rgb(85,85,85)"/>
<rect x="254" y="436.00" width="0.9" height="11.30" fill="rgb(106,106,106)"/>
<rect x="175.70" y="447.30" width="78.90" height="2.80" fill="url(#rb)"/>
<path d="M176.00,402.00C178.03,403.47 177.17,403.20 182.10,406.40C187.03,409.60 185.60,408.73 190.80,411.60C196.00,414.47 191.97,412.13 197.70,415.00C203.43,417.87 201.10,416.17 208.00,420.20C214.90,424.23 211.47,422.93 218.40,427.10C225.33,431.27 223.30,431.23 228.80,432.70C234.30,434.17 231.43,433.63 234.90,431.50C238.37,429.37 236.60,429.20 239.20,426.30C241.80,423.40 240.40,426.57 242.70,422.80C245.00,419.03 244.10,420.47 246.10,415.00C248.10,409.53 247.27,411.00 248.70,406.40C250.13,401.80 248.67,402.37 250.40,401.20C252.13,400.03 252.73,402.33 253.90,402.90" fill="none" stroke="#4cad4a" stroke-width="1.0" stroke-linejoin="round"/>
<rect x="175.20" y="399.30" width="79.90" height="51.20" fill="none" stroke="#111" stroke-width="1"/>
<line x1="171.80" y1="403.00" x2="175.20" y2="403.00" stroke="#111" stroke-width="0.9"/>
<text x="168.60" y="405.30" font-size="6.5" fill="#333" text-anchor="end">0.0</text>
<line x1="171.80" y1="410.05" x2="175.20" y2="410.05" stroke="#111" stroke-width="0.9"/>
<text x="168.60" y="412.35" font-size="6.5" fill="#333" text-anchor="end">−0.1</text>
<line x1="171.80" y1="417.10" x2="175.20" y2="417.10" stroke="#111" stroke-width="0.9"/>
<text x="168.60" y="419.40" font-size="6.5" fill="#333" text-anchor="end">−0.2</text>
<line x1="171.80" y1="424.15" x2="175.20" y2="424.15" stroke="#111" stroke-width="0.9"/>
<text x="168.60" y="426.45" font-size="6.5" fill="#333" text-anchor="end">−0.3</text>
<line x1="171.80" y1="431.20" x2="175.20" y2="431.20" stroke="#111" stroke-width="0.9"/>
<text x="168.60" y="433.50" font-size="6.5" fill="#333" text-anchor="end">−0.4</text>
<text x="215.15" y="395.70" font-size="6.5" fill="#333" text-anchor="middle">Translation</text>
<text x="177.30" y="421.50" font-size="6.9" fill="#333">NES:−1.945</text>
<text x="177.30" y="426.80" font-size="6.9" fill="#333"><tspan font-style="italic">P</tspan>-value:.000</text>
<text x="177.30" y="432.40" font-size="6.9" fill="#333">FDR:0.034</text>
<text x="149.00" y="425.40" font-size="7.9" fill="#222" text-anchor="middle" stroke="#222" stroke-width="0.28" textLength="62.00" lengthAdjust="spacingAndGlyphs" transform="rotate(-90 149.00 425.40)">Enrichment score (ES)</text>
<text x="175.20" y="459.00" font-size="6.9" fill="#333">MC5R<tspan font-size="3.8" dy="-2.7">−/−</tspan><tspan dy="2.7"> + IR</tspan></text>
<text x="256.10" y="459.00" font-size="6.6" fill="#333" text-anchor="end">WT + IR</text>
<line x1="298.20" y1="401.70" x2="378.10" y2="401.70" stroke="#dcdcdc" stroke-width="0.5"/>
<rect x="299" y="436.00" width="0.9" height="11.30" fill="rgb(127,127,127)"/>
<rect x="300" y="436.00" width="0.9" height="11.30" fill="rgb(135,135,135)"/>
<rect x="301" y="436.00" width="0.9" height="11.30" fill="rgb(154,154,154)"/>
<rect x="302" y="436.00" width="0.9" height="11.30" fill="rgb(113,113,113)"/>
<rect x="303" y="436.00" width="0.9" height="11.30" fill="rgb(138,138,138)"/>
<rect x="304" y="436.00" width="0.9" height="11.30" fill="rgb(143,143,143)"/>
<rect x="305" y="436.00" width="0.9" height="11.30" fill="rgb(120,120,120)"/>
<rect x="306" y="436.00" width="0.9" height="11.30" fill="rgb(140,140,140)"/>
<rect x="309" y="436.00" width="0.9" height="11.30" fill="rgb(118,118,118)"/>
<rect x="310" y="436.00" width="0.9" height="11.30" fill="rgb(158,158,158)"/>
<rect x="311" y="436.00" width="0.9" height="11.30" fill="rgb(138,138,138)"/>
<rect x="312" y="436.00" width="0.9" height="11.30" fill="rgb(156,156,156)"/>
<rect x="313" y="436.00" width="0.9" height="11.30" fill="rgb(135,135,135)"/>
<rect x="314" y="436.00" width="0.9" height="11.30" fill="rgb(231,231,231)"/>
<rect x="315" y="436.00" width="0.9" height="11.30" fill="rgb(174,174,174)"/>
<rect x="316" y="436.00" width="0.9" height="11.30" fill="rgb(125,125,125)"/>
<rect x="317" y="436.00" width="0.9" height="11.30" fill="rgb(123,123,123)"/>
<rect x="318" y="436.00" width="0.9" height="11.30" fill="rgb(178,178,178)"/>
<rect x="319" y="436.00" width="0.9" height="11.30" fill="rgb(220,220,220)"/>
<rect x="320" y="436.00" width="0.9" height="11.30" fill="rgb(157,157,157)"/>
<rect x="322" y="436.00" width="0.9" height="11.30" fill="rgb(166,166,166)"/>
<rect x="323" y="436.00" width="0.9" height="11.30" fill="rgb(202,202,202)"/>
<rect x="324" y="436.00" width="0.9" height="11.30" fill="rgb(120,120,120)"/>
<rect x="325" y="436.00" width="0.9" height="11.30" fill="rgb(155,155,155)"/>
<rect x="326" y="436.00" width="0.9" height="11.30" fill="rgb(199,199,199)"/>
<rect x="327" y="436.00" width="0.9" height="11.30" fill="rgb(167,167,167)"/>
<rect x="328" y="436.00" width="0.9" height="11.30" fill="rgb(166,166,166)"/>
<rect x="329" y="436.00" width="0.9" height="11.30" fill="rgb(66,66,66)"/>
<rect x="330" y="436.00" width="0.9" height="11.30" fill="rgb(150,150,150)"/>
<rect x="331" y="436.00" width="0.9" height="11.30" fill="rgb(76,76,76)"/>
<rect x="332" y="436.00" width="0.9" height="11.30" fill="rgb(78,78,78)"/>
<rect x="333" y="436.00" width="0.9" height="11.30" fill="rgb(98,98,98)"/>
<rect x="334" y="436.00" width="0.9" height="11.30" fill="rgb(109,109,109)"/>
<rect x="337" y="436.00" width="0.9" height="11.30" fill="rgb(78,78,78)"/>
<rect x="338" y="436.00" width="0.9" height="11.30" fill="rgb(102,102,102)"/>
<rect x="339" y="436.00" width="0.9" height="11.30" fill="rgb(68,68,68)"/>
<rect x="341" y="436.00" width="0.9" height="11.30" fill="rgb(132,132,132)"/>
<rect x="342" y="436.00" width="0.9" height="11.30" fill="rgb(74,74,74)"/>
<rect x="343" y="436.00" width="0.9" height="11.30" fill="rgb(89,89,89)"/>
<rect x="345" y="436.00" width="0.9" height="11.30" fill="rgb(87,87,87)"/>
<rect x="346" y="436.00" width="0.9" height="11.30" fill="rgb(86,86,86)"/>
<rect x="347" y="436.00" width="0.9" height="11.30" fill="rgb(101,101,101)"/>
<rect x="348" y="436.00" width="0.9" height="11.30" fill="rgb(130,130,130)"/>
<rect x="349" y="436.00" width="0.9" height="11.30" fill="rgb(148,148,148)"/>
<rect x="350" y="436.00" width="0.9" height="11.30" fill="rgb(148,148,148)"/>
<rect x="351" y="436.00" width="0.9" height="11.30" fill="rgb(23,23,23)"/>
<rect x="353" y="436.00" width="0.9" height="11.30" fill="rgb(66,66,66)"/>
<rect x="354" y="436.00" width="0.9" height="11.30" fill="rgb(39,39,39)"/>
<rect x="355" y="436.00" width="0.9" height="11.30" fill="rgb(97,97,97)"/>
<rect x="356" y="436.00" width="0.9" height="11.30" fill="rgb(127,127,127)"/>
<rect x="358" y="436.00" width="0.9" height="11.30" fill="rgb(115,115,115)"/>
<rect x="360" y="436.00" width="0.9" height="11.30" fill="rgb(101,101,101)"/>
<rect x="361" y="436.00" width="0.9" height="11.30" fill="rgb(134,134,134)"/>
<rect x="362" y="436.00" width="0.9" height="11.30" fill="rgb(31,31,31)"/>
<rect x="363" y="436.00" width="0.9" height="11.30" fill="rgb(58,58,58)"/>
<rect x="364" y="436.00" width="0.9" height="11.30" fill="rgb(106,106,106)"/>
<rect x="365" y="436.00" width="0.9" height="11.30" fill="rgb(122,122,122)"/>
<rect x="366" y="436.00" width="0.9" height="11.30" fill="rgb(90,90,90)"/>
<rect x="367" y="436.00" width="0.9" height="11.30" fill="rgb(119,119,119)"/>
<rect x="368" y="436.00" width="0.9" height="11.30" fill="rgb(107,107,107)"/>
<rect x="369" y="436.00" width="0.9" height="11.30" fill="rgb(109,109,109)"/>
<rect x="370" y="436.00" width="0.9" height="11.30" fill="rgb(107,107,107)"/>
<rect x="371" y="436.00" width="0.9" height="11.30" fill="rgb(115,115,115)"/>
<rect x="372" y="436.00" width="0.9" height="11.30" fill="rgb(136,136,136)"/>
<rect x="375" y="436.00" width="0.9" height="11.30" fill="rgb(65,65,65)"/>
<rect x="376" y="436.00" width="0.9" height="11.30" fill="rgb(64,64,64)"/>
<rect x="377" y="436.00" width="0.9" height="11.30" fill="rgb(61,61,61)"/>
<rect x="298.70" y="447.30" width="78.90" height="2.80" fill="url(#rb)"/>
<path d="M299.00,402.00C300.47,402.30 301.37,402.90 303.40,402.90C305.43,402.90 302.80,401.70 305.10,402.00C307.40,402.30 305.67,402.07 310.30,403.80C314.93,405.53 313.23,404.03 319.00,407.20C324.77,410.37 321.83,408.37 327.60,413.30C333.37,418.23 330.53,417.40 336.30,422.00C342.07,426.60 339.13,424.53 344.90,427.10C350.67,429.67 348.40,428.23 353.60,429.70C358.80,431.17 357.17,430.33 360.50,431.50C363.83,432.67 361.87,433.20 363.60,433.20C365.33,433.20 363.87,434.67 365.70,431.50C367.53,428.33 366.80,428.60 369.10,423.70C371.40,418.80 370.87,420.83 372.60,416.80C374.33,412.77 373.27,413.07 374.30,411.60C375.33,410.13 375.00,415.30 375.70,412.40C376.40,409.50 376.10,406.87 376.40,402.90C376.70,398.93 376.53,401.30 376.60,400.50" fill="none" stroke="#4cad4a" stroke-width="1.0" stroke-linejoin="round"/>
<rect x="298.20" y="399.30" width="79.90" height="51.20" fill="none" stroke="#111" stroke-width="1"/>
<line x1="294.80" y1="401.70" x2="298.20" y2="401.70" stroke="#111" stroke-width="0.9"/>
<text x="291.60" y="404.00" font-size="6.5" fill="#333" text-anchor="end">0.0</text>
<line x1="294.80" y1="408.90" x2="298.20" y2="408.90" stroke="#111" stroke-width="0.9"/>
<text x="291.60" y="411.20" font-size="6.5" fill="#333" text-anchor="end">−0.1</text>
<line x1="294.80" y1="416.10" x2="298.20" y2="416.10" stroke="#111" stroke-width="0.9"/>
<text x="291.60" y="418.40" font-size="6.5" fill="#333" text-anchor="end">−0.2</text>
<line x1="294.80" y1="423.30" x2="298.20" y2="423.30" stroke="#111" stroke-width="0.9"/>
<text x="291.60" y="425.60" font-size="6.5" fill="#333" text-anchor="end">−0.3</text>
<line x1="294.80" y1="430.50" x2="298.20" y2="430.50" stroke="#111" stroke-width="0.9"/>
<text x="291.60" y="432.80" font-size="6.5" fill="#333" text-anchor="end">−0.4</text>
<text x="338.15" y="387.00" font-size="6.5" fill="#333" text-anchor="middle">Protein Processing</text>
<text x="338.15" y="395.10" font-size="6.5" fill="#333" text-anchor="middle">in Endoplasmic Reticulum</text>
<text x="299.60" y="421.50" font-size="6.9" fill="#333">NES:−1.919</text>
<text x="299.60" y="426.80" font-size="6.9" fill="#333"><tspan font-style="italic">P</tspan>-value:.000</text>
<text x="299.60" y="432.40" font-size="6.9" fill="#333">FDR:0.008</text>
<text x="272.00" y="425.40" font-size="7.9" fill="#222" text-anchor="middle" stroke="#222" stroke-width="0.28" textLength="62.00" lengthAdjust="spacingAndGlyphs" transform="rotate(-90 272.00 425.40)">Enrichment score (ES)</text>
<text x="298.20" y="459.00" font-size="6.9" fill="#333">MC5R<tspan font-size="3.8" dy="-2.7">−/−</tspan><tspan dy="2.7"> + IR</tspan></text>
<text x="379.10" y="459.00" font-size="6.6" fill="#333" text-anchor="end">WT + IR</text>
<line x1="418.80" y1="405.95" x2="498.40" y2="405.95" stroke="#dcdcdc" stroke-width="0.5"/>
<rect x="424" y="436.00" width="0.9" height="11.30" fill="rgb(242,242,242)"/>
<rect x="426" y="436.00" width="0.9" height="11.30" fill="rgb(242,242,242)"/>
<rect x="438" y="436.00" width="0.9" height="11.30" fill="rgb(242,242,242)"/>
<rect x="441" y="436.00" width="0.9" height="11.30" fill="rgb(242,242,242)"/>
<rect x="444" y="436.00" width="0.9" height="11.30" fill="rgb(242,242,242)"/>
<rect x="449" y="436.00" width="0.9" height="11.30" fill="rgb(242,242,242)"/>
<rect x="453" y="436.00" width="0.9" height="11.30" fill="rgb(151,151,151)"/>
<rect x="454" y="436.00" width="0.9" height="11.30" fill="rgb(125,125,125)"/>
<rect x="455" y="436.00" width="0.9" height="11.30" fill="rgb(119,119,119)"/>
<rect x="458" y="436.00" width="0.9" height="11.30" fill="rgb(176,176,176)"/>
<rect x="460" y="436.00" width="0.9" height="11.30" fill="rgb(215,215,215)"/>
<rect x="465" y="436.00" width="0.9" height="11.30" fill="rgb(145,145,145)"/>
<rect x="466" y="436.00" width="0.9" height="11.30" fill="rgb(160,160,160)"/>
<rect x="468" y="436.00" width="0.9" height="11.30" fill="rgb(191,191,191)"/>
<rect x="472" y="436.00" width="0.9" height="11.30" fill="rgb(159,159,159)"/>
<rect x="473" y="436.00" width="0.9" height="11.30" fill="rgb(96,96,96)"/>
<rect x="474" y="436.00" width="0.9" height="11.30" fill="rgb(219,219,219)"/>
<rect x="476" y="436.00" width="0.9" height="11.30" fill="rgb(160,160,160)"/>
<rect x="478" y="436.00" width="0.9" height="11.30" fill="rgb(116,116,116)"/>
<rect x="485" y="436.00" width="0.9" height="11.30" fill="rgb(191,191,191)"/>
<rect x="486" y="436.00" width="0.9" height="11.30" fill="rgb(181,181,181)"/>
<rect x="489" y="436.00" width="0.9" height="11.30" fill="rgb(179,179,179)"/>
<rect x="491" y="436.00" width="0.9" height="11.30" fill="rgb(219,219,219)"/>
<rect x="492" y="436.00" width="0.9" height="11.30" fill="rgb(195,195,195)"/>
<rect x="493" y="436.00" width="0.9" height="11.30" fill="rgb(168,168,168)"/>
<rect x="494" y="436.00" width="0.9" height="11.30" fill="rgb(211,211,211)"/>
<rect x="497" y="436.00" width="0.9" height="11.30" fill="rgb(242,242,242)"/>
<rect x="419.30" y="447.30" width="78.60" height="2.80" fill="url(#rb)"/>
<path d="M419.20,406.40C421.50,407.83 420.90,407.23 426.10,410.70C431.30,414.17 429.03,413.03 434.80,416.80C440.57,420.57 437.63,418.83 443.40,422.00C449.17,425.17 446.33,423.73 452.10,426.30C457.87,428.87 455.53,427.40 460.70,429.70C465.87,432.00 464.13,432.90 467.60,433.20C471.07,433.50 469.07,432.90 471.10,430.60C473.13,428.30 472.27,429.17 473.70,426.30C475.13,423.43 474.07,422.60 475.40,422.00C476.73,421.40 476.27,425.67 477.70,424.50C479.13,423.33 478.33,419.07 479.70,418.50C481.07,417.93 480.33,423.97 481.80,422.80C483.27,421.63 482.77,416.13 484.10,415.00C485.43,413.87 484.37,421.13 485.80,419.40C487.23,417.67 486.97,412.13 488.40,409.80C489.83,407.47 488.93,415.27 490.10,412.40C491.27,409.53 490.17,404.37 491.90,401.20C493.63,398.03 493.30,401.47 495.30,402.90C497.30,404.33 497.03,404.63 497.90,405.50" fill="none" stroke="#4cad4a" stroke-width="1.0" stroke-linejoin="round"/>
<rect x="418.80" y="399.30" width="79.60" height="51.20" fill="none" stroke="#111" stroke-width="1"/>
<line x1="415.40" y1="399.80" x2="418.80" y2="399.80" stroke="#111" stroke-width="0.9"/>
<text x="412.20" y="402.10" font-size="6.5" fill="#333" text-anchor="end">0.1</text>
<line x1="415.40" y1="405.95" x2="418.80" y2="405.95" stroke="#111" stroke-width="0.9"/>
<text x="412.20" y="408.25" font-size="6.5" fill="#333" text-anchor="end">0.0</text>
<line x1="415.40" y1="412.10" x2="418.80" y2="412.10" stroke="#111" stroke-width="0.9"/>
<text x="412.20" y="414.40" font-size="6.5" fill="#333" text-anchor="end">−0.1</text>
<line x1="415.40" y1="418.25" x2="418.80" y2="418.25" stroke="#111" stroke-width="0.9"/>
<text x="412.20" y="420.55" font-size="6.5" fill="#333" text-anchor="end">−0.2</text>
<line x1="415.40" y1="424.40" x2="418.80" y2="424.40" stroke="#111" stroke-width="0.9"/>
<text x="412.20" y="426.70" font-size="6.5" fill="#333" text-anchor="end">−0.3</text>
<line x1="415.40" y1="430.55" x2="418.80" y2="430.55" stroke="#111" stroke-width="0.9"/>
<text x="412.20" y="432.85" font-size="6.5" fill="#333" text-anchor="end">−0.4</text>
<text x="458.60" y="395.70" font-size="6.5" fill="#333" text-anchor="middle">Aminoacyl-tRNA Biosynthesis</text>
<text x="420.90" y="421.50" font-size="6.9" fill="#333">NES:−1.592</text>
<text x="420.90" y="426.80" font-size="6.9" fill="#333"><tspan font-style="italic">P</tspan>-value:.011</text>
<text x="420.90" y="432.40" font-size="6.9" fill="#333">FDR:0.059</text>
<text x="392.60" y="425.40" font-size="7.9" fill="#222" text-anchor="middle" stroke="#222" stroke-width="0.28" textLength="62.00" lengthAdjust="spacingAndGlyphs" transform="rotate(-90 392.60 425.40)">Enrichment score (ES)</text>
<text x="418.80" y="459.00" font-size="6.9" fill="#333">MC5R<tspan font-size="3.8" dy="-2.7">−/−</tspan><tspan dy="2.7"> + IR</tspan></text>
<text x="499.40" y="459.00" font-size="6.6" fill="#333" text-anchor="end">WT + IR</text>
<line x1="44.90" y1="494.60" x2="44.90" y2="573.20" stroke="#333" stroke-width="1.0"/>
<line x1="44.40" y1="572.70" x2="253.30" y2="572.70" stroke="#333" stroke-width="1.0"/>
<line x1="41.60" y1="572.70" x2="44.90" y2="572.70" stroke="#333" stroke-width="0.9"/>
<text x="38.50" y="575.00" font-size="6.6" fill="#444" text-anchor="end">0.0</text>
<line x1="41.60" y1="557.82" x2="44.90" y2="557.82" stroke="#333" stroke-width="0.9"/>
<text x="38.50" y="560.12" font-size="6.6" fill="#444" text-anchor="end">0.4</text>
<line x1="41.60" y1="542.94" x2="44.90" y2="542.94" stroke="#333" stroke-width="0.9"/>
<text x="38.50" y="545.24" font-size="6.6" fill="#444" text-anchor="end">0.8</text>
<line x1="41.60" y1="528.06" x2="44.90" y2="528.06" stroke="#333" stroke-width="0.9"/>
<text x="38.50" y="530.36" font-size="6.6" fill="#444" text-anchor="end">1.2</text>
<line x1="41.60" y1="513.18" x2="44.90" y2="513.18" stroke="#333" stroke-width="0.9"/>
<text x="38.50" y="515.48" font-size="6.6" fill="#444" text-anchor="end">1.6</text>
<line x1="41.60" y1="498.30" x2="44.90" y2="498.30" stroke="#333" stroke-width="0.9"/>
<text x="38.50" y="500.60" font-size="6.6" fill="#444" text-anchor="end">2.0</text>
<text x="23.60" y="533.80" font-size="8.3" fill="#222" text-anchor="middle" stroke="#222" stroke-width="0.28" textLength="32.40" lengthAdjust="spacingAndGlyphs" transform="rotate(-90 23.60 533.80)">Fold change</text>
<text x="134.60" y="489.00" font-size="8.6" fill="#222">LT-HSC</text>
<rect x="47.00" y="534.76" width="3.70" height="37.94" fill="#cc1431"/>
<rect x="47.00" y="534.76" width="3.70" height="3.20" fill="#4a0c18"/>
<line x1="48.85" y1="534.76" x2="48.85" y2="531.76" stroke="#333" stroke-width="0.6"/>
<circle cx="48.85" cy="530.76" r="1.25" fill="#fff" stroke="#333" stroke-width="0.7"/>
<rect x="52.50" y="533.64" width="3.70" height="39.06" fill="#1c4f8a"/>
<rect x="52.50" y="533.64" width="3.70" height="3.20" fill="#0c2240"/>
<line x1="54.35" y1="533.64" x2="54.35" y2="531.04" stroke="#333" stroke-width="0.6"/>
<polygon points="52.95,531.14 55.75,531.14 54.35,528.64" fill="#fff" stroke="#333" stroke-width="0.7"/>
<line x1="51.60" y1="572.70" x2="51.60" y2="575.50" stroke="#333" stroke-width="0.9"/>
<text x="53.80" y="582.90" font-size="6.6" fill="#444" text-anchor="end" transform="rotate(-45 53.80 582.90)">p15</text>
<rect x="59.87" y="534.76" width="3.70" height="37.94" fill="#cc1431"/>
<rect x="59.87" y="534.76" width="3.70" height="3.20" fill="#4a0c18"/>
<line x1="61.72" y1="534.76" x2="61.72" y2="531.76" stroke="#333" stroke-width="0.6"/>
<circle cx="61.72" cy="530.76" r="1.25" fill="#fff" stroke="#333" stroke-width="0.7"/>
<rect x="65.37" y="531.78" width="3.70" height="40.92" fill="#1c4f8a"/>
<rect x="65.37" y="531.78" width="3.70" height="3.20" fill="#0c2240"/>
<line x1="67.22" y1="531.78" x2="67.22" y2="529.18" stroke="#333" stroke-width="0.6"/>
<polygon points="65.82,529.28 68.62,529.28 67.22,526.78" fill="#fff" stroke="#333" stroke-width="0.7"/>
<line x1="64.47" y1="572.70" x2="64.47" y2="575.50" stroke="#333" stroke-width="0.9"/>
<text x="66.67" y="582.90" font-size="6.6" fill="#444" text-anchor="end" transform="rotate(-45 66.67 582.90)">p16</text>
<rect x="72.74" y="534.76" width="3.70" height="37.94" fill="#cc1431"/>
<rect x="72.74" y="534.76" width="3.70" height="3.20" fill="#4a0c18"/>
<line x1="74.59" y1="534.76" x2="74.59" y2="531.76" stroke="#333" stroke-width="0.6"/>
<circle cx="74.59" cy="530.76" r="1.25" fill="#fff" stroke="#333" stroke-width="0.7"/>
<rect x="78.24" y="538.10" width="3.70" height="34.60" fill="#1c4f8a"/>
<rect x="78.24" y="538.10" width="3.70" height="3.20" fill="#0c2240"/>
<line x1="80.09" y1="538.10" x2="80.09" y2="535.50" stroke="#333" stroke-width="0.6"/>
<polygon points="78.69,535.60 81.49,535.60 80.09,533.10" fill="#fff" stroke="#333" stroke-width="0.7"/>
<line x1="77.34" y1="572.70" x2="77.34" y2="575.50" stroke="#333" stroke-width="0.9"/>
<text x="79.54" y="582.90" font-size="6.6" fill="#444" text-anchor="end" transform="rotate(-45 79.54 582.90)">p18</text>
<rect x="85.61" y="534.76" width="3.70" height="37.94" fill="#cc1431"/>
<rect x="85.61" y="534.76" width="3.70" height="3.20" fill="#4a0c18"/>
<line x1="87.46" y1="534.76" x2="87.46" y2="531.76" stroke="#333" stroke-width="0.6"/>
<circle cx="87.46" cy="530.76" r="1.25" fill="#fff" stroke="#333" stroke-width="0.7"/>
<rect x="91.11" y="533.64" width="3.70" height="39.06" fill="#1c4f8a"/>
<rect x="91.11" y="533.64" width="3.70" height="3.20" fill="#0c2240"/>
<line x1="92.96" y1="533.64" x2="92.96" y2="531.04" stroke="#333" stroke-width="0.6"/>
<polygon points="91.56,531.14 94.36,531.14 92.96,528.64" fill="#fff" stroke="#333" stroke-width="0.7"/>
<line x1="90.21" y1="572.70" x2="90.21" y2="575.50" stroke="#333" stroke-width="0.9"/>
<text x="92.41" y="582.90" font-size="6.6" fill="#444" text-anchor="end" transform="rotate(-45 92.41 582.90)">p19</text>
<rect x="98.48" y="534.76" width="3.70" height="37.94" fill="#cc1431"/>
<rect x="98.48" y="534.76" width="3.70" height="3.20" fill="#4a0c18"/>
<line x1="100.33" y1="534.76" x2="100.33" y2="531.76" stroke="#333" stroke-width="0.6"/>
<circle cx="100.33" cy="530.76" r="1.25" fill="#fff" stroke="#333" stroke-width="0.7"/>
<rect x="103.98" y="532.52" width="3.70" height="40.18" fill="#1c4f8a"/>
<rect x="103.98" y="532.52" width="3.70" height="3.20" fill="#0c2240"/>
<line x1="105.83" y1="532.52" x2="105.83" y2="529.92" stroke="#333" stroke-width="0.6"/>
<polygon points="104.43,530.02 107.23,530.02 105.83,527.52" fill="#fff" stroke="#333" stroke-width="0.7"/>
<line x1="103.08" y1="572.70" x2="103.08" y2="575.50" stroke="#333" stroke-width="0.9"/>
<text x="105.28" y="582.90" font-size="6.6" fill="#444" text-anchor="end" transform="rotate(-45 105.28 582.90)">p21</text>
<rect x="111.35" y="535.50" width="3.70" height="37.20" fill="#cc1431"/>
<rect x="111.35" y="535.50" width="3.70" height="3.20" fill="#4a0c18"/>
<line x1="113.20" y1="535.50" x2="113.20" y2="532.50" stroke="#333" stroke-width="0.6"/>
<circle cx="113.20" cy="531.50" r="1.25" fill="#fff" stroke="#333" stroke-width="0.7"/>
<rect x="116.85" y="534.01" width="3.70" height="38.69" fill="#1c4f8a"/>
<rect x="116.85" y="534.01" width="3.70" height="3.20" fill="#0c2240"/>
<line x1="118.70" y1="534.01" x2="118.70" y2="531.41" stroke="#333" stroke-width="0.6"/>
<polygon points="117.30,531.51 120.10,531.51 118.70,529.01" fill="#fff" stroke="#333" stroke-width="0.7"/>
<line x1="115.95" y1="572.70" x2="115.95" y2="575.50" stroke="#333" stroke-width="0.9"/>
<text x="118.15" y="582.90" font-size="6.6" fill="#444" text-anchor="end" transform="rotate(-45 118.15 582.90)">p27</text>
<rect x="124.22" y="535.50" width="3.70" height="37.20" fill="#cc1431"/>
<rect x="124.22" y="535.50" width="3.70" height="3.20" fill="#4a0c18"/>
<line x1="126.07" y1="535.50" x2="126.07" y2="532.50" stroke="#333" stroke-width="0.6"/>
<circle cx="126.07" cy="531.50" r="1.25" fill="#fff" stroke="#333" stroke-width="0.7"/>
<rect x="129.72" y="503.14" width="3.70" height="69.56" fill="#1c4f8a"/>
<rect x="129.72" y="503.14" width="3.70" height="3.20" fill="#0c2240"/>
<line x1="131.57" y1="503.14" x2="131.57" y2="500.54" stroke="#333" stroke-width="0.6"/>
<polygon points="130.17,500.64 132.97,500.64 131.57,498.14" fill="#fff" stroke="#333" stroke-width="0.7"/>
<line x1="128.82" y1="572.70" x2="128.82" y2="575.50" stroke="#333" stroke-width="0.9"/>
<text x="131.02" y="582.90" font-size="6.6" fill="#444" text-anchor="end" transform="rotate(-45 131.02 582.90)">p57</text>
<text x="131.57" y="496.90" font-size="6.8" fill="#222" text-anchor="middle">***</text>
<rect x="137.09" y="534.76" width="3.70" height="37.94" fill="#cc1431"/>
<rect x="137.09" y="534.76" width="3.70" height="3.20" fill="#4a0c18"/>
<line x1="138.94" y1="534.76" x2="138.94" y2="531.76" stroke="#333" stroke-width="0.6"/>
<circle cx="138.94" cy="530.76" r="1.25" fill="#fff" stroke="#333" stroke-width="0.7"/>
<rect x="142.59" y="536.24" width="3.70" height="36.46" fill="#1c4f8a"/>
<rect x="142.59" y="536.24" width="3.70" height="3.20" fill="#0c2240"/>
<line x1="144.44" y1="536.24" x2="144.44" y2="533.64" stroke="#333" stroke-width="0.6"/>
<polygon points="143.04,533.74 145.84,533.74 144.44,531.24" fill="#fff" stroke="#333" stroke-width="0.7"/>
<line x1="141.69" y1="572.70" x2="141.69" y2="575.50" stroke="#333" stroke-width="0.9"/>
<text x="143.89" y="582.90" font-size="6.6" fill="#444" text-anchor="end" transform="rotate(-45 143.89 582.90)">CDK2</text>
<rect x="149.96" y="534.76" width="3.70" height="37.94" fill="#cc1431"/>
<rect x="149.96" y="534.76" width="3.70" height="3.20" fill="#4a0c18"/>
<line x1="151.81" y1="534.76" x2="151.81" y2="531.76" stroke="#333" stroke-width="0.6"/>
<circle cx="151.81" cy="530.76" r="1.25" fill="#fff" stroke="#333" stroke-width="0.7"/>
<rect x="155.46" y="536.24" width="3.70" height="36.46" fill="#1c4f8a"/>
<rect x="155.46" y="536.24" width="3.70" height="3.20" fill="#0c2240"/>
<line x1="157.31" y1="536.24" x2="157.31" y2="533.64" stroke="#333" stroke-width="0.6"/>
<polygon points="155.91,533.74 158.71,533.74 157.31,531.24" fill="#fff" stroke="#333" stroke-width="0.7"/>
<line x1="154.56" y1="572.70" x2="154.56" y2="575.50" stroke="#333" stroke-width="0.9"/>
<text x="156.76" y="582.90" font-size="6.6" fill="#444" text-anchor="end" transform="rotate(-45 156.76 582.90)">CDK4</text>
<rect x="162.83" y="534.76" width="3.70" height="37.94" fill="#cc1431"/>
<rect x="162.83" y="534.76" width="3.70" height="3.20" fill="#4a0c18"/>
<line x1="164.68" y1="534.76" x2="164.68" y2="531.76" stroke="#333" stroke-width="0.6"/>
<circle cx="164.68" cy="530.76" r="1.25" fill="#fff" stroke="#333" stroke-width="0.7"/>
<rect x="168.33" y="535.50" width="3.70" height="37.20" fill="#1c4f8a"/>
<rect x="168.33" y="535.50" width="3.70" height="3.20" fill="#0c2240"/>
<line x1="170.18" y1="535.50" x2="170.18" y2="532.90" stroke="#333" stroke-width="0.6"/>
<polygon points="168.78,533.00 171.58,533.00 170.18,530.50" fill="#fff" stroke="#333" stroke-width="0.7"/>
<line x1="167.43" y1="572.70" x2="167.43" y2="575.50" stroke="#333" stroke-width="0.9"/>
<text x="169.63" y="582.90" font-size="6.6" fill="#444" text-anchor="end" transform="rotate(-45 169.63 582.90)">CDK6</text>
<rect x="175.70" y="534.76" width="3.70" height="37.94" fill="#cc1431"/>
<rect x="175.70" y="534.76" width="3.70" height="3.20" fill="#4a0c18"/>
<line x1="177.55" y1="534.76" x2="177.55" y2="531.76" stroke="#333" stroke-width="0.6"/>
<circle cx="177.55" cy="530.76" r="1.25" fill="#fff" stroke="#333" stroke-width="0.7"/>
<rect x="181.20" y="547.40" width="3.70" height="25.30" fill="#1c4f8a"/>
<rect x="181.20" y="547.40" width="3.70" height="3.20" fill="#0c2240"/>
<line x1="183.05" y1="547.40" x2="183.05" y2="546.40" stroke="#333" stroke-width="0.6"/>
<polygon points="181.65,546.50 184.45,546.50 183.05,544.00" fill="#fff" stroke="#333" stroke-width="0.7"/>
<line x1="180.30" y1="572.70" x2="180.30" y2="575.50" stroke="#333" stroke-width="0.9"/>
<text x="182.50" y="582.90" font-size="6.6" fill="#444" text-anchor="end" transform="rotate(-45 182.50 582.90)">CDC6</text>
<text x="183.05" y="543.10" font-size="6.8" fill="#222" text-anchor="middle">*</text>
<rect x="188.57" y="534.38" width="3.70" height="38.32" fill="#cc1431"/>
<rect x="188.57" y="534.38" width="3.70" height="3.20" fill="#4a0c18"/>
<line x1="190.42" y1="534.38" x2="190.42" y2="531.38" stroke="#333" stroke-width="0.6"/>
<circle cx="190.42" cy="530.38" r="1.25" fill="#fff" stroke="#333" stroke-width="0.7"/>
<rect x="194.07" y="535.50" width="3.70" height="37.20" fill="#1c4f8a"/>
<rect x="194.07" y="535.50" width="3.70" height="3.20" fill="#0c2240"/>
<line x1="195.92" y1="535.50" x2="195.92" y2="532.90" stroke="#333" stroke-width="0.6"/>
<polygon points="194.52,533.00 197.32,533.00 195.92,530.50" fill="#fff" stroke="#333" stroke-width="0.7"/>
<line x1="193.17" y1="572.70" x2="193.17" y2="575.50" stroke="#333" stroke-width="0.9"/>
<text x="195.37" y="582.90" font-size="6.6" fill="#444" text-anchor="end" transform="rotate(-45 195.37 582.90)">Cyclin D1</text>
<rect x="201.44" y="535.50" width="3.70" height="37.20" fill="#cc1431"/>
<rect x="201.44" y="535.50" width="3.70" height="3.20" fill="#4a0c18"/>
<line x1="203.29" y1="535.50" x2="203.29" y2="532.50" stroke="#333" stroke-width="0.6"/>
<circle cx="203.29" cy="531.50" r="1.25" fill="#fff" stroke="#333" stroke-width="0.7"/>
<rect x="206.94" y="532.52" width="3.70" height="40.18" fill="#1c4f8a"/>
<rect x="206.94" y="532.52" width="3.70" height="3.20" fill="#0c2240"/>
<line x1="208.79" y1="532.52" x2="208.79" y2="529.92" stroke="#333" stroke-width="0.6"/>
<polygon points="207.39,530.02 210.19,530.02 208.79,527.52" fill="#fff" stroke="#333" stroke-width="0.7"/>
<line x1="206.04" y1="572.70" x2="206.04" y2="575.50" stroke="#333" stroke-width="0.9"/>
<text x="208.24" y="582.90" font-size="6.6" fill="#444" text-anchor="end" transform="rotate(-45 208.24 582.90)">Cyclin D2</text>
<rect x="214.31" y="535.50" width="3.70" height="37.20" fill="#cc1431"/>
<rect x="214.31" y="535.50" width="3.70" height="3.20" fill="#4a0c18"/>
<line x1="216.16" y1="535.50" x2="216.16" y2="532.50" stroke="#333" stroke-width="0.6"/>
<circle cx="216.16" cy="531.50" r="1.25" fill="#fff" stroke="#333" stroke-width="0.7"/>
<rect x="219.81" y="549.26" width="3.70" height="23.44" fill="#1c4f8a"/>
<rect x="219.81" y="549.26" width="3.70" height="3.20" fill="#0c2240"/>
<line x1="221.66" y1="549.26" x2="221.66" y2="548.26" stroke="#333" stroke-width="0.6"/>
<polygon points="220.26,548.36 223.06,548.36 221.66,545.86" fill="#fff" stroke="#333" stroke-width="0.7"/>
<line x1="218.91" y1="572.70" x2="218.91" y2="575.50" stroke="#333" stroke-width="0.9"/>
<text x="221.11" y="582.90" font-size="6.6" fill="#444" text-anchor="end" transform="rotate(-45 221.11 582.90)">Cyclin E1</text>
<text x="221.66" y="541.10" font-size="6.8" fill="#222" text-anchor="middle">*</text>
<rect x="227.18" y="534.38" width="3.70" height="38.32" fill="#cc1431"/>
<rect x="227.18" y="534.38" width="3.70" height="3.20" fill="#4a0c18"/>
<line x1="229.03" y1="534.38" x2="229.03" y2="531.38" stroke="#333" stroke-width="0.6"/>
<circle cx="229.03" cy="530.38" r="1.25" fill="#fff" stroke="#333" stroke-width="0.7"/>
<rect x="232.68" y="554.47" width="3.70" height="18.23" fill="#1c4f8a"/>
<rect x="232.68" y="554.47" width="3.70" height="3.20" fill="#0c2240"/>
<line x1="234.53" y1="554.47" x2="234.53" y2="553.47" stroke="#333" stroke-width="0.6"/>
<polygon points="233.13,553.57 235.93,553.57 234.53,551.07" fill="#fff" stroke="#333" stroke-width="0.7"/>
<line x1="231.78" y1="572.70" x2="231.78" y2="575.50" stroke="#333" stroke-width="0.9"/>
<text x="233.98" y="582.90" font-size="6.6" fill="#444" text-anchor="end" transform="rotate(-45 233.98 582.90)">Cyclin E2</text>
<text x="234.53" y="547.10" font-size="6.8" fill="#222" text-anchor="middle">**</text>
<rect x="240.05" y="535.50" width="3.70" height="37.20" fill="#cc1431"/>
<rect x="240.05" y="535.50" width="3.70" height="3.20" fill="#4a0c18"/>
<line x1="241.90" y1="535.50" x2="241.90" y2="532.50" stroke="#333" stroke-width="0.6"/>
<circle cx="241.90" cy="531.50" r="1.25" fill="#fff" stroke="#333" stroke-width="0.7"/>
<rect x="245.55" y="552.24" width="3.70" height="20.46" fill="#1c4f8a"/>
<rect x="245.55" y="552.24" width="3.70" height="3.20" fill="#0c2240"/>
<line x1="247.40" y1="552.24" x2="247.40" y2="551.24" stroke="#333" stroke-width="0.6"/>
<polygon points="246.00,551.34 248.80,551.34 247.40,548.84" fill="#fff" stroke="#333" stroke-width="0.7"/>
<line x1="244.65" y1="572.70" x2="244.65" y2="575.50" stroke="#333" stroke-width="0.9"/>
<text x="246.85" y="582.90" font-size="6.6" fill="#444" text-anchor="end" transform="rotate(-45 246.85 582.90)">Cyclin O</text>
<text x="247.40" y="550.50" font-size="6.8" fill="#222" text-anchor="middle">**</text>
<rect x="193.00" y="497.80" width="3.40" height="3.30" fill="#cc1431"/>
<text x="199.50" y="501.40" font-size="7.0" fill="#333">WT + IR</text>
<rect x="193.00" y="504.40" width="3.40" height="3.30" fill="#1c4f8a"/>
<text x="199.5" y="508.2" font-size="7.0" fill="#333">MC5R<tspan font-size="3.9" dy="-2.7">−/−</tspan><tspan dy="2.7"> + IR</tspan></text>
<line x1="295.70" y1="575.50" x2="295.70" y2="511.90" stroke="#111" stroke-width="0.9"/>
<polygon points="294.10,512.20 297.30,512.20 295.70,508.00" fill="#111"/>
<line x1="302.70" y1="582.50" x2="365.80" y2="582.50" stroke="#111" stroke-width="0.9"/>
<polygon points="365.40,580.90 365.40,584.10 370.20,582.50" fill="#111"/>
<clipPath id="hc302507"><rect x="302.7" y="507.4" width="67.30000000000001" height="68.10000000000002"/></clipPath>
<polyline points="303.00,575.30 303.50,575.30 304.00,575.30 304.50,575.30 305.00,575.30 305.50,575.30 306.00,575.30 306.50,575.30 307.00,575.30 307.50,575.30 308.00,575.30 308.50,575.30 309.00,575.30 309.50,575.29 310.00,575.27 310.50,575.22 311.00,575.09 311.50,574.82 312.00,574.27 312.50,573.23 313.00,571.42 313.50,568.50 314.00,564.17 314.50,558.33 315.00,551.14 315.50,543.20 316.00,535.51 316.50,529.29 317.00,525.65 317.50,525.30 318.00,528.32 318.50,534.11 319.00,541.61 319.50,549.58 320.00,556.98 320.50,563.13 321.00,567.75 321.50,570.93 322.00,572.94 322.50,574.11 323.00,574.74 323.50,575.06 324.00,575.20 324.50,575.26 325.00,575.29 325.50,575.30 326.00,575.30 326.50,575.30 327.00,575.30 327.50,575.30 328.00,575.30 328.50,575.30 329.00,575.30 329.50,575.30 330.00,575.30 330.50,575.30 331.00,575.30 331.50,575.30 332.00,575.30 332.50,575.30 333.00,575.30 333.50,575.30 334.00,575.30 334.50,575.30 335.00,575.30 335.50,575.30 336.00,575.30 336.50,575.30 337.00,575.30 337.50,575.30 338.00,575.30 338.50,575.30 339.00,575.30 339.50,575.30 340.00,575.30 340.50,575.30 341.00,575.30 341.50,575.30 342.00,575.30 342.50,575.30 343.00,575.30 343.50,575.30 344.00,575.30 344.50,575.30 345.00,575.30 345.50,575.30 346.00,575.30 346.50,575.30 347.00,575.30 347.50,575.30 348.00,575.30 348.50,575.30 349.00,575.30 349.50,575.30 350.00,575.30 350.50,575.30 351.00,575.30 351.50,575.30 352.00,575.30 352.50,575.30 353.00,575.30 353.50,575.30 354.00,575.30 354.50,575.30 355.00,575.30 355.50,575.30 356.00,575.30 356.50,575.30 357.00,575.30 357.50,575.30 358.00,575.30 358.50,575.30 359.00,575.30 359.50,575.30 360.00,575.30 360.50,575.30 361.00,575.30 361.50,575.30 362.00,575.30 362.50,575.30 363.00,575.30 363.50,575.30 364.00,575.30 364.50,575.30 365.00,575.30 365.50,575.30 366.00,575.30 366.50,575.30 367.00,575.30 367.50,575.30 368.00,575.30 368.50,575.30 369.00,575.30" fill="none" stroke="#63b863" stroke-width="0.75" stroke-linejoin="round" clip-path="url(#hc302507)"/>
<polyline points="303.00,575.30 303.50,575.30 304.00,575.30 304.50,575.30 305.00,575.30 305.50,575.30 306.00,575.30 306.50,575.30 307.00,575.30 307.50,575.30 308.00,575.30 308.50,575.30 309.00,575.30 309.50,575.30 310.00,575.30 310.50,575.30 311.00,575.30 311.50,575.30 312.00,575.29 312.50,575.29 313.00,575.28 313.50,575.26 314.00,575.24 314.50,575.21 315.00,575.16 315.50,575.10 316.00,575.01 316.50,574.90 317.00,574.77 317.50,574.61 318.00,574.42 318.50,574.22 319.00,574.01 319.50,573.79 320.00,573.59 320.50,573.42 321.00,573.28 321.50,573.20 322.00,573.17 322.50,573.19 323.00,573.28 323.50,573.41 324.00,573.57 324.50,573.76 325.00,573.95 325.50,574.13 326.00,574.28 326.50,574.39 327.00,574.43 327.50,574.41 328.00,574.29 328.50,574.06 329.00,573.71 329.50,573.22 330.00,572.55 330.50,571.70 331.00,570.65 331.50,569.38 332.00,567.88 332.50,566.17 333.00,564.26 333.50,562.17 334.00,559.92 334.50,557.57 335.00,555.14 335.50,552.67 336.00,550.19 336.50,547.72 337.00,545.27 337.50,542.84 338.00,540.44 338.50,538.06 339.00,535.74 339.50,533.51 340.00,531.46 340.50,529.66 341.00,528.24 341.50,527.31 342.00,527.00 342.50,527.40 343.00,528.56 343.50,530.49 344.00,533.14 344.50,536.42 345.00,540.18 345.50,544.25 346.00,548.44 346.50,552.58 347.00,556.52 347.50,560.13 348.00,563.33 348.50,566.07 349.00,568.36 349.50,570.20 350.00,571.64 350.50,572.74 351.00,573.55 351.50,574.13 352.00,574.54 352.50,574.82 353.00,575.00 353.50,575.12 354.00,575.19 354.50,575.24 355.00,575.26 355.50,575.28 356.00,575.29 356.50,575.29 357.00,575.30 357.50,575.30 358.00,575.30 358.50,575.30 359.00,575.30 359.50,575.30 360.00,575.30 360.50,575.30 361.00,575.30 361.50,575.30 362.00,575.30 362.50,575.30 363.00,575.30 363.50,575.30 364.00,575.30 364.50,575.30 365.00,575.30 365.50,575.30 366.00,575.30 366.50,575.30 367.00,575.30 367.50,575.30 368.00,575.30 368.50,575.30 369.00,575.30" fill="none" stroke="#3d78b8" stroke-width="0.75" stroke-linejoin="round" clip-path="url(#hc302507)"/>
<polyline points="303.00,575.30 303.50,575.30 304.00,575.30 304.50,575.30 305.00,575.30 305.50,575.30 306.00,575.30 306.50,575.30 307.00,575.30 307.50,575.30 308.00,575.30 308.50,575.30 309.00,575.30 309.50,575.30 310.00,575.30 310.50,575.30 311.00,575.30 311.50,575.30 312.00,575.30 312.50,575.30 313.00,575.29 313.50,575.29 314.00,575.29 314.50,575.28 315.00,575.27 315.50,575.25 316.00,575.21 316.50,575.13 317.00,574.98 317.50,574.72 318.00,574.31 318.50,573.73 319.00,573.04 319.50,572.33 320.00,571.76 320.50,571.45 321.00,571.47 321.50,571.76 322.00,572.19 322.50,572.61 323.00,572.92 323.50,573.09 324.00,573.11 324.50,573.05 325.00,572.95 325.50,572.84 326.00,572.75 326.50,572.70 327.00,572.68 327.50,572.70 328.00,572.76 328.50,572.85 329.00,572.98 329.50,573.14 330.00,573.31 330.50,573.50 331.00,573.69 331.50,573.87 332.00,574.05 332.50,574.20 333.00,574.33 333.50,574.42 334.00,574.46 334.50,574.46 335.00,574.38 335.50,574.23 336.00,573.98 336.50,573.61 337.00,573.11 337.50,572.44 338.00,571.58 338.50,570.51 339.00,569.18 339.50,567.59 340.00,565.70 340.50,563.52 341.00,561.04 341.50,558.28 342.00,555.27 342.50,552.06 343.00,548.71 343.50,545.31 344.00,541.95 344.50,538.73 345.00,535.76 345.50,533.16 346.00,531.02 346.50,529.42 347.00,528.43 347.50,528.10 348.00,528.43 348.50,529.42 349.00,531.02 349.50,533.16 350.00,535.76 350.50,538.73 351.00,541.95 351.50,545.31 352.00,548.71 352.50,552.06 353.00,555.28 353.50,558.29 354.00,561.05 354.50,563.53 355.00,565.72 355.50,567.61 356.00,569.21 356.50,570.55 357.00,571.64 357.50,572.53 358.00,573.23 358.50,573.77 359.00,574.19 359.50,574.50 360.00,574.74 360.50,574.91 361.00,575.03 361.50,575.12 362.00,575.18 362.50,575.22 363.00,575.25 363.50,575.27 364.00,575.28 364.50,575.29 365.00,575.29 365.50,575.30 366.00,575.30 366.50,575.30 367.00,575.30 367.50,575.30 368.00,575.30 368.50,575.30 369.00,575.30" fill="none" stroke="#e0405a" stroke-width="0.75" stroke-linejoin="round" clip-path="url(#hc302507)"/>
<rect x="302.70" y="507.40" width="67.30" height="68.10" fill="none" stroke="#111" stroke-width="1.0"/>
<line x1="302.70" y1="569.10" x2="304.10" y2="569.10" stroke="#111" stroke-width="0.6"/>
<line x1="302.70" y1="562.60" x2="304.10" y2="562.60" stroke="#111" stroke-width="0.6"/>
<line x1="302.70" y1="556.10" x2="304.10" y2="556.10" stroke="#111" stroke-width="0.6"/>
<line x1="302.70" y1="549.60" x2="304.10" y2="549.60" stroke="#111" stroke-width="0.6"/>
<line x1="302.70" y1="543.10" x2="304.10" y2="543.10" stroke="#111" stroke-width="0.6"/>
<line x1="302.70" y1="536.60" x2="304.10" y2="536.60" stroke="#111" stroke-width="0.6"/>
<line x1="302.70" y1="530.10" x2="304.10" y2="530.10" stroke="#111" stroke-width="0.6"/>
<line x1="302.70" y1="523.60" x2="304.10" y2="523.60" stroke="#111" stroke-width="0.6"/>
<line x1="302.70" y1="517.10" x2="304.10" y2="517.10" stroke="#111" stroke-width="0.6"/>
<line x1="302.70" y1="510.60" x2="304.10" y2="510.60" stroke="#111" stroke-width="0.6"/>
<line x1="306.70" y1="575.50" x2="306.70" y2="573.90" stroke="#111" stroke-width="0.6"/>
<line x1="309.34" y1="575.50" x2="309.34" y2="574.50" stroke="#111" stroke-width="0.6"/>
<line x1="311.02" y1="575.50" x2="311.02" y2="574.50" stroke="#111" stroke-width="0.6"/>
<line x1="312.22" y1="575.50" x2="312.22" y2="574.50" stroke="#111" stroke-width="0.6"/>
<line x1="313.06" y1="575.50" x2="313.06" y2="574.50" stroke="#111" stroke-width="0.6"/>
<line x1="313.78" y1="575.50" x2="313.78" y2="574.50" stroke="#111" stroke-width="0.6"/>
<line x1="314.38" y1="575.50" x2="314.38" y2="574.50" stroke="#111" stroke-width="0.6"/>
<line x1="314.98" y1="575.50" x2="314.98" y2="574.50" stroke="#111" stroke-width="0.6"/>
<line x1="322.72" y1="575.50" x2="322.72" y2="573.90" stroke="#111" stroke-width="0.6"/>
<line x1="325.36" y1="575.50" x2="325.36" y2="574.50" stroke="#111" stroke-width="0.6"/>
<line x1="327.04" y1="575.50" x2="327.04" y2="574.50" stroke="#111" stroke-width="0.6"/>
<line x1="328.24" y1="575.50" x2="328.24" y2="574.50" stroke="#111" stroke-width="0.6"/>
<line x1="329.08" y1="575.50" x2="329.08" y2="574.50" stroke="#111" stroke-width="0.6"/>
<line x1="329.80" y1="575.50" x2="329.80" y2="574.50" stroke="#111" stroke-width="0.6"/>
<line x1="330.40" y1="575.50" x2="330.40" y2="574.50" stroke="#111" stroke-width="0.6"/>
<line x1="331.00" y1="575.50" x2="331.00" y2="574.50" stroke="#111" stroke-width="0.6"/>
<line x1="338.75" y1="575.50" x2="338.75" y2="573.90" stroke="#111" stroke-width="0.6"/>
<line x1="341.39" y1="575.50" x2="341.39" y2="574.50" stroke="#111" stroke-width="0.6"/>
<line x1="343.07" y1="575.50" x2="343.07" y2="574.50" stroke="#111" stroke-width="0.6"/>
<line x1="344.27" y1="575.50" x2="344.27" y2="574.50" stroke="#111" stroke-width="0.6"/>
<line x1="345.11" y1="575.50" x2="345.11" y2="574.50" stroke="#111" stroke-width="0.6"/>
<line x1="345.83" y1="575.50" x2="345.83" y2="574.50" stroke="#111" stroke-width="0.6"/>
<line x1="346.43" y1="575.50" x2="346.43" y2="574.50" stroke="#111" stroke-width="0.6"/>
<line x1="347.03" y1="575.50" x2="347.03" y2="574.50" stroke="#111" stroke-width="0.6"/>
<line x1="354.77" y1="575.50" x2="354.77" y2="573.90" stroke="#111" stroke-width="0.6"/>
<line x1="357.41" y1="575.50" x2="357.41" y2="574.50" stroke="#111" stroke-width="0.6"/>
<line x1="359.09" y1="575.50" x2="359.09" y2="574.50" stroke="#111" stroke-width="0.6"/>
<line x1="360.29" y1="575.50" x2="360.29" y2="574.50" stroke="#111" stroke-width="0.6"/>
<line x1="361.13" y1="575.50" x2="361.13" y2="574.50" stroke="#111" stroke-width="0.6"/>
<line x1="361.85" y1="575.50" x2="361.85" y2="574.50" stroke="#111" stroke-width="0.6"/>
<line x1="362.45" y1="575.50" x2="362.45" y2="574.50" stroke="#111" stroke-width="0.6"/>
<line x1="363.05" y1="575.50" x2="363.05" y2="574.50" stroke="#111" stroke-width="0.6"/>
<text x="336.90" y="502.00" font-size="8.6" fill="#222" text-anchor="middle">LT-HSC</text>
<text x="330.00" y="592.50" font-size="8.2" fill="#222" stroke="#222" stroke-width="0.28" textLength="13.80" lengthAdjust="spacingAndGlyphs">MTG</text>
<text x="290.00" y="542.30" font-size="7.8" fill="#222" text-anchor="middle" stroke="#222" stroke-width="0.28" textLength="18.00" lengthAdjust="spacingAndGlyphs" transform="rotate(-90 290.00 542.30)">Count</text>
<line x1="306.60" y1="512.50" x2="309.00" y2="512.50" stroke="#6cbf6c" stroke-width="0.8"/>
<text x="310.60" y="514.60" font-size="6.6" fill="#333">Negative</text>
<line x1="338.40" y1="512.50" x2="341.80" y2="512.50" stroke="#e0405a" stroke-width="0.8"/>
<text x="343.40" y="514.60" font-size="6.6" fill="#333">WT + IR</text>
<line x1="306.60" y1="519.50" x2="309.00" y2="519.50" stroke="#3a6fb0" stroke-width="0.8"/>
<text x="310.60" y="521.70" font-size="6.6" fill="#333">MC5R<tspan font-size="3.7" dy="-2.6">−/−</tspan><tspan dy="2.6"> + IR</tspan></text>
<line x1="32.50" y1="703.60" x2="32.50" y2="641.30" stroke="#111" stroke-width="0.9"/>
<polygon points="30.90,641.60 34.10,641.60 32.50,637.40" fill="#111"/>
<line x1="39.70" y1="710.80" x2="103.00" y2="710.80" stroke="#111" stroke-width="0.9"/>
<polygon points="102.60,709.20 102.60,712.40 107.40,710.80" fill="#111"/>
<clipPath id="hc39636"><rect x="39.7" y="636.8" width="67.5" height="66.80000000000007"/></clipPath>
<polyline points="40.00,703.40 40.50,703.40 41.00,703.40 41.50,703.40 42.00,703.40 42.50,703.40 43.00,703.40 43.50,703.40 44.00,703.40 44.50,703.39 45.00,703.37 45.50,703.34 46.00,703.27 46.50,703.13 47.00,702.86 47.50,702.39 48.00,701.58 48.50,700.31 49.00,698.40 49.50,695.73 50.00,692.21 50.50,687.91 51.00,683.03 51.50,677.96 52.00,673.23 52.50,669.43 53.00,667.07 53.50,666.50 54.00,667.81 54.50,670.80 55.00,675.05 55.50,679.98 56.00,685.03 56.50,689.71 57.00,693.72 57.50,696.89 58.00,699.25 58.50,700.89 59.00,701.95 59.50,702.61 60.00,702.99 60.50,703.20 61.00,703.31 61.50,703.36 62.00,703.38 62.50,703.39 63.00,703.40 63.50,703.40 64.00,703.40 64.50,703.40 65.00,703.40 65.50,703.40 66.00,703.40 66.50,703.40 67.00,703.40 67.50,703.40 68.00,703.40 68.50,703.40 69.00,703.40 69.50,703.40 70.00,703.40 70.50,703.40 71.00,703.40 71.50,703.40 72.00,703.40 72.50,703.40 73.00,703.40 73.50,703.40 74.00,703.40 74.50,703.40 75.00,703.40 75.50,703.40 76.00,703.40 76.50,703.40 77.00,703.40 77.50,703.40 78.00,703.40 78.50,703.40 79.00,703.40 79.50,703.40 80.00,703.40 80.50,703.40 81.00,703.40 81.50,703.40 82.00,703.40 82.50,703.40 83.00,703.40 83.50,703.40 84.00,703.40 84.50,703.40 85.00,703.40 85.50,703.40 86.00,703.40 86.50,703.40 87.00,703.40 87.50,703.40 88.00,703.40 88.50,703.40 89.00,703.40 89.50,703.40 90.00,703.40 90.50,703.40 91.00,703.40 91.50,703.40 92.00,703.40 92.50,703.40 93.00,703.40 93.50,703.40 94.00,703.40 94.50,703.40 95.00,703.40 95.50,703.40 96.00,703.40 96.50,703.40 97.00,703.40 97.50,703.40 98.00,703.40 98.50,703.40 99.00,703.40 99.50,703.40 100.00,703.40 100.50,703.40 101.00,703.40 101.50,703.40 102.00,703.40 102.50,703.40 103.00,703.40 103.50,703.40 104.00,703.40 104.50,703.40 105.00,703.40 105.50,703.40 106.00,703.40" fill="none" stroke="#63b863" stroke-width="0.75" stroke-linejoin="round" clip-path="url(#hc39636)"/>
<polyline points="40.00,703.40 40.50,703.40 41.00,703.40 41.50,703.40 42.00,703.40 42.50,703.40 43.00,703.40 43.50,703.40 44.00,703.40 44.50,703.40 45.00,703.40 45.50,703.40 46.00,703.40 46.50,703.40 47.00,703.40 47.50,703.40 48.00,703.40 48.50,703.40 49.00,703.40 49.50,703.40 50.00,703.40 50.50,703.40 51.00,703.40 51.50,703.40 52.00,703.40 52.50,703.40 53.00,703.40 53.50,703.40 54.00,703.40 54.50,703.40 55.00,703.40 55.50,703.40 56.00,703.39 56.50,703.39 57.00,703.38 57.50,703.37 58.00,703.36 58.50,703.35 59.00,703.32 59.50,703.29 60.00,703.25 60.50,703.20 61.00,703.13 61.50,703.05 62.00,702.94 62.50,702.82 63.00,702.67 63.50,702.49 64.00,702.29 64.50,702.06 65.00,701.81 65.50,701.54 66.00,701.25 66.50,700.94 67.00,700.62 67.50,700.30 68.00,699.97 68.50,699.64 69.00,699.30 69.50,698.97 70.00,698.64 70.50,698.30 71.00,697.95 71.50,697.60 72.00,697.23 72.50,696.85 73.00,696.47 73.50,696.08 74.00,695.70 74.50,695.33 75.00,694.98 75.50,694.66 76.00,694.36 76.50,694.07 77.00,693.74 77.50,693.32 78.00,692.71 78.50,691.82 79.00,690.54 79.50,688.76 80.00,686.42 80.50,683.52 81.00,680.17 81.50,676.53 82.00,672.88 82.50,669.53 83.00,666.79 83.50,664.89 84.00,664.00 84.50,664.12 85.00,665.16 85.50,666.93 86.00,669.21 86.50,671.79 87.00,674.48 87.50,677.17 88.00,679.81 88.50,682.37 89.00,684.86 89.50,687.27 90.00,689.59 90.50,691.80 91.00,693.86 91.50,695.73 92.00,697.38 92.50,698.80 93.00,699.97 93.50,700.91 94.00,701.65 94.50,702.19 95.00,702.59 95.50,702.88 96.00,703.07 96.50,703.20 97.00,703.28 97.50,703.33 98.00,703.36 98.50,703.38 99.00,703.39 99.50,703.39 100.00,703.40 100.50,703.40 101.00,703.40 101.50,703.40 102.00,703.40 102.50,703.40 103.00,703.40 103.50,703.40 104.00,703.40 104.50,703.40 105.00,703.40 105.50,703.40 106.00,703.40" fill="none" stroke="#3d78b8" stroke-width="0.75" stroke-linejoin="round" clip-path="url(#hc39636)"/>
<polyline points="40.00,703.40 40.50,703.40 41.00,703.40 41.50,703.40 42.00,703.40 42.50,703.40 43.00,703.40 43.50,703.40 44.00,703.40 44.50,703.40 45.00,703.40 45.50,703.40 46.00,703.40 46.50,703.40 47.00,703.40 47.50,703.40 48.00,703.40 48.50,703.40 49.00,703.40 49.50,703.40 50.00,703.40 50.50,703.40 51.00,703.40 51.50,703.40 52.00,703.40 52.50,703.40 53.00,703.40 53.50,703.40 54.00,703.40 54.50,703.40 55.00,703.40 55.50,703.40 56.00,703.39 56.50,703.39 57.00,703.38 57.50,703.37 58.00,703.36 58.50,703.34 59.00,703.32 59.50,703.29 60.00,703.24 60.50,703.19 61.00,703.12 61.50,703.02 62.00,702.91 62.50,702.78 63.00,702.61 63.50,702.43 64.00,702.21 64.50,701.96 65.00,701.69 65.50,701.40 66.00,701.09 66.50,700.77 67.00,700.44 67.50,700.12 68.00,699.80 68.50,699.50 69.00,699.22 69.50,698.97 70.00,698.74 70.50,698.53 71.00,698.36 71.50,698.20 72.00,698.07 72.50,697.94 73.00,697.83 73.50,697.72 74.00,697.61 74.50,697.49 75.00,697.37 75.50,697.24 76.00,697.10 76.50,696.94 77.00,696.76 77.50,696.55 78.00,696.30 78.50,695.99 79.00,695.62 79.50,695.16 80.00,694.60 80.50,693.91 81.00,693.09 81.50,692.12 82.00,690.99 82.50,689.70 83.00,688.23 83.50,686.58 84.00,684.73 84.50,682.67 85.00,680.40 85.50,677.94 86.00,675.35 86.50,672.70 87.00,670.14 87.50,667.82 88.00,665.91 88.50,664.59 89.00,664.00 89.50,664.22 90.00,665.25 90.50,667.06 91.00,669.50 91.50,672.40 92.00,675.58 92.50,678.84 93.00,682.03 93.50,685.02 94.00,687.75 94.50,690.18 95.00,692.31 95.50,694.17 96.00,695.77 96.50,697.16 97.00,698.36 97.50,699.38 98.00,700.25 98.50,700.98 99.00,701.58 99.50,702.06 100.00,702.44 100.50,702.72 101.00,702.94 101.50,703.09 102.00,703.20 102.50,703.27 103.00,703.32 103.50,703.35 104.00,703.37 104.50,703.38 105.00,703.39 105.50,703.40 106.00,703.40" fill="none" stroke="#e0405a" stroke-width="0.75" stroke-linejoin="round" clip-path="url(#hc39636)"/>
<rect x="39.70" y="636.80" width="67.50" height="66.80" fill="none" stroke="#111" stroke-width="1.0"/>
<line x1="39.70" y1="697.20" x2="41.10" y2="697.20" stroke="#111" stroke-width="0.6"/>
<line x1="39.70" y1="690.70" x2="41.10" y2="690.70" stroke="#111" stroke-width="0.6"/>
<line x1="39.70" y1="684.20" x2="41.10" y2="684.20" stroke="#111" stroke-width="0.6"/>
<line x1="39.70" y1="677.70" x2="41.10" y2="677.70" stroke="#111" stroke-width="0.6"/>
<line x1="39.70" y1="671.20" x2="41.10" y2="671.20" stroke="#111" stroke-width="0.6"/>
<line x1="39.70" y1="664.70" x2="41.10" y2="664.70" stroke="#111" stroke-width="0.6"/>
<line x1="39.70" y1="658.20" x2="41.10" y2="658.20" stroke="#111" stroke-width="0.6"/>
<line x1="39.70" y1="651.70" x2="41.10" y2="651.70" stroke="#111" stroke-width="0.6"/>
<line x1="39.70" y1="645.20" x2="41.10" y2="645.20" stroke="#111" stroke-width="0.6"/>
<line x1="43.70" y1="703.60" x2="43.70" y2="702.00" stroke="#111" stroke-width="0.6"/>
<line x1="46.34" y1="703.60" x2="46.34" y2="702.60" stroke="#111" stroke-width="0.6"/>
<line x1="48.02" y1="703.60" x2="48.02" y2="702.60" stroke="#111" stroke-width="0.6"/>
<line x1="49.22" y1="703.60" x2="49.22" y2="702.60" stroke="#111" stroke-width="0.6"/>
<line x1="50.06" y1="703.60" x2="50.06" y2="702.60" stroke="#111" stroke-width="0.6"/>
<line x1="50.78" y1="703.60" x2="50.78" y2="702.60" stroke="#111" stroke-width="0.6"/>
<line x1="51.38" y1="703.60" x2="51.38" y2="702.60" stroke="#111" stroke-width="0.6"/>
<line x1="51.98" y1="703.60" x2="51.98" y2="702.60" stroke="#111" stroke-width="0.6"/>
<line x1="59.77" y1="703.60" x2="59.77" y2="702.00" stroke="#111" stroke-width="0.6"/>
<line x1="62.41" y1="703.60" x2="62.41" y2="702.60" stroke="#111" stroke-width="0.6"/>
<line x1="64.09" y1="703.60" x2="64.09" y2="702.60" stroke="#111" stroke-width="0.6"/>
<line x1="65.29" y1="703.60" x2="65.29" y2="702.60" stroke="#111" stroke-width="0.6"/>
<line x1="66.13" y1="703.60" x2="66.13" y2="702.60" stroke="#111" stroke-width="0.6"/>
<line x1="66.85" y1="703.60" x2="66.85" y2="702.60" stroke="#111" stroke-width="0.6"/>
<line x1="67.45" y1="703.60" x2="67.45" y2="702.60" stroke="#111" stroke-width="0.6"/>
<line x1="68.05" y1="703.60" x2="68.05" y2="702.60" stroke="#111" stroke-width="0.6"/>
<line x1="75.84" y1="703.60" x2="75.84" y2="702.00" stroke="#111" stroke-width="0.6"/>
<line x1="78.48" y1="703.60" x2="78.48" y2="702.60" stroke="#111" stroke-width="0.6"/>
<line x1="80.16" y1="703.60" x2="80.16" y2="702.60" stroke="#111" stroke-width="0.6"/>
<line x1="81.36" y1="703.60" x2="81.36" y2="702.60" stroke="#111" stroke-width="0.6"/>
<line x1="82.20" y1="703.60" x2="82.20" y2="702.60" stroke="#111" stroke-width="0.6"/>
<line x1="82.92" y1="703.60" x2="82.92" y2="702.60" stroke="#111" stroke-width="0.6"/>
<line x1="83.52" y1="703.60" x2="83.52" y2="702.60" stroke="#111" stroke-width="0.6"/>
<line x1="84.12" y1="703.60" x2="84.12" y2="702.60" stroke="#111" stroke-width="0.6"/>
<line x1="91.91" y1="703.60" x2="91.91" y2="702.00" stroke="#111" stroke-width="0.6"/>
<line x1="94.55" y1="703.60" x2="94.55" y2="702.60" stroke="#111" stroke-width="0.6"/>
<line x1="96.23" y1="703.60" x2="96.23" y2="702.60" stroke="#111" stroke-width="0.6"/>
<line x1="97.43" y1="703.60" x2="97.43" y2="702.60" stroke="#111" stroke-width="0.6"/>
<line x1="98.27" y1="703.60" x2="98.27" y2="702.60" stroke="#111" stroke-width="0.6"/>
<line x1="98.99" y1="703.60" x2="98.99" y2="702.60" stroke="#111" stroke-width="0.6"/>
<line x1="99.59" y1="703.60" x2="99.59" y2="702.60" stroke="#111" stroke-width="0.6"/>
<line x1="100.19" y1="703.60" x2="100.19" y2="702.60" stroke="#111" stroke-width="0.6"/>
<text x="74.40" y="630.50" font-size="8.6" fill="#222" text-anchor="middle">LT-HSC</text>
<text x="65.20" y="720.80" font-size="8.2" fill="#222" stroke="#222" stroke-width="0.28" textLength="17.50" lengthAdjust="spacingAndGlyphs">TMRM</text>
<text x="27.80" y="670.30" font-size="7.8" fill="#222" text-anchor="middle" stroke="#222" stroke-width="0.28" textLength="18.00" lengthAdjust="spacingAndGlyphs" transform="rotate(-90 27.80 670.30)">Count</text>
<line x1="43.40" y1="641.60" x2="45.80" y2="641.60" stroke="#6cbf6c" stroke-width="0.8"/>
<text x="47.40" y="643.70" font-size="6.6" fill="#333">Negative</text>
<line x1="75.20" y1="641.60" x2="78.60" y2="641.60" stroke="#e0405a" stroke-width="0.8"/>
<text x="80.20" y="643.70" font-size="6.6" fill="#333">WT + IR</text>
<line x1="43.40" y1="648.60" x2="45.80" y2="648.60" stroke="#3a6fb0" stroke-width="0.8"/>
<text x="47.40" y="650.80" font-size="6.6" fill="#333">MC5R<tspan font-size="3.7" dy="-2.6">−/−</tspan><tspan dy="2.6"> + IR</tspan></text>
<line x1="296.50" y1="704.30" x2="296.50" y2="641.10" stroke="#111" stroke-width="0.9"/>
<polygon points="294.90,641.40 298.10,641.40 296.50,637.20" fill="#111"/>
<line x1="303.90" y1="710.90" x2="367.40" y2="710.90" stroke="#111" stroke-width="0.9"/>
<polygon points="367.00,709.30 367.00,712.50 371.80,710.90" fill="#111"/>
<clipPath id="hc303636"><rect x="303.9" y="636.6" width="67.70000000000005" height="67.69999999999993"/></clipPath>
<polyline points="304.00,704.10 304.50,704.10 305.00,704.10 305.50,704.10 306.00,704.10 306.50,704.10 307.00,704.09 307.50,704.08 308.00,704.04 308.50,703.92 309.00,703.63 309.50,703.00 310.00,701.72 310.50,699.40 311.00,695.56 311.50,689.87 312.00,682.35 312.50,673.62 313.00,664.93 313.50,657.94 314.00,654.20 314.50,654.63 315.00,659.12 315.50,666.59 316.00,675.41 316.50,683.98 317.00,691.16 317.50,696.46 318.00,699.97 318.50,702.05 319.00,703.17 319.50,703.71 320.00,703.95 320.50,704.05 321.00,704.08 321.50,704.10 322.00,704.10 322.50,704.10 323.00,704.10 323.50,704.10 324.00,704.10 324.50,704.10 325.00,704.10 325.50,704.10 326.00,704.10 326.50,704.10 327.00,704.10 327.50,704.10 328.00,704.10 328.50,704.10 329.00,704.10 329.50,704.10 330.00,704.10 330.50,704.10 331.00,704.10 331.50,704.10 332.00,704.10 332.50,704.10 333.00,704.10 333.50,704.10 334.00,704.10 334.50,704.10 335.00,704.10 335.50,704.10 336.00,704.10 336.50,704.10 337.00,704.10 337.50,704.10 338.00,704.10 338.50,704.10 339.00,704.10 339.50,704.10 340.00,704.10 340.50,704.10 341.00,704.10 341.50,704.10 342.00,704.10 342.50,704.10 343.00,704.10 343.50,704.10 344.00,704.10 344.50,704.10 345.00,704.10 345.50,704.10 346.00,704.10 346.50,704.10 347.00,704.10 347.50,704.10 348.00,704.10 348.50,704.10 349.00,704.10 349.50,704.10 350.00,704.10 350.50,704.10 351.00,704.10 351.50,704.10 352.00,704.10 352.50,704.10 353.00,704.10 353.50,704.10 354.00,704.10 354.50,704.10 355.00,704.10 355.50,704.10 356.00,704.10 356.50,704.10 357.00,704.10 357.50,704.10 358.00,704.10 358.50,704.10 359.00,704.10 359.50,704.10 360.00,704.10 360.50,704.10 361.00,704.10 361.50,704.10 362.00,704.10 362.50,704.10 363.00,704.10 363.50,704.10 364.00,704.10 364.50,704.10 365.00,704.10 365.50,704.10 366.00,704.10 366.50,704.10 367.00,704.10 367.50,704.10 368.00,704.10 368.50,704.10 369.00,704.10 369.50,704.10 370.00,704.10 370.50,704.10 371.00,704.10" fill="none" stroke="#63b863" stroke-width="0.75" stroke-linejoin="round" clip-path="url(#hc303636)"/>
<polyline points="304.00,704.09 304.50,704.08 305.00,704.07 305.50,704.05 306.00,704.03 306.50,704.00 307.00,703.95 307.50,703.89 308.00,703.81 308.50,703.71 309.00,703.58 309.50,703.42 310.00,703.22 310.50,702.98 311.00,702.69 311.50,702.36 312.00,701.97 312.50,701.55 313.00,701.08 313.50,700.58 314.00,700.04 314.50,699.49 315.00,698.92 315.50,698.35 316.00,697.77 316.50,697.19 317.00,696.61 317.50,696.01 318.00,695.38 318.50,694.71 319.00,693.99 319.50,693.19 320.00,692.30 320.50,691.32 321.00,690.26 321.50,689.11 322.00,687.91 322.50,686.67 323.00,685.40 323.50,684.08 324.00,682.69 324.50,681.14 325.00,679.32 325.50,677.11 326.00,674.38 326.50,671.07 327.00,667.23 327.50,663.03 328.00,658.84 328.50,655.12 329.00,652.41 329.50,651.20 330.00,651.81 330.50,654.34 331.00,658.61 331.50,664.22 332.00,670.60 332.50,677.17 333.00,683.38 333.50,688.84 334.00,693.36 334.50,696.86 335.00,699.42 335.50,701.21 336.00,702.38 336.50,703.12 337.00,703.56 337.50,703.81 338.00,703.95 338.50,704.02 339.00,704.06 339.50,704.08 340.00,704.09 340.50,704.10 341.00,704.10 341.50,704.10 342.00,704.10 342.50,704.10 343.00,704.10 343.50,704.10 344.00,704.10 344.50,704.10 345.00,704.10 345.50,704.10 346.00,704.10 346.50,704.10 347.00,704.10 347.50,704.10 348.00,704.10 348.50,704.10 349.00,704.10 349.50,704.10 350.00,704.10 350.50,704.10 351.00,704.10 351.50,704.10 352.00,704.10 352.50,704.10 353.00,704.10 353.50,704.10 354.00,704.10 354.50,704.10 355.00,704.10 355.50,704.10 356.00,704.10 356.50,704.10 357.00,704.10 357.50,704.10 358.00,704.10 358.50,704.10 359.00,704.10 359.50,704.10 360.00,704.10 360.50,704.10 361.00,704.10 361.50,704.10 362.00,704.10 362.50,704.10 363.00,704.10 363.50,704.10 364.00,704.10 364.50,704.10 365.00,704.10 365.50,704.10 366.00,704.10 366.50,704.10 367.00,704.10 367.50,704.10 368.00,704.10 368.50,704.10 369.00,704.10 369.50,704.10 370.00,704.10 370.50,704.10 371.00,704.10" fill="none" stroke="#3d78b8" stroke-width="0.75" stroke-linejoin="round" clip-path="url(#hc303636)"/>
<polyline points="304.00,704.10 304.50,704.10 305.00,704.10 305.50,704.10 306.00,704.10 306.50,704.10 307.00,704.10 307.50,704.09 308.00,704.09 308.50,704.08 309.00,704.07 309.50,704.06 310.00,704.04 310.50,704.01 311.00,703.98 311.50,703.93 312.00,703.87 312.50,703.78 313.00,703.68 313.50,703.54 314.00,703.38 314.50,703.18 315.00,702.95 315.50,702.67 316.00,702.36 316.50,702.01 317.00,701.63 317.50,701.21 318.00,700.77 318.50,700.32 319.00,699.84 319.50,699.36 320.00,698.87 320.50,698.37 321.00,697.87 321.50,697.34 322.00,696.78 322.50,696.18 323.00,695.52 323.50,694.80 324.00,694.00 324.50,693.12 325.00,692.14 325.50,691.06 326.00,689.86 326.50,688.52 327.00,687.00 327.50,685.22 328.00,683.13 328.50,680.62 329.00,677.65 329.50,674.18 330.00,670.24 330.50,665.99 331.00,661.64 331.50,657.53 332.00,654.03 332.50,651.55 333.00,650.40 333.50,650.81 334.00,652.84 334.50,656.37 335.00,661.11 335.50,666.69 336.00,672.66 336.50,678.60 337.00,684.13 337.50,689.02 338.00,693.11 338.50,696.38 339.00,698.86 339.50,700.68 340.00,701.94 340.50,702.79 341.00,703.33 341.50,703.66 342.00,703.86 342.50,703.97 343.00,704.04 343.50,704.07 344.00,704.09 344.50,704.09 345.00,704.10 345.50,704.10 346.00,704.10 346.50,704.10 347.00,704.10 347.50,704.10 348.00,704.10 348.50,704.10 349.00,704.10 349.50,704.10 350.00,704.10 350.50,704.10 351.00,704.10 351.50,704.10 352.00,704.10 352.50,704.10 353.00,704.10 353.50,704.10 354.00,704.10 354.50,704.10 355.00,704.10 355.50,704.10 356.00,704.10 356.50,704.10 357.00,704.10 357.50,704.10 358.00,704.10 358.50,704.10 359.00,704.10 359.50,704.10 360.00,704.10 360.50,704.10 361.00,704.10 361.50,704.10 362.00,704.10 362.50,704.10 363.00,704.10 363.50,704.10 364.00,704.10 364.50,704.10 365.00,704.10 365.50,704.10 366.00,704.10 366.50,704.10 367.00,704.10 367.50,704.10 368.00,704.10 368.50,704.10 369.00,704.10 369.50,704.10 370.00,704.10 370.50,704.10 371.00,704.10" fill="none" stroke="#e0405a" stroke-width="0.75" stroke-linejoin="round" clip-path="url(#hc303636)"/>
<rect x="303.90" y="636.60" width="67.70" height="67.70" fill="none" stroke="#111" stroke-width="1.0"/>
<line x1="303.90" y1="697.90" x2="305.30" y2="697.90" stroke="#111" stroke-width="0.6"/>
<line x1="303.90" y1="691.40" x2="305.30" y2="691.40" stroke="#111" stroke-width="0.6"/>
<line x1="303.90" y1="684.90" x2="305.30" y2="684.90" stroke="#111" stroke-width="0.6"/>
<line x1="303.90" y1="678.40" x2="305.30" y2="678.40" stroke="#111" stroke-width="0.6"/>
<line x1="303.90" y1="671.90" x2="305.30" y2="671.90" stroke="#111" stroke-width="0.6"/>
<line x1="303.90" y1="665.40" x2="305.30" y2="665.40" stroke="#111" stroke-width="0.6"/>
<line x1="303.90" y1="658.90" x2="305.30" y2="658.90" stroke="#111" stroke-width="0.6"/>
<line x1="303.90" y1="652.40" x2="305.30" y2="652.40" stroke="#111" stroke-width="0.6"/>
<line x1="303.90" y1="645.90" x2="305.30" y2="645.90" stroke="#111" stroke-width="0.6"/>
<line x1="307.90" y1="704.30" x2="307.90" y2="702.70" stroke="#111" stroke-width="0.6"/>
<line x1="310.54" y1="704.30" x2="310.54" y2="703.30" stroke="#111" stroke-width="0.6"/>
<line x1="312.22" y1="704.30" x2="312.22" y2="703.30" stroke="#111" stroke-width="0.6"/>
<line x1="313.42" y1="704.30" x2="313.42" y2="703.30" stroke="#111" stroke-width="0.6"/>
<line x1="314.26" y1="704.30" x2="314.26" y2="703.30" stroke="#111" stroke-width="0.6"/>
<line x1="314.98" y1="704.30" x2="314.98" y2="703.30" stroke="#111" stroke-width="0.6"/>
<line x1="315.58" y1="704.30" x2="315.58" y2="703.30" stroke="#111" stroke-width="0.6"/>
<line x1="316.18" y1="704.30" x2="316.18" y2="703.30" stroke="#111" stroke-width="0.6"/>
<line x1="324.02" y1="704.30" x2="324.02" y2="702.70" stroke="#111" stroke-width="0.6"/>
<line x1="326.66" y1="704.30" x2="326.66" y2="703.30" stroke="#111" stroke-width="0.6"/>
<line x1="328.34" y1="704.30" x2="328.34" y2="703.30" stroke="#111" stroke-width="0.6"/>
<line x1="329.54" y1="704.30" x2="329.54" y2="703.30" stroke="#111" stroke-width="0.6"/>
<line x1="330.38" y1="704.30" x2="330.38" y2="703.30" stroke="#111" stroke-width="0.6"/>
<line x1="331.10" y1="704.30" x2="331.10" y2="703.30" stroke="#111" stroke-width="0.6"/>
<line x1="331.70" y1="704.30" x2="331.70" y2="703.30" stroke="#111" stroke-width="0.6"/>
<line x1="332.30" y1="704.30" x2="332.30" y2="703.30" stroke="#111" stroke-width="0.6"/>
<line x1="340.14" y1="704.30" x2="340.14" y2="702.70" stroke="#111" stroke-width="0.6"/>
<line x1="342.78" y1="704.30" x2="342.78" y2="703.30" stroke="#111" stroke-width="0.6"/>
<line x1="344.46" y1="704.30" x2="344.46" y2="703.30" stroke="#111" stroke-width="0.6"/>
<line x1="345.66" y1="704.30" x2="345.66" y2="703.30" stroke="#111" stroke-width="0.6"/>
<line x1="346.50" y1="704.30" x2="346.50" y2="703.30" stroke="#111" stroke-width="0.6"/>
<line x1="347.22" y1="704.30" x2="347.22" y2="703.30" stroke="#111" stroke-width="0.6"/>
<line x1="347.82" y1="704.30" x2="347.82" y2="703.30" stroke="#111" stroke-width="0.6"/>
<line x1="348.42" y1="704.30" x2="348.42" y2="703.30" stroke="#111" stroke-width="0.6"/>
<line x1="356.26" y1="704.30" x2="356.26" y2="702.70" stroke="#111" stroke-width="0.6"/>
<line x1="358.90" y1="704.30" x2="358.90" y2="703.30" stroke="#111" stroke-width="0.6"/>
<line x1="360.58" y1="704.30" x2="360.58" y2="703.30" stroke="#111" stroke-width="0.6"/>
<line x1="361.78" y1="704.30" x2="361.78" y2="703.30" stroke="#111" stroke-width="0.6"/>
<line x1="362.62" y1="704.30" x2="362.62" y2="703.30" stroke="#111" stroke-width="0.6"/>
<line x1="363.34" y1="704.30" x2="363.34" y2="703.30" stroke="#111" stroke-width="0.6"/>
<line x1="363.94" y1="704.30" x2="363.94" y2="703.30" stroke="#111" stroke-width="0.6"/>
<line x1="364.54" y1="704.30" x2="364.54" y2="703.30" stroke="#111" stroke-width="0.6"/>
<text x="337.70" y="630.00" font-size="8.6" fill="#222" text-anchor="middle">LT-HSC</text>
<text x="326.80" y="720.90" font-size="8.2" fill="#222" stroke="#222" stroke-width="0.28" textLength="22.80" lengthAdjust="spacingAndGlyphs">OP-Puro</text>
<text x="291.20" y="670.60" font-size="7.8" fill="#222" text-anchor="middle" stroke="#222" stroke-width="0.28" textLength="18.00" lengthAdjust="spacingAndGlyphs" transform="rotate(-90 291.20 670.60)">Count</text>
<line x1="306.30" y1="640.60" x2="308.70" y2="640.60" stroke="#6cbf6c" stroke-width="0.8"/>
<text x="310.30" y="642.70" font-size="6.6" fill="#333">Negative</text>
<line x1="338.10" y1="640.60" x2="341.50" y2="640.60" stroke="#e0405a" stroke-width="0.8"/>
<text x="343.10" y="642.70" font-size="6.6" fill="#333">WT + IR</text>
<line x1="306.30" y1="647.60" x2="308.70" y2="647.60" stroke="#3a6fb0" stroke-width="0.8"/>
<text x="310.30" y="649.80" font-size="6.6" fill="#333">MC5R<tspan font-size="3.7" dy="-2.6">−/−</tspan><tspan dy="2.6"> + IR</tspan></text>
<line x1="414.00" y1="508.10" x2="414.00" y2="585.50" stroke="#333" stroke-width="1.0"/>
<line x1="413.50" y1="585.00" x2="470.40" y2="585.00" stroke="#333" stroke-width="1.0"/>
<line x1="410.80" y1="585.00" x2="414.00" y2="585.00" stroke="#333" stroke-width="0.9"/>
<text x="408.60" y="587.40" font-size="6.9" fill="#333" text-anchor="end">0</text>
<line x1="410.80" y1="560.33" x2="414.00" y2="560.33" stroke="#333" stroke-width="0.9"/>
<text x="408.60" y="562.73" font-size="6.9" fill="#333" text-anchor="end">1000</text>
<line x1="410.80" y1="535.66" x2="414.00" y2="535.66" stroke="#333" stroke-width="0.9"/>
<text x="408.60" y="538.06" font-size="6.9" fill="#333" text-anchor="end">2000</text>
<line x1="410.80" y1="510.99" x2="414.00" y2="510.99" stroke="#333" stroke-width="0.9"/>
<text x="408.60" y="513.39" font-size="6.9" fill="#333" text-anchor="end">3000</text>
<text x="440.00" y="501.50" font-size="8.6" fill="#222" text-anchor="middle">MTG</text>
<text x="386.30" y="548.00" font-size="8.0" fill="#222" text-anchor="middle" stroke="#222" stroke-width="0.28" textLength="10.60" lengthAdjust="spacingAndGlyphs" transform="rotate(-90 386.30 548.00)">MFI</text>
<rect x="418.10" y="527.90" width="8.60" height="57.10" fill="#cc1431"/>
<rect x="418.90" y="528.70" width="7.00" height="6.50" fill="#4a0c18" opacity="0.35"/>
<line x1="422.40" y1="527.90" x2="422.40" y2="524.40" stroke="#333" stroke-width="0.7"/>
<line x1="420.90" y1="524.40" x2="423.90" y2="524.40" stroke="#333" stroke-width="0.7"/>
<circle cx="420.80" cy="522.90" r="1.35" fill="none" stroke="#333" stroke-width="0.6"/>
<circle cx="424.00" cy="522.90" r="1.35" fill="none" stroke="#333" stroke-width="0.6"/>
<circle cx="422.40" cy="526.40" r="1.35" fill="none" stroke="#333" stroke-width="0.6"/>
<circle cx="421.20" cy="530.40" r="1.35" fill="none" stroke="#333" stroke-width="0.6"/>
<circle cx="423.80" cy="531.90" r="1.35" fill="none" stroke="#333" stroke-width="0.6"/>
<rect x="431.00" y="548.50" width="8.20" height="36.50" fill="#1c4f8a"/>
<rect x="431.80" y="549.30" width="6.60" height="6.50" fill="#0c2240" opacity="0.35"/>
<line x1="435.10" y1="548.50" x2="435.10" y2="545.00" stroke="#333" stroke-width="0.7"/>
<line x1="433.60" y1="545.00" x2="436.60" y2="545.00" stroke="#333" stroke-width="0.7"/>
<polygon points="432.20,547.00 434.80,547.00 433.50,544.70" fill="none" stroke="#333" stroke-width="0.6"/>
<polygon points="435.40,546.00 438.00,546.00 436.70,543.70" fill="none" stroke="#333" stroke-width="0.6"/>
<polygon points="433.80,550.00 436.40,550.00 435.10,547.70" fill="none" stroke="#333" stroke-width="0.6"/>
<polygon points="432.60,553.00 435.20,553.00 433.90,550.70" fill="none" stroke="#333" stroke-width="0.6"/>
<polygon points="435.20,554.50 437.80,554.50 436.50,552.20" fill="none" stroke="#333" stroke-width="0.6"/>
<rect x="447.70" y="536.20" width="8.30" height="48.80" fill="#cc1431"/>
<rect x="448.50" y="537.00" width="6.70" height="6.50" fill="#4a0c18" opacity="0.35"/>
<line x1="451.85" y1="536.20" x2="451.85" y2="532.70" stroke="#333" stroke-width="0.7"/>
<line x1="450.35" y1="532.70" x2="453.35" y2="532.70" stroke="#333" stroke-width="0.7"/>
<circle cx="450.25" cy="531.20" r="1.35" fill="none" stroke="#333" stroke-width="0.6"/>
<circle cx="453.45" cy="531.20" r="1.35" fill="none" stroke="#333" stroke-width="0.6"/>
<circle cx="451.85" cy="534.70" r="1.35" fill="none" stroke="#333" stroke-width="0.6"/>
<circle cx="450.65" cy="538.70" r="1.35" fill="none" stroke="#333" stroke-width="0.6"/>
<circle cx="453.25" cy="540.20" r="1.35" fill="none" stroke="#333" stroke-width="0.6"/>
<rect x="460.40" y="552.30" width="8.40" height="32.70" fill="#1c4f8a"/>
<rect x="461.20" y="553.10" width="6.80" height="6.50" fill="#0c2240" opacity="0.35"/>
<line x1="464.60" y1="552.30" x2="464.60" y2="548.80" stroke="#333" stroke-width="0.7"/>
<line x1="463.10" y1="548.80" x2="466.10" y2="548.80" stroke="#333" stroke-width="0.7"/>
<polygon points="461.70,550.80 464.30,550.80 463.00,548.50" fill="none" stroke="#333" stroke-width="0.6"/>
<polygon points="464.90,549.80 467.50,549.80 466.20,547.50" fill="none" stroke="#333" stroke-width="0.6"/>
<polygon points="463.30,553.80 465.90,553.80 464.60,551.50" fill="none" stroke="#333" stroke-width="0.6"/>
<polygon points="462.10,556.80 464.70,556.80 463.40,554.50" fill="none" stroke="#333" stroke-width="0.6"/>
<polygon points="464.70,558.30 467.30,558.30 466.00,556.00" fill="none" stroke="#333" stroke-width="0.6"/>
<text x="435.10" y="539.20" font-size="7.6" fill="#222" text-anchor="middle">***</text>
<text x="464.60" y="545.30" font-size="7.6" fill="#222" text-anchor="middle">***</text>
<rect x="429.20" y="510.60" width="4.60" height="4.40" fill="#cc1431"/>
<text x="436.40" y="515.00" font-size="7.0" fill="#333">WT + IR</text>
<rect x="429.20" y="517.60" width="4.60" height="4.40" fill="#1c4f8a"/>
<text x="436.40" y="521.90" font-size="7.0" fill="#333">MC5R<tspan font-size="3.9" dy="-2.7">−/−</tspan><tspan dy="2.7"> + IR</tspan></text>
<line x1="428.50" y1="585.00" x2="428.50" y2="587.80" stroke="#333" stroke-width="0.9"/>
<text x="428.50" y="597.20" font-size="7.0" fill="#333" text-anchor="middle">LSK</text>
<line x1="457.90" y1="585.00" x2="457.90" y2="587.80" stroke="#333" stroke-width="0.9"/>
<text x="457.90" y="597.20" font-size="7.0" fill="#333" text-anchor="middle">LT-HSC</text>
<line x1="161.70" y1="637.00" x2="161.70" y2="714.10" stroke="#333" stroke-width="1.0"/>
<line x1="161.20" y1="713.60" x2="221.00" y2="713.60" stroke="#333" stroke-width="1.0"/>
<line x1="158.50" y1="713.60" x2="161.70" y2="713.60" stroke="#333" stroke-width="0.9"/>
<text x="156.00" y="716.00" font-size="6.9" fill="#333" text-anchor="end">0</text>
<line x1="158.50" y1="688.73" x2="161.70" y2="688.73" stroke="#333" stroke-width="0.9"/>
<text x="156.00" y="691.13" font-size="6.9" fill="#333" text-anchor="end">2000</text>
<line x1="158.50" y1="663.86" x2="161.70" y2="663.86" stroke="#333" stroke-width="0.9"/>
<text x="156.00" y="666.26" font-size="6.9" fill="#333" text-anchor="end">4000</text>
<line x1="158.50" y1="638.99" x2="161.70" y2="638.99" stroke="#333" stroke-width="0.9"/>
<text x="156.00" y="641.39" font-size="6.9" fill="#333" text-anchor="end">6000</text>
<text x="192.40" y="630.40" font-size="8.6" fill="#222" text-anchor="middle">TMRM</text>
<text x="133.00" y="675.40" font-size="8.0" fill="#222" text-anchor="middle" stroke="#222" stroke-width="0.28" textLength="10.60" lengthAdjust="spacingAndGlyphs" transform="rotate(-90 133.00 675.40)">MFI</text>
<rect x="166.30" y="653.80" width="8.90" height="59.80" fill="#cc1431"/>
<rect x="167.10" y="654.60" width="7.30" height="6.50" fill="#4a0c18" opacity="0.35"/>
<line x1="170.75" y1="653.80" x2="170.75" y2="650.30" stroke="#333" stroke-width="0.7"/>
<line x1="169.25" y1="650.30" x2="172.25" y2="650.30" stroke="#333" stroke-width="0.7"/>
<circle cx="169.15" cy="648.80" r="1.35" fill="none" stroke="#333" stroke-width="0.6"/>
<circle cx="172.35" cy="648.80" r="1.35" fill="none" stroke="#333" stroke-width="0.6"/>
<circle cx="170.75" cy="652.30" r="1.35" fill="none" stroke="#333" stroke-width="0.6"/>
<circle cx="169.55" cy="656.30" r="1.35" fill="none" stroke="#333" stroke-width="0.6"/>
<circle cx="172.15" cy="657.80" r="1.35" fill="none" stroke="#333" stroke-width="0.6"/>
<rect x="179.20" y="680.20" width="8.70" height="33.40" fill="#1c4f8a"/>
<rect x="180.00" y="681.00" width="7.10" height="6.50" fill="#0c2240" opacity="0.35"/>
<line x1="183.55" y1="680.20" x2="183.55" y2="676.70" stroke="#333" stroke-width="0.7"/>
<line x1="182.05" y1="676.70" x2="185.05" y2="676.70" stroke="#333" stroke-width="0.7"/>
<polygon points="180.65,678.70 183.25,678.70 181.95,676.40" fill="none" stroke="#333" stroke-width="0.6"/>
<polygon points="183.85,677.70 186.45,677.70 185.15,675.40" fill="none" stroke="#333" stroke-width="0.6"/>
<polygon points="182.25,681.70 184.85,681.70 183.55,679.40" fill="none" stroke="#333" stroke-width="0.6"/>
<polygon points="181.05,684.70 183.65,684.70 182.35,682.40" fill="none" stroke="#333" stroke-width="0.6"/>
<polygon points="183.65,686.20 186.25,686.20 184.95,683.90" fill="none" stroke="#333" stroke-width="0.6"/>
<rect x="196.20" y="661.90" width="8.90" height="51.70" fill="#cc1431"/>
<rect x="197.00" y="662.70" width="7.30" height="6.50" fill="#4a0c18" opacity="0.35"/>
<line x1="200.65" y1="661.90" x2="200.65" y2="658.40" stroke="#333" stroke-width="0.7"/>
<line x1="199.15" y1="658.40" x2="202.15" y2="658.40" stroke="#333" stroke-width="0.7"/>
<circle cx="199.05" cy="656.90" r="1.35" fill="none" stroke="#333" stroke-width="0.6"/>
<circle cx="202.25" cy="656.90" r="1.35" fill="none" stroke="#333" stroke-width="0.6"/>
<circle cx="200.65" cy="660.40" r="1.35" fill="none" stroke="#333" stroke-width="0.6"/>
<circle cx="199.45" cy="664.40" r="1.35" fill="none" stroke="#333" stroke-width="0.6"/>
<circle cx="202.05" cy="665.90" r="1.35" fill="none" stroke="#333" stroke-width="0.6"/>
<rect x="208.90" y="685.60" width="8.60" height="28.00" fill="#1c4f8a"/>
<rect x="209.70" y="686.40" width="7.00" height="6.50" fill="#0c2240" opacity="0.35"/>
<line x1="213.20" y1="685.60" x2="213.20" y2="682.10" stroke="#333" stroke-width="0.7"/>
<line x1="211.70" y1="682.10" x2="214.70" y2="682.10" stroke="#333" stroke-width="0.7"/>
<polygon points="210.30,684.10 212.90,684.10 211.60,681.80" fill="none" stroke="#333" stroke-width="0.6"/>
<polygon points="213.50,683.10 216.10,683.10 214.80,680.80" fill="none" stroke="#333" stroke-width="0.6"/>
<polygon points="211.90,687.10 214.50,687.10 213.20,684.80" fill="none" stroke="#333" stroke-width="0.6"/>
<polygon points="210.70,690.10 213.30,690.10 212.00,687.80" fill="none" stroke="#333" stroke-width="0.6"/>
<polygon points="213.30,691.60 215.90,691.60 214.60,689.30" fill="none" stroke="#333" stroke-width="0.6"/>
<text x="183.50" y="672.50" font-size="7.6" fill="#222" text-anchor="middle">***</text>
<text x="213.20" y="676.20" font-size="7.6" fill="#222" text-anchor="middle">***</text>
<rect x="177.50" y="639.00" width="4.60" height="4.40" fill="#cc1431"/>
<text x="184.70" y="643.40" font-size="7.0" fill="#333">WT + IR</text>
<rect x="177.50" y="646.00" width="4.60" height="4.40" fill="#1c4f8a"/>
<text x="184.70" y="650.30" font-size="7.0" fill="#333">MC5R<tspan font-size="3.9" dy="-2.7">−/−</tspan><tspan dy="2.7"> + IR</tspan></text>
<line x1="177.00" y1="713.60" x2="177.00" y2="716.40" stroke="#333" stroke-width="0.9"/>
<text x="177.00" y="726.50" font-size="7.0" fill="#333" text-anchor="middle">LSK</text>
<line x1="206.80" y1="713.60" x2="206.80" y2="716.40" stroke="#333" stroke-width="0.9"/>
<text x="206.80" y="726.50" font-size="7.0" fill="#333" text-anchor="middle">LT-HSC</text>
<line x1="415.00" y1="637.00" x2="415.00" y2="714.10" stroke="#333" stroke-width="1.0"/>
<line x1="414.50" y1="713.60" x2="474.50" y2="713.60" stroke="#333" stroke-width="1.0"/>
<line x1="411.80" y1="713.60" x2="415.00" y2="713.60" stroke="#333" stroke-width="0.9"/>
<text x="409.30" y="716.00" font-size="6.9" fill="#333" text-anchor="end">0</text>
<line x1="411.80" y1="695.10" x2="415.00" y2="695.10" stroke="#333" stroke-width="0.9"/>
<text x="409.30" y="697.50" font-size="6.9" fill="#333" text-anchor="end">300</text>
<line x1="411.80" y1="676.60" x2="415.00" y2="676.60" stroke="#333" stroke-width="0.9"/>
<text x="409.30" y="679.00" font-size="6.9" fill="#333" text-anchor="end">600</text>
<line x1="411.80" y1="658.10" x2="415.00" y2="658.10" stroke="#333" stroke-width="0.9"/>
<text x="409.30" y="660.50" font-size="6.9" fill="#333" text-anchor="end">900</text>
<line x1="411.80" y1="639.60" x2="415.00" y2="639.60" stroke="#333" stroke-width="0.9"/>
<text x="409.30" y="642.00" font-size="6.9" fill="#333" text-anchor="end">1200</text>
<text x="445.30" y="630.20" font-size="8.6" fill="#222" text-anchor="middle">OP-Puro</text>
<text x="387.60" y="675.40" font-size="8.0" fill="#222" text-anchor="middle" stroke="#222" stroke-width="0.28" textLength="10.60" lengthAdjust="spacingAndGlyphs" transform="rotate(-90 387.60 675.40)">MFI</text>
<rect x="419.80" y="667.90" width="8.70" height="45.70" fill="#cc1431"/>
<rect x="420.60" y="668.70" width="7.10" height="6.50" fill="#4a0c18" opacity="0.35"/>
<line x1="424.15" y1="667.90" x2="424.15" y2="664.40" stroke="#333" stroke-width="0.7"/>
<line x1="422.65" y1="664.40" x2="425.65" y2="664.40" stroke="#333" stroke-width="0.7"/>
<circle cx="422.55" cy="662.90" r="1.35" fill="none" stroke="#333" stroke-width="0.6"/>
<circle cx="425.75" cy="662.90" r="1.35" fill="none" stroke="#333" stroke-width="0.6"/>
<circle cx="424.15" cy="666.40" r="1.35" fill="none" stroke="#333" stroke-width="0.6"/>
<circle cx="422.95" cy="670.40" r="1.35" fill="none" stroke="#333" stroke-width="0.6"/>
<circle cx="425.55" cy="671.90" r="1.35" fill="none" stroke="#333" stroke-width="0.6"/>
<rect x="432.50" y="682.90" width="8.90" height="30.70" fill="#1c4f8a"/>
<rect x="433.30" y="683.70" width="7.30" height="6.50" fill="#0c2240" opacity="0.35"/>
<line x1="436.95" y1="682.90" x2="436.95" y2="679.40" stroke="#333" stroke-width="0.7"/>
<line x1="435.45" y1="679.40" x2="438.45" y2="679.40" stroke="#333" stroke-width="0.7"/>
<polygon points="434.05,681.40 436.65,681.40 435.35,679.10" fill="none" stroke="#333" stroke-width="0.6"/>
<polygon points="437.25,680.40 439.85,680.40 438.55,678.10" fill="none" stroke="#333" stroke-width="0.6"/>
<polygon points="435.65,684.40 438.25,684.40 436.95,682.10" fill="none" stroke="#333" stroke-width="0.6"/>
<polygon points="434.45,687.40 437.05,687.40 435.75,685.10" fill="none" stroke="#333" stroke-width="0.6"/>
<polygon points="437.05,688.90 439.65,688.90 438.35,686.60" fill="none" stroke="#333" stroke-width="0.6"/>
<rect x="449.50" y="670.50" width="8.60" height="43.10" fill="#cc1431"/>
<rect x="450.30" y="671.30" width="7.00" height="6.50" fill="#4a0c18" opacity="0.35"/>
<line x1="453.80" y1="670.50" x2="453.80" y2="667.00" stroke="#333" stroke-width="0.7"/>
<line x1="452.30" y1="667.00" x2="455.30" y2="667.00" stroke="#333" stroke-width="0.7"/>
<circle cx="452.20" cy="665.50" r="1.35" fill="none" stroke="#333" stroke-width="0.6"/>
<circle cx="455.40" cy="665.50" r="1.35" fill="none" stroke="#333" stroke-width="0.6"/>
<circle cx="453.80" cy="669.00" r="1.35" fill="none" stroke="#333" stroke-width="0.6"/>
<circle cx="452.60" cy="673.00" r="1.35" fill="none" stroke="#333" stroke-width="0.6"/>
<circle cx="455.20" cy="674.50" r="1.35" fill="none" stroke="#333" stroke-width="0.6"/>
<rect x="462.10" y="687.50" width="8.90" height="26.10" fill="#1c4f8a"/>
<rect x="462.90" y="688.30" width="7.30" height="6.50" fill="#0c2240" opacity="0.35"/>
<line x1="466.55" y1="687.50" x2="466.55" y2="684.00" stroke="#333" stroke-width="0.7"/>
<line x1="465.05" y1="684.00" x2="468.05" y2="684.00" stroke="#333" stroke-width="0.7"/>
<polygon points="463.65,686.00 466.25,686.00 464.95,683.70" fill="none" stroke="#333" stroke-width="0.6"/>
<polygon points="466.85,685.00 469.45,685.00 468.15,682.70" fill="none" stroke="#333" stroke-width="0.6"/>
<polygon points="465.25,689.00 467.85,689.00 466.55,686.70" fill="none" stroke="#333" stroke-width="0.6"/>
<polygon points="464.05,692.00 466.65,692.00 465.35,689.70" fill="none" stroke="#333" stroke-width="0.6"/>
<polygon points="466.65,693.50 469.25,693.50 467.95,691.20" fill="none" stroke="#333" stroke-width="0.6"/>
<text x="437.00" y="674.40" font-size="7.6" fill="#222" text-anchor="middle">***</text>
<text x="466.50" y="679.20" font-size="7.6" fill="#222" text-anchor="middle">***</text>
<rect x="430.20" y="639.50" width="4.60" height="4.40" fill="#cc1431"/>
<text x="437.40" y="643.90" font-size="7.0" fill="#333">WT + IR</text>
<rect x="430.20" y="646.50" width="4.60" height="4.40" fill="#1c4f8a"/>
<text x="437.40" y="650.80" font-size="7.0" fill="#333">MC5R<tspan font-size="3.9" dy="-2.7">−/−</tspan><tspan dy="2.7"> + IR</tspan></text>
<line x1="430.40" y1="713.60" x2="430.40" y2="716.40" stroke="#333" stroke-width="0.9"/>
<text x="430.40" y="726.30" font-size="7.0" fill="#333" text-anchor="middle">LSK</text>
<line x1="460.10" y1="713.60" x2="460.10" y2="716.40" stroke="#333" stroke-width="0.9"/>
<text x="460.10" y="726.30" font-size="7.0" fill="#333" text-anchor="middle">LT-HSC</text>
<rect x="0.5" y="0.5" width="519" height="734" fill="none" stroke="#444" stroke-width="1.3"/>
</svg></body></html>
